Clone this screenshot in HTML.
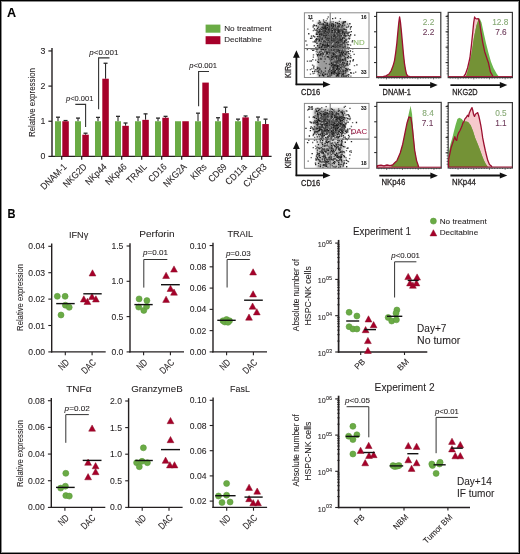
<!DOCTYPE html>
<html><head><meta charset="utf-8"><style>
html,body{margin:0;padding:0;background:#fff;}
#fig{position:relative;width:520px;height:554px;overflow:hidden;background:#fff;}
#fig svg{position:absolute;left:0;top:0;will-change:transform;}
#frame{position:absolute;left:0;top:0;width:520px;height:554px;box-sizing:border-box;border:1px solid #000;box-shadow:inset 0 0 0 1px rgba(0,0,0,0.45);}
text{font-family:"Liberation Sans", sans-serif;}
</style></head><body>
<div id="fig">
<svg width="520" height="554" viewBox="0 0 520 554" font-family='"Liberation Sans", sans-serif' fill="#231f20">
<text x="7.00" y="16.80" font-size="12.6" stroke="#000" stroke-width="0.08" font-weight="bold" fill="#000" >A</text>
<text x="7.60" y="217.90" font-size="12.6" stroke="#000" stroke-width="0.08" font-weight="bold" fill="#000" textLength="8.0" lengthAdjust="spacingAndGlyphs" >B</text>
<text x="282.80" y="217.90" font-size="12.6" stroke="#000" stroke-width="0.08" font-weight="bold" fill="#000" textLength="8.0" lengthAdjust="spacingAndGlyphs" >C</text>
<line x1="52.00" y1="48.05" x2="52.00" y2="157.10" stroke="#231f20" stroke-width="1.4" />
<line x1="51.30" y1="156.40" x2="271.60" y2="156.40" stroke="#231f20" stroke-width="1.4" />
<line x1="48.40" y1="156.40" x2="52.00" y2="156.40" stroke="#231f20" stroke-width="1.2" />
<text x="45.30" y="159.40" font-size="8.8" stroke="#231f20" stroke-width="0.08" text-anchor="end" >0</text>
<line x1="48.40" y1="121.25" x2="52.00" y2="121.25" stroke="#231f20" stroke-width="1.2" />
<text x="45.30" y="124.25" font-size="8.8" stroke="#231f20" stroke-width="0.08" text-anchor="end" >1</text>
<line x1="48.40" y1="86.10" x2="52.00" y2="86.10" stroke="#231f20" stroke-width="1.2" />
<text x="45.30" y="89.10" font-size="8.8" stroke="#231f20" stroke-width="0.08" text-anchor="end" >2</text>
<line x1="48.40" y1="50.95" x2="52.00" y2="50.95" stroke="#231f20" stroke-width="1.2" />
<text x="45.30" y="53.95" font-size="8.8" stroke="#231f20" stroke-width="0.08" text-anchor="end" >3</text>
<text x="34.90" y="102.50" font-size="8.6" stroke="#231f20" stroke-width="0.08" text-anchor="middle" transform="rotate(-90 34.90 102.50)" textLength="69.0" lengthAdjust="spacingAndGlyphs" >Relative expression</text>
<line x1="58.00" y1="121.25" x2="58.00" y2="117.21" stroke="#2a2a2a" stroke-width="1.1" />
<line x1="56.00" y1="117.21" x2="60.00" y2="117.21" stroke="#2a2a2a" stroke-width="1.3" />
<line x1="65.55" y1="121.25" x2="65.55" y2="120.55" stroke="#2a2a2a" stroke-width="1.1" />
<line x1="63.55" y1="120.55" x2="67.55" y2="120.55" stroke="#2a2a2a" stroke-width="1.3" />
<rect x="55.00" y="121.25" width="6.00" height="35.15" fill="#6aab45" />
<rect x="62.30" y="121.25" width="6.50" height="35.15" fill="#a6002a" />
<line x1="61.70" y1="156.40" x2="61.70" y2="159.80" stroke="#231f20" stroke-width="1.2" />
<text x="67.30" y="167.40" font-size="9.4" stroke="#231f20" stroke-width="0.08" text-anchor="end" transform="rotate(-45 67.30 167.40)" textLength="32.43" lengthAdjust="spacingAndGlyphs" >DNAM-1</text>
<line x1="78.00" y1="121.25" x2="78.00" y2="118.09" stroke="#2a2a2a" stroke-width="1.1" />
<line x1="76.00" y1="118.09" x2="80.00" y2="118.09" stroke="#2a2a2a" stroke-width="1.3" />
<line x1="85.55" y1="134.71" x2="85.55" y2="133.20" stroke="#2a2a2a" stroke-width="1.1" />
<line x1="83.55" y1="133.20" x2="87.55" y2="133.20" stroke="#2a2a2a" stroke-width="1.3" />
<rect x="75.00" y="121.25" width="6.00" height="35.15" fill="#6aab45" />
<rect x="82.30" y="134.71" width="6.50" height="21.69" fill="#a6002a" />
<line x1="81.70" y1="156.40" x2="81.70" y2="159.80" stroke="#231f20" stroke-width="1.2" />
<text x="87.30" y="167.40" font-size="9.4" stroke="#231f20" stroke-width="0.08" text-anchor="end" transform="rotate(-45 87.30 167.40)" textLength="29.15" lengthAdjust="spacingAndGlyphs" >NKG2D</text>
<line x1="98.00" y1="121.25" x2="98.00" y2="117.38" stroke="#2a2a2a" stroke-width="1.1" />
<line x1="96.00" y1="117.38" x2="100.00" y2="117.38" stroke="#2a2a2a" stroke-width="1.3" />
<line x1="105.55" y1="78.72" x2="105.55" y2="63.25" stroke="#2a2a2a" stroke-width="1.1" />
<line x1="103.55" y1="63.25" x2="107.55" y2="63.25" stroke="#2a2a2a" stroke-width="1.3" />
<rect x="95.00" y="121.25" width="6.00" height="35.15" fill="#6aab45" />
<rect x="102.30" y="78.72" width="6.50" height="77.68" fill="#a6002a" />
<line x1="101.70" y1="156.40" x2="101.70" y2="159.80" stroke="#231f20" stroke-width="1.2" />
<text x="107.30" y="167.40" font-size="9.4" stroke="#231f20" stroke-width="0.08" text-anchor="end" transform="rotate(-45 107.30 167.40)" textLength="25.87" lengthAdjust="spacingAndGlyphs" >NKp44</text>
<line x1="118.00" y1="121.25" x2="118.00" y2="116.33" stroke="#2a2a2a" stroke-width="1.1" />
<line x1="116.00" y1="116.33" x2="120.00" y2="116.33" stroke="#2a2a2a" stroke-width="1.3" />
<line x1="125.55" y1="125.82" x2="125.55" y2="123.01" stroke="#2a2a2a" stroke-width="1.1" />
<line x1="123.55" y1="123.01" x2="127.55" y2="123.01" stroke="#2a2a2a" stroke-width="1.3" />
<rect x="115.00" y="121.25" width="6.00" height="35.15" fill="#6aab45" />
<rect x="122.30" y="125.82" width="6.50" height="30.58" fill="#a6002a" />
<line x1="121.70" y1="156.40" x2="121.70" y2="159.80" stroke="#231f20" stroke-width="1.2" />
<text x="127.30" y="167.40" font-size="9.4" stroke="#231f20" stroke-width="0.08" text-anchor="end" transform="rotate(-45 127.30 167.40)" textLength="25.87" lengthAdjust="spacingAndGlyphs" >NKp46</text>
<line x1="138.00" y1="121.25" x2="138.00" y2="117.03" stroke="#2a2a2a" stroke-width="1.1" />
<line x1="136.00" y1="117.03" x2="140.00" y2="117.03" stroke="#2a2a2a" stroke-width="1.3" />
<line x1="145.55" y1="119.84" x2="145.55" y2="113.87" stroke="#2a2a2a" stroke-width="1.1" />
<line x1="143.55" y1="113.87" x2="147.55" y2="113.87" stroke="#2a2a2a" stroke-width="1.3" />
<rect x="135.00" y="121.25" width="6.00" height="35.15" fill="#6aab45" />
<rect x="142.30" y="119.84" width="6.50" height="36.56" fill="#a6002a" />
<line x1="141.70" y1="156.40" x2="141.70" y2="159.80" stroke="#231f20" stroke-width="1.2" />
<text x="147.30" y="167.40" font-size="9.4" stroke="#231f20" stroke-width="0.08" text-anchor="end" transform="rotate(-45 147.30 167.40)" textLength="23.97" lengthAdjust="spacingAndGlyphs" >TRAIL</text>
<line x1="158.00" y1="121.25" x2="158.00" y2="118.09" stroke="#2a2a2a" stroke-width="1.1" />
<line x1="156.00" y1="118.09" x2="160.00" y2="118.09" stroke="#2a2a2a" stroke-width="1.3" />
<line x1="165.55" y1="117.74" x2="165.55" y2="116.33" stroke="#2a2a2a" stroke-width="1.1" />
<line x1="163.55" y1="116.33" x2="167.55" y2="116.33" stroke="#2a2a2a" stroke-width="1.3" />
<rect x="155.00" y="121.25" width="6.00" height="35.15" fill="#6aab45" />
<rect x="162.30" y="117.74" width="6.50" height="38.66" fill="#a6002a" />
<line x1="161.70" y1="156.40" x2="161.70" y2="159.80" stroke="#231f20" stroke-width="1.2" />
<text x="167.30" y="167.40" font-size="9.4" stroke="#231f20" stroke-width="0.08" text-anchor="end" transform="rotate(-45 167.30 167.40)" textLength="21.63" lengthAdjust="spacingAndGlyphs" >CD16</text>
<rect x="175.00" y="121.25" width="6.00" height="35.15" fill="#6aab45" />
<rect x="182.30" y="121.25" width="6.50" height="35.15" fill="#a6002a" />
<line x1="181.70" y1="156.40" x2="181.70" y2="159.80" stroke="#231f20" stroke-width="1.2" />
<text x="187.30" y="167.40" font-size="9.4" stroke="#231f20" stroke-width="0.08" text-anchor="end" transform="rotate(-45 187.30 167.40)" textLength="28.68" lengthAdjust="spacingAndGlyphs" >NKG2A</text>
<line x1="198.00" y1="121.25" x2="198.00" y2="113.17" stroke="#2a2a2a" stroke-width="1.1" />
<line x1="196.00" y1="113.17" x2="200.00" y2="113.17" stroke="#2a2a2a" stroke-width="1.3" />
<rect x="195.00" y="121.25" width="6.00" height="35.15" fill="#6aab45" />
<rect x="202.30" y="82.59" width="6.50" height="73.81" fill="#a6002a" />
<line x1="201.70" y1="156.40" x2="201.70" y2="159.80" stroke="#231f20" stroke-width="1.2" />
<text x="207.30" y="167.40" font-size="9.4" stroke="#231f20" stroke-width="0.08" text-anchor="end" transform="rotate(-45 207.30 167.40)" textLength="18.33" lengthAdjust="spacingAndGlyphs" >KIRs</text>
<line x1="218.00" y1="121.25" x2="218.00" y2="117.74" stroke="#2a2a2a" stroke-width="1.1" />
<line x1="216.00" y1="117.74" x2="220.00" y2="117.74" stroke="#2a2a2a" stroke-width="1.3" />
<line x1="225.55" y1="113.17" x2="225.55" y2="107.19" stroke="#2a2a2a" stroke-width="1.1" />
<line x1="223.55" y1="107.19" x2="227.55" y2="107.19" stroke="#2a2a2a" stroke-width="1.3" />
<rect x="215.00" y="121.25" width="6.00" height="35.15" fill="#6aab45" />
<rect x="222.30" y="113.17" width="6.50" height="43.23" fill="#a6002a" />
<line x1="221.70" y1="156.40" x2="221.70" y2="159.80" stroke="#231f20" stroke-width="1.2" />
<text x="227.30" y="167.40" font-size="9.4" stroke="#231f20" stroke-width="0.08" text-anchor="end" transform="rotate(-45 227.30 167.40)" textLength="21.63" lengthAdjust="spacingAndGlyphs" >CD69</text>
<line x1="238.00" y1="121.25" x2="238.00" y2="119.14" stroke="#2a2a2a" stroke-width="1.1" />
<line x1="236.00" y1="119.14" x2="240.00" y2="119.14" stroke="#2a2a2a" stroke-width="1.3" />
<line x1="245.55" y1="117.38" x2="245.55" y2="115.98" stroke="#2a2a2a" stroke-width="1.1" />
<line x1="243.55" y1="115.98" x2="247.55" y2="115.98" stroke="#2a2a2a" stroke-width="1.3" />
<rect x="235.00" y="121.25" width="6.00" height="35.15" fill="#6aab45" />
<rect x="242.30" y="117.38" width="6.50" height="39.02" fill="#a6002a" />
<line x1="241.70" y1="156.40" x2="241.70" y2="159.80" stroke="#231f20" stroke-width="1.2" />
<text x="247.30" y="167.40" font-size="9.4" stroke="#231f20" stroke-width="0.08" text-anchor="end" transform="rotate(-45 247.30 167.40)" textLength="25.71" lengthAdjust="spacingAndGlyphs" >CD11a</text>
<line x1="258.00" y1="121.25" x2="258.00" y2="117.03" stroke="#2a2a2a" stroke-width="1.1" />
<line x1="256.00" y1="117.03" x2="260.00" y2="117.03" stroke="#2a2a2a" stroke-width="1.3" />
<line x1="265.55" y1="124.06" x2="265.55" y2="119.14" stroke="#2a2a2a" stroke-width="1.1" />
<line x1="263.55" y1="119.14" x2="267.55" y2="119.14" stroke="#2a2a2a" stroke-width="1.3" />
<rect x="255.00" y="121.25" width="6.00" height="35.15" fill="#6aab45" />
<rect x="262.30" y="124.06" width="6.50" height="32.34" fill="#a6002a" />
<line x1="261.70" y1="156.40" x2="261.70" y2="159.80" stroke="#231f20" stroke-width="1.2" />
<text x="267.30" y="167.40" font-size="9.4" stroke="#231f20" stroke-width="0.08" text-anchor="end" transform="rotate(-45 267.30 167.40)" textLength="28.68" lengthAdjust="spacingAndGlyphs" >CXCR3</text>
<text x="66.00" y="101.30" font-size="7.6" stroke="#231f20" stroke-width="0.08" textLength="27.4" lengthAdjust="spacingAndGlyphs"><tspan font-style="italic">p</tspan>&lt;0.001</text>
<polyline points="75.30,104.40 85.60,104.40 85.60,127.00" fill="none" stroke="#333" stroke-width="1.1" />
<text x="89.30" y="54.70" font-size="7.5" stroke="#231f20" stroke-width="0.08" textLength="29.2" lengthAdjust="spacingAndGlyphs"><tspan font-style="italic">p</tspan>&lt;0.001</text>
<polyline points="98.60,109.20 98.60,57.90 109.50,57.90" fill="none" stroke="#333" stroke-width="1.1" />
<text x="189.20" y="67.80" font-size="7.5" stroke="#231f20" stroke-width="0.08" textLength="27.9" lengthAdjust="spacingAndGlyphs"><tspan font-style="italic">p</tspan>&lt;0.001</text>
<polyline points="198.60,106.20 198.60,71.50 209.00,71.50" fill="none" stroke="#333" stroke-width="1.1" />
<rect x="205.60" y="24.60" width="14.80" height="8.10" fill="#6aab45" />
<rect x="205.60" y="36.20" width="14.80" height="8.00" fill="#a6002a" />
<text x="224.20" y="31.40" font-size="8.1" stroke="#231f20" stroke-width="0.08" textLength="47.3" lengthAdjust="spacingAndGlyphs" >No treatment</text>
<text x="224.20" y="42.40" font-size="8.1" stroke="#231f20" stroke-width="0.08" textLength="37.8" lengthAdjust="spacingAndGlyphs" >Decitabine</text>
<defs><filter id="blr" x="-50%" y="-50%" width="200%" height="200%"><feGaussianBlur stdDeviation="1.8"/></filter><filter id="blr2" x="-50%" y="-50%" width="200%" height="200%"><feGaussianBlur stdDeviation="3"/></filter><filter id="blr3" x="-5%" y="-5%" width="110%" height="110%"><feGaussianBlur stdDeviation="0.35"/></filter></defs>
<rect x="304.4" y="12.8" width="64.60000000000002" height="64.7" fill="#fff"/>
<clipPath id="cp12"><rect x="304.4" y="12.8" width="64.60000000000002" height="64.7"/></clipPath>
<g clip-path="url(#cp12)">
<g filter="url(#blr)">
<rect x="317" y="22" width="30" height="28" fill="#a4a4a4"/>
<rect x="318" y="49" width="30" height="31" fill="#acacac"/>
</g>
<ellipse cx="323.8" cy="65.3" rx="5.4" ry="11.4" fill="#9c9c9c" filter="url(#blr)"/>
<g filter="url(#blr3)">
<path d="M322.1 73.4h1.35v1.35h-1.35zM335.6 42.0h1.35v1.35h-1.35zM336.0 65.4h1.35v1.35h-1.35zM319.7 43.1h1.35v1.35h-1.35zM328.7 28.6h1.35v1.35h-1.35zM336.8 23.0h1.35v1.35h-1.35zM331.8 30.1h1.35v1.35h-1.35zM316.5 33.6h1.35v1.35h-1.35zM333.2 66.0h1.35v1.35h-1.35zM356.2 64.2h1.35v1.35h-1.35zM342.7 52.0h1.35v1.35h-1.35zM337.6 29.0h1.35v1.35h-1.35zM336.8 44.5h1.35v1.35h-1.35zM326.5 73.4h1.35v1.35h-1.35zM314.1 41.1h1.35v1.35h-1.35zM346.7 63.3h1.35v1.35h-1.35zM325.9 53.2h1.35v1.35h-1.35zM313.0 49.4h1.35v1.35h-1.35zM330.7 39.5h1.35v1.35h-1.35zM337.3 29.2h1.35v1.35h-1.35zM325.6 35.1h1.35v1.35h-1.35zM339.0 52.0h1.35v1.35h-1.35zM349.2 69.1h1.35v1.35h-1.35zM346.8 61.0h1.35v1.35h-1.35zM321.1 28.7h1.35v1.35h-1.35zM342.7 22.6h1.35v1.35h-1.35zM334.8 69.7h1.35v1.35h-1.35zM345.5 75.3h1.35v1.35h-1.35zM335.7 75.3h1.35v1.35h-1.35zM342.0 62.0h1.35v1.35h-1.35zM338.1 59.2h1.35v1.35h-1.35zM332.0 17.9h1.35v1.35h-1.35zM328.8 63.7h1.35v1.35h-1.35zM336.9 66.3h1.35v1.35h-1.35zM329.2 42.0h1.35v1.35h-1.35zM350.6 25.9h1.35v1.35h-1.35zM347.7 55.6h1.35v1.35h-1.35zM311.2 37.4h1.35v1.35h-1.35zM323.0 75.1h1.35v1.35h-1.35zM334.0 29.5h1.35v1.35h-1.35zM341.9 30.6h1.35v1.35h-1.35zM328.8 26.7h1.35v1.35h-1.35zM332.2 66.7h1.35v1.35h-1.35zM333.9 72.1h1.35v1.35h-1.35zM323.6 29.4h1.35v1.35h-1.35zM349.7 50.3h1.35v1.35h-1.35zM335.0 56.1h1.35v1.35h-1.35zM338.7 68.6h1.35v1.35h-1.35zM322.6 24.1h1.35v1.35h-1.35zM321.7 74.5h1.35v1.35h-1.35zM342.8 47.0h1.35v1.35h-1.35zM338.6 23.0h1.35v1.35h-1.35zM344.0 37.5h1.35v1.35h-1.35zM333.1 44.4h1.35v1.35h-1.35zM336.7 50.4h1.35v1.35h-1.35zM331.2 30.3h1.35v1.35h-1.35zM335.1 64.7h1.35v1.35h-1.35zM344.0 62.4h1.35v1.35h-1.35zM343.0 64.5h1.35v1.35h-1.35zM343.1 21.3h1.35v1.35h-1.35zM326.5 44.5h1.35v1.35h-1.35zM328.1 28.4h1.35v1.35h-1.35zM313.7 28.2h1.35v1.35h-1.35zM326.9 43.6h1.35v1.35h-1.35zM324.5 30.1h1.35v1.35h-1.35zM324.9 44.5h1.35v1.35h-1.35zM335.2 36.6h1.35v1.35h-1.35zM315.7 25.1h1.35v1.35h-1.35zM343.6 33.1h1.35v1.35h-1.35zM327.2 45.5h1.35v1.35h-1.35zM337.9 31.9h1.35v1.35h-1.35zM330.9 36.2h1.35v1.35h-1.35zM334.8 25.3h1.35v1.35h-1.35zM341.2 39.1h1.35v1.35h-1.35zM338.0 29.9h1.35v1.35h-1.35zM329.2 40.5h1.35v1.35h-1.35zM337.1 36.2h1.35v1.35h-1.35zM330.7 37.1h1.35v1.35h-1.35zM343.3 42.2h1.35v1.35h-1.35zM337.8 48.5h1.35v1.35h-1.35zM312.1 49.6h1.35v1.35h-1.35zM346.5 69.2h1.35v1.35h-1.35zM319.2 68.5h1.35v1.35h-1.35zM332.7 23.4h1.35v1.35h-1.35zM333.1 68.3h1.35v1.35h-1.35zM321.2 34.0h1.35v1.35h-1.35zM326.5 22.6h1.35v1.35h-1.35zM323.6 31.5h1.35v1.35h-1.35zM316.5 71.0h1.35v1.35h-1.35zM331.0 73.2h1.35v1.35h-1.35zM323.1 35.0h1.35v1.35h-1.35zM327.0 25.0h1.35v1.35h-1.35zM329.6 42.0h1.35v1.35h-1.35zM335.8 57.5h1.35v1.35h-1.35zM323.2 32.5h1.35v1.35h-1.35zM342.8 73.0h1.35v1.35h-1.35zM337.9 41.6h1.35v1.35h-1.35zM344.0 41.1h1.35v1.35h-1.35zM327.7 29.0h1.35v1.35h-1.35zM326.9 23.5h1.35v1.35h-1.35zM344.8 70.1h1.35v1.35h-1.35zM326.5 53.1h1.35v1.35h-1.35zM330.7 72.1h1.35v1.35h-1.35zM344.2 31.5h1.35v1.35h-1.35zM310.8 35.5h1.35v1.35h-1.35zM334.3 53.4h1.35v1.35h-1.35zM317.5 26.4h1.35v1.35h-1.35zM318.5 36.1h1.35v1.35h-1.35zM331.2 32.0h1.35v1.35h-1.35zM344.9 54.0h1.35v1.35h-1.35zM342.0 52.4h1.35v1.35h-1.35zM330.0 60.1h1.35v1.35h-1.35zM344.9 35.5h1.35v1.35h-1.35zM322.2 45.1h1.35v1.35h-1.35zM332.9 24.3h1.35v1.35h-1.35zM338.0 73.0h1.35v1.35h-1.35zM332.9 54.0h1.35v1.35h-1.35zM333.5 34.1h1.35v1.35h-1.35zM332.6 26.1h1.35v1.35h-1.35zM333.2 53.5h1.35v1.35h-1.35zM348.1 74.1h1.35v1.35h-1.35zM352.3 60.2h1.35v1.35h-1.35zM340.1 60.5h1.35v1.35h-1.35zM336.2 61.1h1.35v1.35h-1.35zM349.2 23.1h1.35v1.35h-1.35zM339.8 45.5h1.35v1.35h-1.35zM336.2 41.3h1.35v1.35h-1.35zM325.1 27.7h1.35v1.35h-1.35zM312.8 35.3h1.35v1.35h-1.35zM320.0 54.1h1.35v1.35h-1.35zM348.0 25.4h1.35v1.35h-1.35zM346.8 57.0h1.35v1.35h-1.35zM315.7 33.6h1.35v1.35h-1.35zM320.5 40.5h1.35v1.35h-1.35zM322.2 30.4h1.35v1.35h-1.35zM316.9 55.1h1.35v1.35h-1.35zM341.7 54.1h1.35v1.35h-1.35zM321.7 44.0h1.35v1.35h-1.35zM321.1 38.5h1.35v1.35h-1.35zM317.0 45.1h1.35v1.35h-1.35zM339.9 58.5h1.35v1.35h-1.35zM342.3 37.1h1.35v1.35h-1.35zM350.0 34.1h1.35v1.35h-1.35zM327.7 40.0h1.35v1.35h-1.35zM330.2 38.3h1.35v1.35h-1.35zM317.9 53.5h1.35v1.35h-1.35zM335.8 73.2h1.35v1.35h-1.35zM347.6 51.0h1.35v1.35h-1.35zM324.7 26.3h1.35v1.35h-1.35zM330.6 47.0h1.35v1.35h-1.35zM323.1 40.4h1.35v1.35h-1.35zM312.0 71.0h1.35v1.35h-1.35zM329.8 75.0h1.35v1.35h-1.35zM326.6 38.0h1.35v1.35h-1.35zM341.7 31.6h1.35v1.35h-1.35zM338.3 67.7h1.35v1.35h-1.35zM326.7 31.4h1.35v1.35h-1.35zM331.0 63.0h1.35v1.35h-1.35zM338.2 39.3h1.35v1.35h-1.35zM329.2 49.5h1.35v1.35h-1.35zM339.0 55.3h1.35v1.35h-1.35zM329.0 68.7h1.35v1.35h-1.35zM323.5 47.2h1.35v1.35h-1.35zM331.0 58.7h1.35v1.35h-1.35zM339.0 30.5h1.35v1.35h-1.35zM334.6 31.2h1.35v1.35h-1.35zM350.6 31.0h1.35v1.35h-1.35zM338.7 25.6h1.35v1.35h-1.35zM334.5 46.5h1.35v1.35h-1.35zM337.0 65.1h1.35v1.35h-1.35zM341.8 59.4h1.35v1.35h-1.35zM326.6 27.1h1.35v1.35h-1.35zM316.2 49.1h1.35v1.35h-1.35zM337.0 73.9h1.35v1.35h-1.35zM322.0 37.5h1.35v1.35h-1.35zM324.2 27.4h1.35v1.35h-1.35zM309.8 18.2h1.35v1.35h-1.35zM323.0 43.4h1.35v1.35h-1.35zM322.1 26.9h1.35v1.35h-1.35zM337.8 57.4h1.35v1.35h-1.35zM345.3 28.9h1.35v1.35h-1.35zM316.1 37.9h1.35v1.35h-1.35zM344.2 35.1h1.35v1.35h-1.35zM333.8 32.2h1.35v1.35h-1.35zM350.2 57.1h1.35v1.35h-1.35zM316.3 42.6h1.35v1.35h-1.35zM324.1 21.7h1.35v1.35h-1.35zM322.2 48.5h1.35v1.35h-1.35zM324.5 73.6h1.35v1.35h-1.35zM325.5 29.0h1.35v1.35h-1.35zM334.8 17.4h1.35v1.35h-1.35zM318.0 31.6h1.35v1.35h-1.35zM322.9 49.0h1.35v1.35h-1.35zM349.1 35.3h1.35v1.35h-1.35zM316.8 28.0h1.35v1.35h-1.35zM339.1 73.0h1.35v1.35h-1.35zM328.0 56.3h1.35v1.35h-1.35zM333.6 71.5h1.35v1.35h-1.35zM325.0 48.1h1.35v1.35h-1.35zM352.7 59.1h1.35v1.35h-1.35zM341.8 24.7h1.35v1.35h-1.35zM319.2 23.5h1.35v1.35h-1.35zM343.2 59.4h1.35v1.35h-1.35zM340.7 51.9h1.35v1.35h-1.35zM333.6 48.3h1.35v1.35h-1.35zM329.3 44.5h1.35v1.35h-1.35zM333.0 67.0h1.35v1.35h-1.35zM323.0 28.0h1.35v1.35h-1.35zM323.8 45.0h1.35v1.35h-1.35zM336.9 60.3h1.35v1.35h-1.35zM326.2 46.5h1.35v1.35h-1.35zM318.7 34.1h1.35v1.35h-1.35zM314.0 36.2h1.35v1.35h-1.35zM333.9 65.0h1.35v1.35h-1.35zM318.9 38.9h1.35v1.35h-1.35zM313.9 25.0h1.35v1.35h-1.35zM330.0 51.5h1.35v1.35h-1.35zM333.8 70.5h1.35v1.35h-1.35zM338.5 50.0h1.35v1.35h-1.35zM332.8 49.5h1.35v1.35h-1.35zM309.9 37.7h1.35v1.35h-1.35zM340.2 29.2h1.35v1.35h-1.35zM345.2 68.1h1.35v1.35h-1.35zM316.8 36.0h1.35v1.35h-1.35zM318.7 46.6h1.35v1.35h-1.35zM331.7 46.0h1.35v1.35h-1.35zM334.2 39.3h1.35v1.35h-1.35zM318.7 40.2h1.35v1.35h-1.35zM341.7 38.0h1.35v1.35h-1.35zM334.2 30.3h1.35v1.35h-1.35zM339.8 53.9h1.35v1.35h-1.35zM341.9 47.7h1.35v1.35h-1.35zM342.0 58.7h1.35v1.35h-1.35zM328.9 30.9h1.35v1.35h-1.35zM327.9 32.5h1.35v1.35h-1.35zM333.0 46.1h1.35v1.35h-1.35zM345.5 39.4h1.35v1.35h-1.35zM327.3 75.6h1.35v1.35h-1.35zM331.2 40.1h1.35v1.35h-1.35zM338.0 31.3h1.35v1.35h-1.35zM320.9 49.0h1.35v1.35h-1.35zM324.9 30.9h1.35v1.35h-1.35zM328.7 37.6h1.35v1.35h-1.35zM347.2 32.6h1.35v1.35h-1.35zM347.6 34.9h1.35v1.35h-1.35zM348.6 38.1h1.35v1.35h-1.35zM337.2 26.1h1.35v1.35h-1.35zM326.7 56.1h1.35v1.35h-1.35zM344.7 58.3h1.35v1.35h-1.35zM316.7 67.6h1.35v1.35h-1.35zM324.8 67.5h1.35v1.35h-1.35zM327.8 45.1h1.35v1.35h-1.35zM331.1 28.2h1.35v1.35h-1.35zM337.6 50.2h1.35v1.35h-1.35zM345.6 52.2h1.35v1.35h-1.35zM317.9 61.7h1.35v1.35h-1.35zM347.5 41.2h1.35v1.35h-1.35zM329.2 23.5h1.35v1.35h-1.35zM331.0 56.6h1.35v1.35h-1.35zM333.7 35.5h1.35v1.35h-1.35zM339.2 60.3h1.35v1.35h-1.35zM324.6 35.3h1.35v1.35h-1.35zM330.7 62.3h1.35v1.35h-1.35zM324.8 41.2h1.35v1.35h-1.35zM328.6 27.2h1.35v1.35h-1.35zM343.5 28.6h1.35v1.35h-1.35zM344.3 34.4h1.35v1.35h-1.35zM336.8 67.7h1.35v1.35h-1.35zM325.9 24.5h1.35v1.35h-1.35zM335.2 51.4h1.35v1.35h-1.35zM344.7 21.1h1.35v1.35h-1.35zM332.9 36.0h1.35v1.35h-1.35zM333.1 28.5h1.35v1.35h-1.35zM332.1 64.0h1.35v1.35h-1.35zM337.7 69.4h1.35v1.35h-1.35zM314.1 70.6h1.35v1.35h-1.35zM324.8 29.6h1.35v1.35h-1.35zM320.8 33.3h1.35v1.35h-1.35zM329.8 35.4h1.35v1.35h-1.35zM317.7 22.4h1.35v1.35h-1.35zM332.2 55.6h1.35v1.35h-1.35zM326.6 51.6h1.35v1.35h-1.35zM320.9 47.6h1.35v1.35h-1.35zM318.9 51.4h1.35v1.35h-1.35zM340.5 34.9h1.35v1.35h-1.35zM339.8 55.3h1.35v1.35h-1.35zM334.8 28.7h1.35v1.35h-1.35zM329.1 25.6h1.35v1.35h-1.35zM330.6 24.3h1.35v1.35h-1.35zM324.6 25.2h1.35v1.35h-1.35zM315.8 39.3h1.35v1.35h-1.35zM328.7 29.6h1.35v1.35h-1.35zM336.9 75.1h1.35v1.35h-1.35zM342.3 50.6h1.35v1.35h-1.35zM332.5 71.3h1.35v1.35h-1.35zM325.1 36.9h1.35v1.35h-1.35zM342.8 70.4h1.35v1.35h-1.35zM338.2 71.2h1.35v1.35h-1.35zM330.9 25.2h1.35v1.35h-1.35zM310.6 48.1h1.35v1.35h-1.35zM321.1 46.1h1.35v1.35h-1.35zM335.9 55.3h1.35v1.35h-1.35zM333.1 52.2h1.35v1.35h-1.35zM349.6 60.3h1.35v1.35h-1.35zM339.6 39.5h1.35v1.35h-1.35zM338.0 74.4h1.35v1.35h-1.35zM318.2 72.0h1.35v1.35h-1.35zM324.1 26.2h1.35v1.35h-1.35zM332.6 64.3h1.35v1.35h-1.35zM317.0 54.1h1.35v1.35h-1.35zM354.1 34.4h1.35v1.35h-1.35zM318.8 75.1h1.35v1.35h-1.35zM339.7 38.3h1.35v1.35h-1.35zM336.8 48.1h1.35v1.35h-1.35zM322.6 53.3h1.35v1.35h-1.35zM329.2 70.5h1.35v1.35h-1.35zM342.2 73.9h1.35v1.35h-1.35zM329.1 52.4h1.35v1.35h-1.35zM336.0 68.6h1.35v1.35h-1.35zM308.1 33.1h1.35v1.35h-1.35zM335.1 22.0h1.35v1.35h-1.35zM331.1 70.0h1.35v1.35h-1.35zM350.1 72.1h1.35v1.35h-1.35zM319.0 30.6h1.35v1.35h-1.35zM333.1 40.4h1.35v1.35h-1.35zM328.8 51.5h1.35v1.35h-1.35zM340.0 66.9h1.35v1.35h-1.35zM332.7 73.0h1.35v1.35h-1.35zM330.8 65.0h1.35v1.35h-1.35zM325.8 51.3h1.35v1.35h-1.35z" fill="#000" fill-opacity="0.85"/>
<path d="M338.6 31.3h1.35v1.35h-1.35zM331.7 57.1h1.35v1.35h-1.35zM326.6 40.2h1.35v1.35h-1.35zM344.0 48.2h1.35v1.35h-1.35zM336.9 22.3h1.35v1.35h-1.35zM315.2 46.9h1.35v1.35h-1.35zM338.0 26.1h1.35v1.35h-1.35zM337.1 68.9h1.35v1.35h-1.35zM312.5 41.2h1.35v1.35h-1.35zM337.2 40.3h1.35v1.35h-1.35zM315.0 59.5h1.35v1.35h-1.35zM348.9 63.3h1.35v1.35h-1.35zM337.1 30.1h1.35v1.35h-1.35zM317.8 67.3h1.35v1.35h-1.35zM320.8 52.9h1.35v1.35h-1.35zM343.1 61.5h1.35v1.35h-1.35zM323.0 72.0h1.35v1.35h-1.35zM341.2 29.5h1.35v1.35h-1.35zM323.0 34.2h1.35v1.35h-1.35zM335.3 45.4h1.35v1.35h-1.35zM324.8 33.1h1.35v1.35h-1.35zM329.0 46.4h1.35v1.35h-1.35zM344.9 72.2h1.35v1.35h-1.35zM342.1 41.5h1.35v1.35h-1.35zM336.6 62.1h1.35v1.35h-1.35zM319.2 74.4h1.35v1.35h-1.35zM317.8 58.6h1.35v1.35h-1.35zM323.3 27.1h1.35v1.35h-1.35zM332.2 24.5h1.35v1.35h-1.35zM335.7 62.3h1.35v1.35h-1.35zM341.6 73.2h1.35v1.35h-1.35zM343.2 75.1h1.35v1.35h-1.35zM344.1 43.3h1.35v1.35h-1.35zM331.8 26.6h1.35v1.35h-1.35zM340.5 27.2h1.35v1.35h-1.35zM333.8 73.4h1.35v1.35h-1.35zM344.8 46.3h1.35v1.35h-1.35zM337.5 24.4h1.35v1.35h-1.35zM332.6 69.0h1.35v1.35h-1.35zM330.0 70.6h1.35v1.35h-1.35zM333.9 64.1h1.35v1.35h-1.35zM325.3 46.1h1.35v1.35h-1.35zM337.8 60.2h1.35v1.35h-1.35zM346.0 41.9h1.35v1.35h-1.35zM343.1 71.1h1.35v1.35h-1.35zM336.9 31.3h1.35v1.35h-1.35zM342.7 31.6h1.35v1.35h-1.35zM334.8 37.5h1.35v1.35h-1.35zM335.6 72.6h1.35v1.35h-1.35zM329.2 72.7h1.35v1.35h-1.35zM335.7 56.5h1.35v1.35h-1.35zM328.6 31.9h1.35v1.35h-1.35zM333.7 50.3h1.35v1.35h-1.35zM347.8 76.1h1.35v1.35h-1.35zM337.7 34.2h1.35v1.35h-1.35zM306.2 44.3h1.35v1.35h-1.35zM343.2 55.0h1.35v1.35h-1.35zM345.0 56.9h1.35v1.35h-1.35zM326.0 28.1h1.35v1.35h-1.35zM318.7 44.4h1.35v1.35h-1.35zM330.7 50.0h1.35v1.35h-1.35zM325.0 49.0h1.35v1.35h-1.35zM341.6 53.1h1.35v1.35h-1.35zM331.7 31.9h1.35v1.35h-1.35zM337.0 34.3h1.35v1.35h-1.35zM315.9 32.3h1.35v1.35h-1.35zM330.2 32.1h1.35v1.35h-1.35zM334.7 71.3h1.35v1.35h-1.35zM316.9 30.2h1.35v1.35h-1.35zM333.0 56.2h1.35v1.35h-1.35zM322.7 44.2h1.35v1.35h-1.35zM333.2 70.0h1.35v1.35h-1.35zM318.2 69.4h1.35v1.35h-1.35zM338.7 54.7h1.35v1.35h-1.35zM337.7 56.4h1.35v1.35h-1.35zM321.6 47.7h1.35v1.35h-1.35zM355.0 71.5h1.35v1.35h-1.35zM328.8 74.2h1.35v1.35h-1.35zM327.9 51.4h1.35v1.35h-1.35zM335.8 33.2h1.35v1.35h-1.35zM322.0 39.0h1.35v1.35h-1.35zM329.0 24.2h1.35v1.35h-1.35zM334.7 55.3h1.35v1.35h-1.35zM337.0 73.2h1.35v1.35h-1.35zM333.2 55.6h1.35v1.35h-1.35zM336.1 63.3h1.35v1.35h-1.35zM333.0 58.0h1.35v1.35h-1.35zM319.0 32.3h1.35v1.35h-1.35zM335.1 66.3h1.35v1.35h-1.35zM332.6 38.5h1.35v1.35h-1.35zM330.1 28.3h1.35v1.35h-1.35zM337.2 68.5h1.35v1.35h-1.35zM332.2 72.3h1.35v1.35h-1.35zM337.2 71.5h1.35v1.35h-1.35zM338.8 36.4h1.35v1.35h-1.35zM305.2 40.3h1.35v1.35h-1.35zM312.5 73.0h1.35v1.35h-1.35zM329.0 30.1h1.35v1.35h-1.35zM314.5 48.4h1.35v1.35h-1.35zM341.2 53.3h1.35v1.35h-1.35zM333.3 34.3h1.35v1.35h-1.35zM336.1 32.2h1.35v1.35h-1.35zM329.7 41.2h1.35v1.35h-1.35zM319.8 58.3h1.35v1.35h-1.35zM318.2 54.2h1.35v1.35h-1.35zM319.8 37.2h1.35v1.35h-1.35zM327.0 45.9h1.35v1.35h-1.35zM344.2 46.0h1.35v1.35h-1.35zM336.6 38.1h1.35v1.35h-1.35zM343.1 35.1h1.35v1.35h-1.35zM312.1 59.0h1.35v1.35h-1.35zM339.5 33.1h1.35v1.35h-1.35zM319.6 30.4h1.35v1.35h-1.35zM327.1 52.1h1.35v1.35h-1.35zM349.9 44.4h1.35v1.35h-1.35zM336.2 52.5h1.35v1.35h-1.35zM344.0 50.5h1.35v1.35h-1.35zM330.6 42.4h1.35v1.35h-1.35zM330.2 74.3h1.35v1.35h-1.35zM345.9 68.2h1.35v1.35h-1.35zM329.6 67.3h1.35v1.35h-1.35zM335.0 63.7h1.35v1.35h-1.35zM343.9 56.0h1.35v1.35h-1.35zM337.8 42.6h1.35v1.35h-1.35zM335.0 34.4h1.35v1.35h-1.35zM343.9 21.3h1.35v1.35h-1.35zM339.2 45.2h1.35v1.35h-1.35zM328.8 45.4h1.35v1.35h-1.35zM340.7 51.1h1.35v1.35h-1.35zM327.6 34.4h1.35v1.35h-1.35zM342.2 42.7h1.35v1.35h-1.35zM326.0 31.4h1.35v1.35h-1.35zM319.7 21.6h1.35v1.35h-1.35zM332.2 68.5h1.35v1.35h-1.35zM342.7 76.0h1.35v1.35h-1.35zM335.1 65.0h1.35v1.35h-1.35zM334.8 38.0h1.35v1.35h-1.35zM314.5 29.6h1.35v1.35h-1.35zM338.2 49.6h1.35v1.35h-1.35zM342.0 32.4h1.35v1.35h-1.35zM337.5 72.0h1.35v1.35h-1.35zM345.1 60.1h1.35v1.35h-1.35zM324.8 47.1h1.35v1.35h-1.35zM327.8 25.3h1.35v1.35h-1.35zM346.1 26.6h1.35v1.35h-1.35zM320.0 53.0h1.35v1.35h-1.35zM326.2 34.4h1.35v1.35h-1.35zM324.1 44.6h1.35v1.35h-1.35zM340.2 52.9h1.35v1.35h-1.35zM346.5 62.2h1.35v1.35h-1.35zM313.6 45.1h1.35v1.35h-1.35zM317.0 61.1h1.35v1.35h-1.35zM332.2 31.7h1.35v1.35h-1.35zM350.8 72.4h1.35v1.35h-1.35zM312.6 25.3h1.35v1.35h-1.35zM322.8 23.0h1.35v1.35h-1.35zM342.3 55.1h1.35v1.35h-1.35zM334.6 35.4h1.35v1.35h-1.35zM336.8 32.3h1.35v1.35h-1.35zM326.0 38.7h1.35v1.35h-1.35zM320.8 58.3h1.35v1.35h-1.35zM338.7 29.3h1.35v1.35h-1.35zM306.7 49.0h1.35v1.35h-1.35zM338.6 34.4h1.35v1.35h-1.35zM330.7 49.0h1.35v1.35h-1.35zM347.2 64.6h1.35v1.35h-1.35zM330.0 33.3h1.35v1.35h-1.35zM346.7 43.7h1.35v1.35h-1.35zM316.9 51.4h1.35v1.35h-1.35zM328.2 54.2h1.35v1.35h-1.35zM331.2 45.4h1.35v1.35h-1.35zM316.0 30.1h1.35v1.35h-1.35zM342.1 61.6h1.35v1.35h-1.35zM338.0 66.0h1.35v1.35h-1.35zM338.3 37.7h1.35v1.35h-1.35zM338.1 64.7h1.35v1.35h-1.35zM318.8 21.6h1.35v1.35h-1.35zM330.9 54.6h1.35v1.35h-1.35zM339.2 64.1h1.35v1.35h-1.35zM337.1 42.9h1.35v1.35h-1.35zM324.2 49.4h1.35v1.35h-1.35zM342.8 63.3h1.35v1.35h-1.35zM335.5 46.1h1.35v1.35h-1.35zM332.8 39.5h1.35v1.35h-1.35zM328.2 30.5h1.35v1.35h-1.35zM341.2 40.3h1.35v1.35h-1.35zM321.0 71.2h1.35v1.35h-1.35zM346.7 51.2h1.35v1.35h-1.35zM332.0 63.5h1.35v1.35h-1.35zM329.2 41.0h1.35v1.35h-1.35zM310.7 60.3h1.35v1.35h-1.35zM333.9 37.4h1.35v1.35h-1.35zM337.7 25.5h1.35v1.35h-1.35zM333.9 55.3h1.35v1.35h-1.35zM340.2 59.6h1.35v1.35h-1.35zM335.9 29.5h1.35v1.35h-1.35zM330.6 56.9h1.35v1.35h-1.35zM329.9 58.5h1.35v1.35h-1.35zM336.7 46.2h1.35v1.35h-1.35zM319.0 29.0h1.35v1.35h-1.35zM339.2 43.6h1.35v1.35h-1.35zM337.7 28.5h1.35v1.35h-1.35zM340.5 43.6h1.35v1.35h-1.35zM326.9 42.3h1.35v1.35h-1.35zM330.5 29.7h1.35v1.35h-1.35zM342.3 70.1h1.35v1.35h-1.35zM317.8 70.6h1.35v1.35h-1.35zM344.2 53.4h1.35v1.35h-1.35zM344.9 59.6h1.35v1.35h-1.35zM336.8 27.5h1.35v1.35h-1.35zM331.8 71.3h1.35v1.35h-1.35zM313.2 65.6h1.35v1.35h-1.35zM338.1 75.7h1.35v1.35h-1.35zM324.1 32.5h1.35v1.35h-1.35zM319.5 32.7h1.35v1.35h-1.35zM330.6 55.2h1.35v1.35h-1.35zM333.1 25.2h1.35v1.35h-1.35zM322.9 19.3h1.35v1.35h-1.35zM312.7 56.4h1.35v1.35h-1.35zM349.7 28.3h1.35v1.35h-1.35zM334.8 44.4h1.35v1.35h-1.35zM345.7 51.2h1.35v1.35h-1.35zM321.3 42.4h1.35v1.35h-1.35zM342.5 74.1h1.35v1.35h-1.35zM342.1 23.1h1.35v1.35h-1.35zM315.5 40.4h1.35v1.35h-1.35zM332.8 37.4h1.35v1.35h-1.35zM339.5 61.9h1.35v1.35h-1.35zM332.0 27.6h1.35v1.35h-1.35zM349.2 56.4h1.35v1.35h-1.35zM336.9 41.2h1.35v1.35h-1.35zM339.0 35.3h1.35v1.35h-1.35zM345.7 64.4h1.35v1.35h-1.35zM339.7 24.1h1.35v1.35h-1.35zM320.6 70.3h1.35v1.35h-1.35zM353.0 72.5h1.35v1.35h-1.35zM316.6 69.2h1.35v1.35h-1.35zM338.1 58.6h1.35v1.35h-1.35zM338.6 72.2h1.35v1.35h-1.35zM348.0 52.9h1.35v1.35h-1.35zM337.0 33.2h1.35v1.35h-1.35zM312.5 26.5h1.35v1.35h-1.35zM327.6 37.5h1.35v1.35h-1.35zM334.7 24.2h1.35v1.35h-1.35zM322.8 41.4h1.35v1.35h-1.35zM337.3 56.0h1.35v1.35h-1.35zM335.8 58.4h1.35v1.35h-1.35zM330.2 21.2h1.35v1.35h-1.35zM324.5 58.3h1.35v1.35h-1.35zM316.7 38.7h1.35v1.35h-1.35zM331.6 22.9h1.35v1.35h-1.35zM331.1 64.6h1.35v1.35h-1.35zM325.7 45.2h1.35v1.35h-1.35zM334.5 47.7h1.35v1.35h-1.35zM340.9 74.5h1.35v1.35h-1.35zM338.8 57.2h1.35v1.35h-1.35zM330.6 26.2h1.35v1.35h-1.35zM335.8 49.5h1.35v1.35h-1.35zM349.6 61.2h1.35v1.35h-1.35zM322.2 23.3h1.35v1.35h-1.35zM344.7 64.9h1.35v1.35h-1.35zM336.2 67.7h1.35v1.35h-1.35zM348.1 32.1h1.35v1.35h-1.35zM343.8 40.1h1.35v1.35h-1.35zM319.8 57.7h1.35v1.35h-1.35zM326.7 18.2h1.35v1.35h-1.35zM315.7 69.2h1.35v1.35h-1.35zM342.5 30.6h1.35v1.35h-1.35zM341.3 63.3h1.35v1.35h-1.35zM324.6 24.4h1.35v1.35h-1.35zM318.6 54.3h1.35v1.35h-1.35zM349.9 26.7h1.35v1.35h-1.35zM347.6 68.3h1.35v1.35h-1.35zM331.8 40.0h1.35v1.35h-1.35zM331.0 23.2h1.35v1.35h-1.35zM340.7 64.2h1.35v1.35h-1.35zM338.9 32.6h1.35v1.35h-1.35zM345.1 40.0h1.35v1.35h-1.35zM339.0 46.1h1.35v1.35h-1.35zM330.0 48.5h1.35v1.35h-1.35zM312.8 54.2h1.35v1.35h-1.35zM317.5 47.4h1.35v1.35h-1.35zM331.6 34.4h1.35v1.35h-1.35zM332.0 69.0h1.35v1.35h-1.35zM324.0 46.3h1.35v1.35h-1.35zM340.6 72.5h1.35v1.35h-1.35zM317.9 38.3h1.35v1.35h-1.35zM340.0 40.1h1.35v1.35h-1.35zM329.8 34.5h1.35v1.35h-1.35zM347.9 44.0h1.35v1.35h-1.35zM319.9 34.1h1.35v1.35h-1.35zM315.1 38.7h1.35v1.35h-1.35zM317.1 31.3h1.35v1.35h-1.35zM324.7 70.4h1.35v1.35h-1.35zM321.8 26.4h1.35v1.35h-1.35zM340.9 75.7h1.35v1.35h-1.35zM339.8 70.0h1.35v1.35h-1.35zM341.5 44.0h1.35v1.35h-1.35zM324.0 51.3h1.35v1.35h-1.35zM327.1 29.5h1.35v1.35h-1.35zM340.6 41.1h1.35v1.35h-1.35zM339.8 49.4h1.35v1.35h-1.35zM334.6 61.6h1.35v1.35h-1.35zM311.9 64.4h1.35v1.35h-1.35zM328.1 38.5h1.35v1.35h-1.35zM316.0 29.3h1.35v1.35h-1.35zM321.2 32.2h1.35v1.35h-1.35zM341.8 33.3h1.35v1.35h-1.35zM351.6 41.2h1.35v1.35h-1.35zM317.8 59.2h1.35v1.35h-1.35zM338.8 51.1h1.35v1.35h-1.35zM338.1 45.0h1.35v1.35h-1.35zM353.5 53.7h1.35v1.35h-1.35zM346.3 69.3h1.35v1.35h-1.35zM330.0 49.4h1.35v1.35h-1.35zM334.1 27.5h1.35v1.35h-1.35zM348.0 37.5h1.35v1.35h-1.35zM351.9 40.0h1.35v1.35h-1.35zM345.7 30.4h1.35v1.35h-1.35zM335.0 42.3h1.35v1.35h-1.35zM335.0 49.2h1.35v1.35h-1.35zM321.2 35.0h1.35v1.35h-1.35zM331.8 53.1h1.35v1.35h-1.35zM309.2 60.5h1.35v1.35h-1.35zM332.8 61.4h1.35v1.35h-1.35zM341.7 49.3h1.35v1.35h-1.35zM327.9 70.3h1.35v1.35h-1.35zM324.0 40.3h1.35v1.35h-1.35zM322.1 52.1h1.35v1.35h-1.35zM345.7 63.2h1.35v1.35h-1.35z" fill="#2a2a2a" fill-opacity="0.8"/>
<path d="M333.9 56.3h1.35v1.35h-1.35zM325.6 62.9h1.35v1.35h-1.35zM318.7 20.1h1.35v1.35h-1.35zM335.6 51.0h1.35v1.35h-1.35zM312.2 20.2h1.35v1.35h-1.35zM322.6 25.6h1.35v1.35h-1.35zM334.9 43.2h1.35v1.35h-1.35zM335.8 28.5h1.35v1.35h-1.35zM331.9 41.6h1.35v1.35h-1.35zM325.8 26.3h1.35v1.35h-1.35zM322.6 36.0h1.35v1.35h-1.35zM320.2 45.3h1.35v1.35h-1.35zM340.7 59.6h1.35v1.35h-1.35zM338.0 34.9h1.35v1.35h-1.35zM347.0 44.1h1.35v1.35h-1.35zM319.6 51.0h1.35v1.35h-1.35zM313.1 68.0h1.35v1.35h-1.35zM332.1 67.4h1.35v1.35h-1.35zM326.0 33.6h1.35v1.35h-1.35zM335.6 36.1h1.35v1.35h-1.35zM315.1 41.6h1.35v1.35h-1.35zM318.1 32.4h1.35v1.35h-1.35zM326.3 30.5h1.35v1.35h-1.35zM328.0 31.2h1.35v1.35h-1.35zM337.9 62.7h1.35v1.35h-1.35zM339.9 41.6h1.35v1.35h-1.35zM333.9 69.0h1.35v1.35h-1.35zM319.1 35.5h1.35v1.35h-1.35zM352.1 48.2h1.35v1.35h-1.35zM334.9 39.6h1.35v1.35h-1.35zM328.6 34.2h1.35v1.35h-1.35zM336.1 38.3h1.35v1.35h-1.35zM347.5 26.4h1.35v1.35h-1.35zM344.1 52.6h1.35v1.35h-1.35zM321.5 54.6h1.35v1.35h-1.35zM328.7 58.3h1.35v1.35h-1.35zM343.1 69.3h1.35v1.35h-1.35zM321.9 33.9h1.35v1.35h-1.35zM330.0 68.4h1.35v1.35h-1.35zM340.1 37.1h1.35v1.35h-1.35zM341.8 26.5h1.35v1.35h-1.35zM334.6 29.5h1.35v1.35h-1.35zM341.5 69.0h1.35v1.35h-1.35zM317.7 40.5h1.35v1.35h-1.35zM334.1 41.5h1.35v1.35h-1.35zM327.1 36.0h1.35v1.35h-1.35zM333.7 38.7h1.35v1.35h-1.35zM336.0 48.6h1.35v1.35h-1.35zM339.6 34.4h1.35v1.35h-1.35zM325.1 32.6h1.35v1.35h-1.35zM342.1 45.2h1.35v1.35h-1.35zM333.2 29.3h1.35v1.35h-1.35zM336.9 54.6h1.35v1.35h-1.35zM343.0 37.1h1.35v1.35h-1.35zM325.0 22.1h1.35v1.35h-1.35zM328.2 71.6h1.35v1.35h-1.35zM330.0 46.3h1.35v1.35h-1.35zM342.8 46.4h1.35v1.35h-1.35zM322.2 33.0h1.35v1.35h-1.35zM320.8 23.6h1.35v1.35h-1.35zM333.7 33.1h1.35v1.35h-1.35zM344.6 50.5h1.35v1.35h-1.35zM341.8 63.2h1.35v1.35h-1.35zM336.3 60.6h1.35v1.35h-1.35zM321.8 56.0h1.35v1.35h-1.35zM349.1 37.6h1.35v1.35h-1.35zM319.9 28.1h1.35v1.35h-1.35zM339.8 45.9h1.35v1.35h-1.35zM339.7 31.1h1.35v1.35h-1.35zM338.6 37.4h1.35v1.35h-1.35zM334.8 54.2h1.35v1.35h-1.35zM317.7 56.5h1.35v1.35h-1.35zM343.9 66.0h1.35v1.35h-1.35zM330.7 43.1h1.35v1.35h-1.35zM330.1 37.1h1.35v1.35h-1.35zM333.6 40.2h1.35v1.35h-1.35zM328.3 41.4h1.35v1.35h-1.35zM347.1 46.6h1.35v1.35h-1.35zM327.7 49.1h1.35v1.35h-1.35zM331.5 61.4h1.35v1.35h-1.35zM333.6 45.4h1.35v1.35h-1.35zM328.7 75.4h1.35v1.35h-1.35zM342.7 65.1h1.35v1.35h-1.35zM330.9 52.3h1.35v1.35h-1.35zM314.7 68.9h1.35v1.35h-1.35zM332.6 33.2h1.35v1.35h-1.35zM344.2 72.9h1.35v1.35h-1.35zM317.1 48.7h1.35v1.35h-1.35zM329.1 52.9h1.35v1.35h-1.35zM343.2 67.0h1.35v1.35h-1.35zM340.9 25.6h1.35v1.35h-1.35zM335.6 27.3h1.35v1.35h-1.35zM342.2 25.6h1.35v1.35h-1.35zM333.0 72.4h1.35v1.35h-1.35zM331.7 70.5h1.35v1.35h-1.35zM347.3 31.4h1.35v1.35h-1.35zM331.6 37.5h1.35v1.35h-1.35zM325.6 39.4h1.35v1.35h-1.35zM331.7 49.5h1.35v1.35h-1.35zM353.8 64.9h1.35v1.35h-1.35zM339.1 39.3h1.35v1.35h-1.35zM339.3 33.6h1.35v1.35h-1.35zM329.2 43.0h1.35v1.35h-1.35zM340.8 68.1h1.35v1.35h-1.35zM330.1 57.7h1.35v1.35h-1.35zM337.3 28.5h1.35v1.35h-1.35zM347.6 52.6h1.35v1.35h-1.35zM321.9 28.1h1.35v1.35h-1.35zM326.1 50.5h1.35v1.35h-1.35zM324.2 29.9h1.35v1.35h-1.35zM329.1 35.5h1.35v1.35h-1.35zM347.1 23.4h1.35v1.35h-1.35zM339.9 61.1h1.35v1.35h-1.35zM337.2 72.4h1.35v1.35h-1.35zM311.1 68.2h1.35v1.35h-1.35zM320.1 72.6h1.35v1.35h-1.35zM334.8 26.5h1.35v1.35h-1.35zM320.8 51.0h1.35v1.35h-1.35zM331.7 38.1h1.35v1.35h-1.35zM323.6 61.0h1.35v1.35h-1.35zM325.0 43.6h1.35v1.35h-1.35zM318.7 67.4h1.35v1.35h-1.35zM333.7 68.2h1.35v1.35h-1.35zM341.2 30.3h1.35v1.35h-1.35zM352.0 50.9h1.35v1.35h-1.35zM345.0 48.0h1.35v1.35h-1.35zM313.8 72.4h1.35v1.35h-1.35zM345.6 32.6h1.35v1.35h-1.35zM337.8 46.5h1.35v1.35h-1.35zM329.1 47.2h1.35v1.35h-1.35zM326.1 32.7h1.35v1.35h-1.35zM330.5 38.3h1.35v1.35h-1.35zM342.9 23.0h1.35v1.35h-1.35zM341.8 46.6h1.35v1.35h-1.35zM342.1 28.6h1.35v1.35h-1.35zM338.2 52.4h1.35v1.35h-1.35zM324.6 38.3h1.35v1.35h-1.35zM318.7 52.0h1.35v1.35h-1.35zM338.9 63.5h1.35v1.35h-1.35zM338.6 24.4h1.35v1.35h-1.35zM342.1 63.9h1.35v1.35h-1.35zM350.2 75.4h1.35v1.35h-1.35zM326.1 42.1h1.35v1.35h-1.35zM327.6 16.3h1.35v1.35h-1.35zM342.6 28.3h1.35v1.35h-1.35zM339.7 17.9h1.35v1.35h-1.35zM347.8 48.3h1.35v1.35h-1.35zM329.6 29.4h1.35v1.35h-1.35zM328.3 50.5h1.35v1.35h-1.35zM331.5 44.9h1.35v1.35h-1.35zM320.9 26.7h1.35v1.35h-1.35zM329.5 76.0h1.35v1.35h-1.35zM327.2 39.1h1.35v1.35h-1.35zM346.6 33.0h1.35v1.35h-1.35zM322.2 53.1h1.35v1.35h-1.35zM327.7 72.1h1.35v1.35h-1.35zM329.5 26.6h1.35v1.35h-1.35zM319.3 38.1h1.35v1.35h-1.35zM327.2 41.7h1.35v1.35h-1.35zM326.2 37.3h1.35v1.35h-1.35zM344.2 45.2h1.35v1.35h-1.35zM324.6 36.0h1.35v1.35h-1.35zM337.2 61.4h1.35v1.35h-1.35zM336.1 64.2h1.35v1.35h-1.35zM309.8 73.4h1.35v1.35h-1.35zM320.3 49.1h1.35v1.35h-1.35zM347.9 57.3h1.35v1.35h-1.35zM330.0 44.0h1.35v1.35h-1.35zM323.2 21.1h1.35v1.35h-1.35zM329.6 63.6h1.35v1.35h-1.35zM343.5 47.5h1.35v1.35h-1.35zM348.6 47.0h1.35v1.35h-1.35zM336.8 47.0h1.35v1.35h-1.35zM342.5 43.0h1.35v1.35h-1.35zM328.8 57.0h1.35v1.35h-1.35zM332.6 35.2h1.35v1.35h-1.35zM340.8 56.1h1.35v1.35h-1.35zM341.1 33.0h1.35v1.35h-1.35zM345.1 75.7h1.35v1.35h-1.35zM330.7 34.3h1.35v1.35h-1.35zM344.9 32.5h1.35v1.35h-1.35zM338.1 65.0h1.35v1.35h-1.35zM335.0 72.2h1.35v1.35h-1.35zM317.5 73.4h1.35v1.35h-1.35zM343.3 53.3h1.35v1.35h-1.35zM329.9 52.3h1.35v1.35h-1.35zM336.9 57.4h1.35v1.35h-1.35zM328.2 48.1h1.35v1.35h-1.35zM324.2 42.2h1.35v1.35h-1.35zM339.3 61.2h1.35v1.35h-1.35zM333.7 66.7h1.35v1.35h-1.35zM346.8 47.3h1.35v1.35h-1.35zM338.2 54.6h1.35v1.35h-1.35zM347.3 34.0h1.35v1.35h-1.35zM337.6 43.4h1.35v1.35h-1.35zM340.6 36.0h1.35v1.35h-1.35zM331.9 59.1h1.35v1.35h-1.35zM316.8 66.4h1.35v1.35h-1.35zM339.0 66.1h1.35v1.35h-1.35zM337.6 55.6h1.35v1.35h-1.35zM331.8 51.6h1.35v1.35h-1.35zM328.8 36.1h1.35v1.35h-1.35zM330.8 41.4h1.35v1.35h-1.35zM344.7 31.6h1.35v1.35h-1.35zM333.6 61.1h1.35v1.35h-1.35zM338.8 42.0h1.35v1.35h-1.35zM333.7 42.3h1.35v1.35h-1.35zM338.2 47.3h1.35v1.35h-1.35zM329.5 43.0h1.35v1.35h-1.35zM312.7 29.9h1.35v1.35h-1.35zM339.3 69.2h1.35v1.35h-1.35zM324.0 25.0h1.35v1.35h-1.35zM328.8 39.0h1.35v1.35h-1.35zM323.2 31.3h1.35v1.35h-1.35zM334.0 44.0h1.35v1.35h-1.35zM326.9 37.3h1.35v1.35h-1.35zM338.7 20.7h1.35v1.35h-1.35zM325.5 19.9h1.35v1.35h-1.35zM336.7 59.4h1.35v1.35h-1.35zM334.7 40.4h1.35v1.35h-1.35zM323.7 37.2h1.35v1.35h-1.35zM345.0 52.9h1.35v1.35h-1.35zM338.3 68.3h1.35v1.35h-1.35zM333.6 57.0h1.35v1.35h-1.35zM340.3 71.1h1.35v1.35h-1.35zM336.8 39.1h1.35v1.35h-1.35zM350.0 55.0h1.35v1.35h-1.35zM318.2 29.0h1.35v1.35h-1.35zM332.5 21.1h1.35v1.35h-1.35zM331.6 39.7h1.35v1.35h-1.35zM331.1 66.1h1.35v1.35h-1.35zM335.2 32.0h1.35v1.35h-1.35zM333.6 59.3h1.35v1.35h-1.35zM332.9 63.0h1.35v1.35h-1.35zM339.3 38.5h1.35v1.35h-1.35zM337.9 51.2h1.35v1.35h-1.35zM341.7 71.1h1.35v1.35h-1.35zM336.6 70.5h1.35v1.35h-1.35zM325.1 34.2h1.35v1.35h-1.35zM325.6 48.2h1.35v1.35h-1.35zM334.9 60.6h1.35v1.35h-1.35zM320.0 31.2h1.35v1.35h-1.35zM332.5 62.4h1.35v1.35h-1.35zM336.1 47.3h1.35v1.35h-1.35zM341.5 21.5h1.35v1.35h-1.35zM333.7 43.5h1.35v1.35h-1.35zM321.2 37.3h1.35v1.35h-1.35zM314.3 40.1h1.35v1.35h-1.35zM343.6 76.0h1.35v1.35h-1.35zM330.3 59.1h1.35v1.35h-1.35zM313.3 24.1h1.35v1.35h-1.35zM328.1 27.6h1.35v1.35h-1.35zM345.0 39.0h1.35v1.35h-1.35zM335.5 44.1h1.35v1.35h-1.35zM319.8 47.0h1.35v1.35h-1.35zM324.2 40.9h1.35v1.35h-1.35zM349.0 31.6h1.35v1.35h-1.35zM338.5 41.0h1.35v1.35h-1.35zM347.1 70.5h1.35v1.35h-1.35zM339.9 56.7h1.35v1.35h-1.35zM309.7 68.9h1.35v1.35h-1.35zM325.7 23.5h1.35v1.35h-1.35zM345.5 70.7h1.35v1.35h-1.35zM315.0 40.6h1.35v1.35h-1.35zM334.5 67.6h1.35v1.35h-1.35zM339.1 53.4h1.35v1.35h-1.35zM346.8 74.6h1.35v1.35h-1.35zM330.7 31.3h1.35v1.35h-1.35zM343.7 57.4h1.35v1.35h-1.35zM333.8 67.4h1.35v1.35h-1.35zM319.9 36.0h1.35v1.35h-1.35zM322.1 29.2h1.35v1.35h-1.35zM320.3 33.2h1.35v1.35h-1.35zM306.7 69.2h1.35v1.35h-1.35zM336.9 49.3h1.35v1.35h-1.35zM324.0 24.2h1.35v1.35h-1.35zM319.9 42.4h1.35v1.35h-1.35zM327.6 39.5h1.35v1.35h-1.35zM324.8 50.4h1.35v1.35h-1.35zM315.5 51.0h1.35v1.35h-1.35zM346.3 38.4h1.35v1.35h-1.35zM345.1 41.4h1.35v1.35h-1.35zM339.0 71.0h1.35v1.35h-1.35zM340.9 50.3h1.35v1.35h-1.35zM329.8 22.0h1.35v1.35h-1.35zM324.1 33.2h1.35v1.35h-1.35zM340.9 44.4h1.35v1.35h-1.35zM313.0 66.9h1.35v1.35h-1.35zM333.0 48.1h1.35v1.35h-1.35zM341.2 66.6h1.35v1.35h-1.35zM346.0 35.1h1.35v1.35h-1.35zM342.1 65.7h1.35v1.35h-1.35zM340.5 54.4h1.35v1.35h-1.35zM340.7 65.2h1.35v1.35h-1.35zM327.9 35.0h1.35v1.35h-1.35zM320.7 30.7h1.35v1.35h-1.35zM315.9 53.5h1.35v1.35h-1.35zM325.0 54.4h1.35v1.35h-1.35zM330.2 30.1h1.35v1.35h-1.35zM331.9 65.1h1.35v1.35h-1.35zM306.8 60.6h1.35v1.35h-1.35zM343.8 67.0h1.35v1.35h-1.35zM322.3 32.4h1.35v1.35h-1.35zM322.7 30.0h1.35v1.35h-1.35zM346.3 54.2h1.35v1.35h-1.35zM339.5 35.3h1.35v1.35h-1.35zM341.1 46.2h1.35v1.35h-1.35zM345.8 31.6h1.35v1.35h-1.35zM339.9 57.5h1.35v1.35h-1.35zM336.0 39.4h1.35v1.35h-1.35zM339.9 47.5h1.35v1.35h-1.35zM335.6 59.7h1.35v1.35h-1.35zM338.5 58.5h1.35v1.35h-1.35zM334.3 31.2h1.35v1.35h-1.35zM344.7 44.4h1.35v1.35h-1.35zM336.8 35.1h1.35v1.35h-1.35zM331.0 74.5h1.35v1.35h-1.35zM324.1 56.1h1.35v1.35h-1.35zM342.6 72.2h1.35v1.35h-1.35zM349.1 53.2h1.35v1.35h-1.35zM338.7 26.1h1.35v1.35h-1.35zM341.8 39.5h1.35v1.35h-1.35zM340.5 67.2h1.35v1.35h-1.35zM327.8 24.7h1.35v1.35h-1.35zM337.1 45.3h1.35v1.35h-1.35zM345.0 71.3h1.35v1.35h-1.35zM343.9 24.6h1.35v1.35h-1.35zM307.2 28.4h1.35v1.35h-1.35zM319.2 55.1h1.35v1.35h-1.35zM337.7 61.2h1.35v1.35h-1.35zM326.9 33.3h1.35v1.35h-1.35zM344.2 58.4h1.35v1.35h-1.35zM329.7 40.1h1.35v1.35h-1.35z" fill="#454545" fill-opacity="0.8"/>
</g>
</g>
<rect x="304.4" y="12.8" width="64.60000000000002" height="64.7" fill="none" stroke="#8a8a8a" stroke-width="1"/>
<line x1="330.20" y1="12.80" x2="330.20" y2="77.50" stroke="#707070" stroke-width="1.0" />
<line x1="304.40" y1="48.50" x2="369.00" y2="48.50" stroke="#707070" stroke-width="1.0" />
<text x="307.80" y="19.20" font-size="5.0" stroke="#222" stroke-width="0.08" font-weight="bold" fill="#222" >11</text>
<text x="366.60" y="19.20" font-size="5.0" stroke="#222" stroke-width="0.08" text-anchor="end" font-weight="bold" fill="#222" >16</text>
<text x="366.60" y="74.20" font-size="5.0" stroke="#222" stroke-width="0.08" text-anchor="end" font-weight="bold" fill="#222" >33</text>
<text x="353.30" y="44.50" font-size="7.8" stroke="#8ab868" stroke-width="0.08" fill="#8ab868" textLength="11.4" lengthAdjust="spacingAndGlyphs" >ND</text>
<rect x="304.4" y="103.4" width="64.60000000000002" height="64.9" fill="#fff"/>
<clipPath id="cp103"><rect x="304.4" y="103.4" width="64.60000000000002" height="64.9"/></clipPath>
<g clip-path="url(#cp103)">
<g filter="url(#blr)">
<rect x="314" y="109" width="31" height="25" fill="#a4a4a4"/>
<rect x="317" y="133" width="26" height="8" fill="#d4d4d4"/>
<rect x="317" y="142" width="27" height="29" fill="#c0c0c0"/>
</g>
<g filter="url(#blr3)">
<path d="M333.6 123.2h1.35v1.35h-1.35zM320.2 137.8h1.35v1.35h-1.35zM310.3 121.9h1.35v1.35h-1.35zM318.7 147.8h1.35v1.35h-1.35zM321.9 134.2h1.35v1.35h-1.35zM341.2 123.2h1.35v1.35h-1.35zM316.0 110.7h1.35v1.35h-1.35zM331.0 158.8h1.35v1.35h-1.35zM308.7 135.3h1.35v1.35h-1.35zM322.6 151.7h1.35v1.35h-1.35zM337.9 133.2h1.35v1.35h-1.35zM306.9 142.0h1.35v1.35h-1.35zM322.2 135.3h1.35v1.35h-1.35zM320.0 161.0h1.35v1.35h-1.35zM335.9 124.3h1.35v1.35h-1.35zM317.0 112.6h1.35v1.35h-1.35zM328.8 124.7h1.35v1.35h-1.35zM346.0 131.8h1.35v1.35h-1.35zM329.1 121.7h1.35v1.35h-1.35zM343.8 156.1h1.35v1.35h-1.35zM341.2 161.2h1.35v1.35h-1.35zM332.8 131.8h1.35v1.35h-1.35zM305.3 127.7h1.35v1.35h-1.35zM338.9 135.6h1.35v1.35h-1.35zM313.0 116.2h1.35v1.35h-1.35zM326.2 122.6h1.35v1.35h-1.35zM316.9 130.8h1.35v1.35h-1.35zM335.6 116.9h1.35v1.35h-1.35zM315.9 121.6h1.35v1.35h-1.35zM340.9 159.6h1.35v1.35h-1.35zM315.5 131.0h1.35v1.35h-1.35zM332.6 129.8h1.35v1.35h-1.35zM321.9 132.7h1.35v1.35h-1.35zM338.9 119.2h1.35v1.35h-1.35zM330.9 127.3h1.35v1.35h-1.35zM322.0 139.9h1.35v1.35h-1.35zM340.2 116.7h1.35v1.35h-1.35zM321.5 125.6h1.35v1.35h-1.35zM343.0 145.9h1.35v1.35h-1.35zM325.1 123.1h1.35v1.35h-1.35zM331.3 146.2h1.35v1.35h-1.35zM340.8 155.9h1.35v1.35h-1.35zM316.7 156.8h1.35v1.35h-1.35zM319.7 133.8h1.35v1.35h-1.35zM317.9 162.7h1.35v1.35h-1.35zM315.3 159.2h1.35v1.35h-1.35zM330.5 138.1h1.35v1.35h-1.35zM335.9 152.6h1.35v1.35h-1.35zM339.2 118.1h1.35v1.35h-1.35zM341.1 117.9h1.35v1.35h-1.35zM338.3 156.0h1.35v1.35h-1.35zM336.0 143.7h1.35v1.35h-1.35zM311.5 153.0h1.35v1.35h-1.35zM340.6 143.2h1.35v1.35h-1.35zM316.7 149.5h1.35v1.35h-1.35zM336.9 154.8h1.35v1.35h-1.35zM345.6 159.6h1.35v1.35h-1.35zM331.0 144.7h1.35v1.35h-1.35zM335.1 125.1h1.35v1.35h-1.35zM344.6 141.6h1.35v1.35h-1.35zM338.0 136.7h1.35v1.35h-1.35zM332.6 124.1h1.35v1.35h-1.35zM324.9 150.9h1.35v1.35h-1.35zM324.9 130.0h1.35v1.35h-1.35zM339.9 129.2h1.35v1.35h-1.35zM341.6 111.7h1.35v1.35h-1.35zM338.9 116.6h1.35v1.35h-1.35zM342.9 118.7h1.35v1.35h-1.35zM332.7 126.9h1.35v1.35h-1.35zM345.1 123.1h1.35v1.35h-1.35zM343.7 124.9h1.35v1.35h-1.35zM337.6 117.3h1.35v1.35h-1.35zM338.2 148.3h1.35v1.35h-1.35zM328.7 156.6h1.35v1.35h-1.35zM336.3 115.9h1.35v1.35h-1.35zM337.6 160.2h1.35v1.35h-1.35zM324.9 111.8h1.35v1.35h-1.35zM338.7 148.8h1.35v1.35h-1.35zM335.5 129.2h1.35v1.35h-1.35zM323.5 123.8h1.35v1.35h-1.35zM323.9 114.1h1.35v1.35h-1.35zM331.1 110.9h1.35v1.35h-1.35zM343.2 151.0h1.35v1.35h-1.35zM333.0 161.9h1.35v1.35h-1.35zM317.1 124.0h1.35v1.35h-1.35zM335.1 154.1h1.35v1.35h-1.35zM320.7 114.8h1.35v1.35h-1.35zM337.0 142.0h1.35v1.35h-1.35zM317.5 116.3h1.35v1.35h-1.35zM337.5 136.2h1.35v1.35h-1.35zM342.9 124.0h1.35v1.35h-1.35zM340.8 144.6h1.35v1.35h-1.35zM319.7 112.7h1.35v1.35h-1.35zM330.6 123.6h1.35v1.35h-1.35zM317.6 119.6h1.35v1.35h-1.35zM336.0 159.5h1.35v1.35h-1.35zM323.8 158.3h1.35v1.35h-1.35zM321.9 143.8h1.35v1.35h-1.35zM310.5 126.2h1.35v1.35h-1.35zM330.2 113.3h1.35v1.35h-1.35zM355.8 121.8h1.35v1.35h-1.35zM309.7 129.9h1.35v1.35h-1.35zM342.2 125.3h1.35v1.35h-1.35zM322.8 113.3h1.35v1.35h-1.35zM316.8 127.8h1.35v1.35h-1.35zM337.1 117.9h1.35v1.35h-1.35zM326.0 141.6h1.35v1.35h-1.35zM335.6 121.2h1.35v1.35h-1.35zM325.7 160.8h1.35v1.35h-1.35zM340.9 111.5h1.35v1.35h-1.35zM330.7 116.1h1.35v1.35h-1.35zM338.1 147.2h1.35v1.35h-1.35zM339.9 132.0h1.35v1.35h-1.35zM314.8 162.5h1.35v1.35h-1.35zM330.1 150.9h1.35v1.35h-1.35zM341.8 119.8h1.35v1.35h-1.35zM335.2 123.2h1.35v1.35h-1.35zM329.9 131.7h1.35v1.35h-1.35zM331.2 130.7h1.35v1.35h-1.35zM334.0 114.9h1.35v1.35h-1.35zM334.9 129.6h1.35v1.35h-1.35zM326.6 112.7h1.35v1.35h-1.35zM319.2 128.1h1.35v1.35h-1.35zM327.2 115.6h1.35v1.35h-1.35zM317.7 114.2h1.35v1.35h-1.35zM335.7 124.9h1.35v1.35h-1.35zM346.7 139.0h1.35v1.35h-1.35zM332.5 133.1h1.35v1.35h-1.35zM324.7 156.6h1.35v1.35h-1.35zM317.1 121.8h1.35v1.35h-1.35zM328.6 119.9h1.35v1.35h-1.35zM322.6 164.6h1.35v1.35h-1.35zM338.1 162.1h1.35v1.35h-1.35zM339.7 166.2h1.35v1.35h-1.35zM333.6 163.0h1.35v1.35h-1.35zM315.7 117.7h1.35v1.35h-1.35zM322.8 153.0h1.35v1.35h-1.35zM341.2 132.8h1.35v1.35h-1.35zM337.8 124.1h1.35v1.35h-1.35zM323.2 116.5h1.35v1.35h-1.35zM340.7 156.8h1.35v1.35h-1.35zM331.8 112.2h1.35v1.35h-1.35zM337.8 130.9h1.35v1.35h-1.35zM325.1 137.0h1.35v1.35h-1.35zM319.1 126.3h1.35v1.35h-1.35zM343.1 154.9h1.35v1.35h-1.35zM333.0 135.6h1.35v1.35h-1.35zM329.8 151.5h1.35v1.35h-1.35zM343.7 126.1h1.35v1.35h-1.35zM323.3 119.8h1.35v1.35h-1.35zM312.6 129.0h1.35v1.35h-1.35zM345.7 138.2h1.35v1.35h-1.35zM336.1 146.8h1.35v1.35h-1.35zM325.9 129.5h1.35v1.35h-1.35zM330.9 149.9h1.35v1.35h-1.35zM318.0 133.8h1.35v1.35h-1.35zM327.6 161.0h1.35v1.35h-1.35zM319.3 108.2h1.35v1.35h-1.35zM348.3 115.1h1.35v1.35h-1.35zM336.1 119.1h1.35v1.35h-1.35zM327.9 149.8h1.35v1.35h-1.35zM315.2 108.5h1.35v1.35h-1.35zM312.9 133.6h1.35v1.35h-1.35zM335.7 113.5h1.35v1.35h-1.35zM342.6 164.3h1.35v1.35h-1.35zM318.6 153.0h1.35v1.35h-1.35zM315.0 164.0h1.35v1.35h-1.35zM329.7 158.7h1.35v1.35h-1.35zM317.7 118.2h1.35v1.35h-1.35zM324.8 114.0h1.35v1.35h-1.35zM327.2 150.0h1.35v1.35h-1.35zM318.7 119.7h1.35v1.35h-1.35zM319.0 129.2h1.35v1.35h-1.35zM331.7 116.5h1.35v1.35h-1.35zM337.3 139.9h1.35v1.35h-1.35zM344.8 130.8h1.35v1.35h-1.35zM314.2 120.2h1.35v1.35h-1.35zM336.9 156.6h1.35v1.35h-1.35zM316.8 153.7h1.35v1.35h-1.35zM325.8 165.6h1.35v1.35h-1.35zM332.7 150.1h1.35v1.35h-1.35zM314.1 131.6h1.35v1.35h-1.35zM334.6 127.8h1.35v1.35h-1.35zM338.7 130.9h1.35v1.35h-1.35zM333.8 161.1h1.35v1.35h-1.35zM321.6 123.9h1.35v1.35h-1.35zM337.5 156.7h1.35v1.35h-1.35zM328.3 134.9h1.35v1.35h-1.35zM328.0 130.1h1.35v1.35h-1.35zM319.3 120.6h1.35v1.35h-1.35zM350.8 140.9h1.35v1.35h-1.35zM323.8 119.1h1.35v1.35h-1.35zM331.7 108.7h1.35v1.35h-1.35zM323.7 134.8h1.35v1.35h-1.35zM329.0 135.5h1.35v1.35h-1.35zM334.5 146.1h1.35v1.35h-1.35zM316.8 114.1h1.35v1.35h-1.35zM347.0 117.8h1.35v1.35h-1.35zM342.3 132.1h1.35v1.35h-1.35zM321.1 124.2h1.35v1.35h-1.35zM339.8 156.7h1.35v1.35h-1.35zM326.8 142.1h1.35v1.35h-1.35zM321.2 133.2h1.35v1.35h-1.35zM319.6 157.0h1.35v1.35h-1.35zM315.7 127.5h1.35v1.35h-1.35zM327.1 122.0h1.35v1.35h-1.35zM337.9 113.3h1.35v1.35h-1.35zM336.8 125.1h1.35v1.35h-1.35zM327.8 141.1h1.35v1.35h-1.35zM328.7 158.5h1.35v1.35h-1.35zM317.0 120.7h1.35v1.35h-1.35zM346.0 166.1h1.35v1.35h-1.35zM329.2 123.5h1.35v1.35h-1.35zM332.8 139.1h1.35v1.35h-1.35zM316.6 136.2h1.35v1.35h-1.35zM317.6 158.9h1.35v1.35h-1.35zM320.9 138.6h1.35v1.35h-1.35zM340.0 120.1h1.35v1.35h-1.35zM336.6 133.9h1.35v1.35h-1.35zM326.6 123.1h1.35v1.35h-1.35zM333.5 122.2h1.35v1.35h-1.35zM328.2 113.3h1.35v1.35h-1.35zM330.7 147.9h1.35v1.35h-1.35zM339.3 157.1h1.35v1.35h-1.35zM324.6 119.1h1.35v1.35h-1.35zM338.0 164.0h1.35v1.35h-1.35zM336.2 136.6h1.35v1.35h-1.35zM330.9 130.3h1.35v1.35h-1.35zM318.1 129.9h1.35v1.35h-1.35zM324.2 160.1h1.35v1.35h-1.35zM333.5 125.1h1.35v1.35h-1.35zM335.2 119.2h1.35v1.35h-1.35zM326.6 129.0h1.35v1.35h-1.35zM323.1 155.6h1.35v1.35h-1.35zM332.0 148.2h1.35v1.35h-1.35zM340.8 143.8h1.35v1.35h-1.35zM329.7 157.6h1.35v1.35h-1.35zM331.9 151.1h1.35v1.35h-1.35zM320.6 128.8h1.35v1.35h-1.35zM334.8 154.6h1.35v1.35h-1.35zM325.1 126.2h1.35v1.35h-1.35zM341.0 140.1h1.35v1.35h-1.35zM342.2 138.6h1.35v1.35h-1.35zM342.7 134.9h1.35v1.35h-1.35zM340.8 116.2h1.35v1.35h-1.35zM343.8 117.1h1.35v1.35h-1.35zM317.9 109.7h1.35v1.35h-1.35zM332.2 132.1h1.35v1.35h-1.35zM309.9 127.7h1.35v1.35h-1.35zM334.5 158.2h1.35v1.35h-1.35zM327.3 136.9h1.35v1.35h-1.35zM340.2 124.2h1.35v1.35h-1.35zM332.5 159.3h1.35v1.35h-1.35zM335.8 156.2h1.35v1.35h-1.35zM337.8 110.5h1.35v1.35h-1.35zM319.7 166.0h1.35v1.35h-1.35zM341.7 113.0h1.35v1.35h-1.35zM329.2 110.9h1.35v1.35h-1.35zM342.0 130.8h1.35v1.35h-1.35zM334.1 116.6h1.35v1.35h-1.35zM326.1 124.7h1.35v1.35h-1.35zM321.3 130.5h1.35v1.35h-1.35zM323.8 130.1h1.35v1.35h-1.35zM323.2 121.0h1.35v1.35h-1.35zM329.6 128.1h1.35v1.35h-1.35zM326.6 118.8h1.35v1.35h-1.35zM330.8 132.5h1.35v1.35h-1.35zM317.7 143.9h1.35v1.35h-1.35zM334.0 145.1h1.35v1.35h-1.35zM331.6 133.7h1.35v1.35h-1.35zM347.1 128.6h1.35v1.35h-1.35zM329.9 123.7h1.35v1.35h-1.35zM332.0 113.7h1.35v1.35h-1.35zM341.3 126.7h1.35v1.35h-1.35zM339.8 122.8h1.35v1.35h-1.35zM342.7 114.5h1.35v1.35h-1.35zM340.9 129.7h1.35v1.35h-1.35zM339.8 120.7h1.35v1.35h-1.35zM338.2 121.8h1.35v1.35h-1.35zM347.9 134.7h1.35v1.35h-1.35zM345.8 162.7h1.35v1.35h-1.35zM340.0 151.6h1.35v1.35h-1.35zM321.5 151.3h1.35v1.35h-1.35zM314.2 129.2h1.35v1.35h-1.35zM318.8 154.8h1.35v1.35h-1.35zM336.9 128.1h1.35v1.35h-1.35zM323.2 164.0h1.35v1.35h-1.35zM337.6 126.9h1.35v1.35h-1.35zM318.6 129.8h1.35v1.35h-1.35zM326.9 139.0h1.35v1.35h-1.35zM313.9 116.8h1.35v1.35h-1.35zM341.2 130.9h1.35v1.35h-1.35zM342.3 116.8h1.35v1.35h-1.35zM328.6 120.6h1.35v1.35h-1.35z" fill="#000" fill-opacity="0.85"/>
<path d="M308.1 139.7h1.35v1.35h-1.35zM339.1 115.5h1.35v1.35h-1.35zM327.3 148.8h1.35v1.35h-1.35zM338.6 110.0h1.35v1.35h-1.35zM333.1 128.2h1.35v1.35h-1.35zM324.2 164.1h1.35v1.35h-1.35zM325.3 144.8h1.35v1.35h-1.35zM326.8 129.7h1.35v1.35h-1.35zM333.2 122.0h1.35v1.35h-1.35zM324.9 123.6h1.35v1.35h-1.35zM320.5 110.8h1.35v1.35h-1.35zM333.7 150.9h1.35v1.35h-1.35zM323.3 130.7h1.35v1.35h-1.35zM338.0 166.8h1.35v1.35h-1.35zM326.1 139.8h1.35v1.35h-1.35zM333.7 126.1h1.35v1.35h-1.35zM331.6 139.6h1.35v1.35h-1.35zM344.3 132.9h1.35v1.35h-1.35zM323.7 128.6h1.35v1.35h-1.35zM341.7 145.2h1.35v1.35h-1.35zM310.0 121.2h1.35v1.35h-1.35zM318.9 138.6h1.35v1.35h-1.35zM340.7 134.6h1.35v1.35h-1.35zM323.7 144.7h1.35v1.35h-1.35zM326.7 114.8h1.35v1.35h-1.35zM327.1 131.1h1.35v1.35h-1.35zM344.7 105.7h1.35v1.35h-1.35zM334.7 127.0h1.35v1.35h-1.35zM328.7 112.9h1.35v1.35h-1.35zM349.3 107.7h1.35v1.35h-1.35zM322.6 148.8h1.35v1.35h-1.35zM329.0 123.2h1.35v1.35h-1.35zM325.9 140.9h1.35v1.35h-1.35zM315.8 155.6h1.35v1.35h-1.35zM321.7 141.9h1.35v1.35h-1.35zM325.5 106.0h1.35v1.35h-1.35zM332.7 134.1h1.35v1.35h-1.35zM325.0 116.3h1.35v1.35h-1.35zM332.7 144.3h1.35v1.35h-1.35zM322.1 130.0h1.35v1.35h-1.35zM326.7 133.5h1.35v1.35h-1.35zM325.2 128.1h1.35v1.35h-1.35zM326.6 132.7h1.35v1.35h-1.35zM336.6 116.7h1.35v1.35h-1.35zM315.8 159.1h1.35v1.35h-1.35zM338.6 149.8h1.35v1.35h-1.35zM324.8 164.0h1.35v1.35h-1.35zM319.5 129.0h1.35v1.35h-1.35zM329.7 128.6h1.35v1.35h-1.35zM329.5 115.6h1.35v1.35h-1.35zM332.2 132.7h1.35v1.35h-1.35zM322.7 131.5h1.35v1.35h-1.35zM319.3 151.1h1.35v1.35h-1.35zM341.1 128.9h1.35v1.35h-1.35zM308.6 116.5h1.35v1.35h-1.35zM322.6 126.7h1.35v1.35h-1.35zM337.6 145.7h1.35v1.35h-1.35zM337.7 143.8h1.35v1.35h-1.35zM342.7 125.2h1.35v1.35h-1.35zM318.1 153.2h1.35v1.35h-1.35zM327.0 161.1h1.35v1.35h-1.35zM347.8 114.0h1.35v1.35h-1.35zM332.7 125.9h1.35v1.35h-1.35zM334.1 111.2h1.35v1.35h-1.35zM331.9 123.6h1.35v1.35h-1.35zM336.6 146.1h1.35v1.35h-1.35zM321.1 114.0h1.35v1.35h-1.35zM335.9 126.8h1.35v1.35h-1.35zM314.1 122.1h1.35v1.35h-1.35zM344.0 124.2h1.35v1.35h-1.35zM334.9 132.0h1.35v1.35h-1.35zM322.7 114.5h1.35v1.35h-1.35zM315.9 110.1h1.35v1.35h-1.35zM325.8 164.5h1.35v1.35h-1.35zM323.6 132.6h1.35v1.35h-1.35zM335.9 111.7h1.35v1.35h-1.35zM316.3 147.2h1.35v1.35h-1.35zM321.6 158.3h1.35v1.35h-1.35zM320.6 135.1h1.35v1.35h-1.35zM318.9 160.8h1.35v1.35h-1.35zM341.0 120.0h1.35v1.35h-1.35zM326.6 148.2h1.35v1.35h-1.35zM340.7 163.7h1.35v1.35h-1.35zM331.1 136.0h1.35v1.35h-1.35zM340.9 134.1h1.35v1.35h-1.35zM330.6 108.1h1.35v1.35h-1.35zM329.2 160.2h1.35v1.35h-1.35zM323.0 127.5h1.35v1.35h-1.35zM316.9 152.7h1.35v1.35h-1.35zM328.9 133.8h1.35v1.35h-1.35zM324.8 124.9h1.35v1.35h-1.35zM314.5 115.2h1.35v1.35h-1.35zM311.8 127.3h1.35v1.35h-1.35zM330.6 117.6h1.35v1.35h-1.35zM333.0 124.6h1.35v1.35h-1.35zM322.2 150.2h1.35v1.35h-1.35zM340.2 111.3h1.35v1.35h-1.35zM326.8 109.7h1.35v1.35h-1.35zM343.7 162.9h1.35v1.35h-1.35zM324.0 148.9h1.35v1.35h-1.35zM337.3 138.0h1.35v1.35h-1.35zM334.0 133.5h1.35v1.35h-1.35zM336.7 119.7h1.35v1.35h-1.35zM320.7 151.6h1.35v1.35h-1.35zM342.3 116.1h1.35v1.35h-1.35zM324.8 161.1h1.35v1.35h-1.35zM339.6 149.0h1.35v1.35h-1.35zM335.5 130.5h1.35v1.35h-1.35zM344.2 146.2h1.35v1.35h-1.35zM349.2 128.1h1.35v1.35h-1.35zM320.9 126.9h1.35v1.35h-1.35zM337.0 113.1h1.35v1.35h-1.35zM324.6 118.1h1.35v1.35h-1.35zM325.9 132.6h1.35v1.35h-1.35zM325.5 130.7h1.35v1.35h-1.35zM327.8 157.2h1.35v1.35h-1.35zM325.6 151.2h1.35v1.35h-1.35zM320.6 138.2h1.35v1.35h-1.35zM313.8 126.1h1.35v1.35h-1.35zM347.0 147.6h1.35v1.35h-1.35zM318.7 159.7h1.35v1.35h-1.35zM331.0 114.7h1.35v1.35h-1.35zM327.0 135.9h1.35v1.35h-1.35zM341.5 124.1h1.35v1.35h-1.35zM321.6 132.1h1.35v1.35h-1.35zM312.8 121.6h1.35v1.35h-1.35zM336.9 126.5h1.35v1.35h-1.35zM343.3 111.2h1.35v1.35h-1.35zM347.1 130.1h1.35v1.35h-1.35zM323.2 156.8h1.35v1.35h-1.35zM326.1 161.9h1.35v1.35h-1.35zM336.3 135.6h1.35v1.35h-1.35zM318.6 111.8h1.35v1.35h-1.35zM329.1 132.1h1.35v1.35h-1.35zM331.6 124.6h1.35v1.35h-1.35zM319.0 159.2h1.35v1.35h-1.35zM324.2 120.2h1.35v1.35h-1.35zM341.2 151.2h1.35v1.35h-1.35zM326.6 112.0h1.35v1.35h-1.35zM349.0 150.8h1.35v1.35h-1.35zM331.9 142.3h1.35v1.35h-1.35zM333.6 132.6h1.35v1.35h-1.35zM325.9 133.6h1.35v1.35h-1.35zM321.7 158.8h1.35v1.35h-1.35zM330.3 120.7h1.35v1.35h-1.35zM344.6 125.9h1.35v1.35h-1.35zM339.7 128.2h1.35v1.35h-1.35zM340.0 145.2h1.35v1.35h-1.35zM347.8 160.9h1.35v1.35h-1.35zM326.0 158.8h1.35v1.35h-1.35zM312.6 147.0h1.35v1.35h-1.35zM327.3 158.8h1.35v1.35h-1.35zM320.9 121.5h1.35v1.35h-1.35zM337.1 121.0h1.35v1.35h-1.35zM320.2 117.0h1.35v1.35h-1.35zM339.5 144.3h1.35v1.35h-1.35zM337.2 123.6h1.35v1.35h-1.35zM321.6 116.1h1.35v1.35h-1.35zM337.0 122.9h1.35v1.35h-1.35zM349.2 118.9h1.35v1.35h-1.35zM347.5 121.6h1.35v1.35h-1.35zM325.1 127.1h1.35v1.35h-1.35zM325.6 114.0h1.35v1.35h-1.35zM326.3 120.7h1.35v1.35h-1.35zM315.8 120.0h1.35v1.35h-1.35zM339.1 144.5h1.35v1.35h-1.35zM332.6 166.2h1.35v1.35h-1.35zM315.3 157.7h1.35v1.35h-1.35zM317.0 158.0h1.35v1.35h-1.35zM317.9 123.3h1.35v1.35h-1.35zM325.6 112.6h1.35v1.35h-1.35zM321.8 120.9h1.35v1.35h-1.35zM316.8 125.1h1.35v1.35h-1.35zM320.8 149.8h1.35v1.35h-1.35zM334.7 149.6h1.35v1.35h-1.35zM330.7 154.0h1.35v1.35h-1.35zM338.7 122.9h1.35v1.35h-1.35zM327.2 138.2h1.35v1.35h-1.35zM331.8 121.2h1.35v1.35h-1.35zM324.2 125.0h1.35v1.35h-1.35zM343.8 127.7h1.35v1.35h-1.35zM333.9 153.8h1.35v1.35h-1.35zM325.0 161.9h1.35v1.35h-1.35zM313.8 131.2h1.35v1.35h-1.35zM320.8 146.9h1.35v1.35h-1.35zM342.5 129.6h1.35v1.35h-1.35zM318.8 127.3h1.35v1.35h-1.35zM340.5 154.0h1.35v1.35h-1.35zM323.9 112.8h1.35v1.35h-1.35zM341.6 128.6h1.35v1.35h-1.35zM335.9 126.3h1.35v1.35h-1.35zM337.1 132.2h1.35v1.35h-1.35zM321.0 120.9h1.35v1.35h-1.35zM344.7 124.5h1.35v1.35h-1.35zM335.7 113.0h1.35v1.35h-1.35zM329.5 111.9h1.35v1.35h-1.35zM322.3 152.6h1.35v1.35h-1.35zM324.0 145.6h1.35v1.35h-1.35zM338.1 148.7h1.35v1.35h-1.35zM335.8 147.9h1.35v1.35h-1.35zM335.6 117.9h1.35v1.35h-1.35zM330.1 116.8h1.35v1.35h-1.35zM334.5 125.5h1.35v1.35h-1.35zM326.8 124.8h1.35v1.35h-1.35zM327.6 153.3h1.35v1.35h-1.35zM343.6 161.8h1.35v1.35h-1.35zM319.8 164.3h1.35v1.35h-1.35zM321.7 155.9h1.35v1.35h-1.35zM318.9 108.9h1.35v1.35h-1.35zM330.2 114.3h1.35v1.35h-1.35zM329.8 119.2h1.35v1.35h-1.35zM340.9 135.7h1.35v1.35h-1.35zM338.9 140.1h1.35v1.35h-1.35zM341.6 153.8h1.35v1.35h-1.35zM328.6 140.8h1.35v1.35h-1.35zM323.9 127.6h1.35v1.35h-1.35zM330.5 136.8h1.35v1.35h-1.35zM351.1 133.2h1.35v1.35h-1.35zM309.3 121.2h1.35v1.35h-1.35zM312.5 134.8h1.35v1.35h-1.35zM329.2 129.1h1.35v1.35h-1.35zM317.1 123.0h1.35v1.35h-1.35zM333.3 158.1h1.35v1.35h-1.35zM324.6 142.6h1.35v1.35h-1.35zM347.8 137.6h1.35v1.35h-1.35zM321.2 137.2h1.35v1.35h-1.35zM324.2 150.0h1.35v1.35h-1.35zM325.1 162.8h1.35v1.35h-1.35zM340.2 147.1h1.35v1.35h-1.35zM316.6 107.7h1.35v1.35h-1.35zM343.2 136.6h1.35v1.35h-1.35zM323.8 148.2h1.35v1.35h-1.35zM345.6 110.2h1.35v1.35h-1.35zM350.6 151.6h1.35v1.35h-1.35zM316.0 123.8h1.35v1.35h-1.35zM314.1 133.0h1.35v1.35h-1.35zM316.6 119.2h1.35v1.35h-1.35zM340.6 159.0h1.35v1.35h-1.35zM330.6 156.6h1.35v1.35h-1.35zM338.5 133.7h1.35v1.35h-1.35zM325.5 139.1h1.35v1.35h-1.35zM318.9 156.7h1.35v1.35h-1.35zM334.2 127.0h1.35v1.35h-1.35zM326.7 161.7h1.35v1.35h-1.35zM331.0 142.8h1.35v1.35h-1.35zM341.9 151.5h1.35v1.35h-1.35zM342.9 162.7h1.35v1.35h-1.35zM348.9 115.9h1.35v1.35h-1.35zM347.3 147.3h1.35v1.35h-1.35zM338.1 118.1h1.35v1.35h-1.35zM321.6 126.6h1.35v1.35h-1.35zM332.2 153.0h1.35v1.35h-1.35zM316.6 141.3h1.35v1.35h-1.35zM338.9 152.1h1.35v1.35h-1.35zM339.9 119.1h1.35v1.35h-1.35zM311.0 122.2h1.35v1.35h-1.35zM317.0 111.0h1.35v1.35h-1.35zM343.8 129.2h1.35v1.35h-1.35zM344.7 126.6h1.35v1.35h-1.35zM336.3 154.7h1.35v1.35h-1.35zM322.1 136.2h1.35v1.35h-1.35zM323.0 111.0h1.35v1.35h-1.35zM340.1 150.6h1.35v1.35h-1.35zM324.7 155.2h1.35v1.35h-1.35zM334.3 137.1h1.35v1.35h-1.35zM335.7 128.0h1.35v1.35h-1.35zM346.6 130.7h1.35v1.35h-1.35zM335.9 145.0h1.35v1.35h-1.35zM325.2 129.1h1.35v1.35h-1.35zM341.2 142.1h1.35v1.35h-1.35zM339.0 159.0h1.35v1.35h-1.35zM321.9 148.1h1.35v1.35h-1.35zM324.6 165.3h1.35v1.35h-1.35zM332.8 135.1h1.35v1.35h-1.35zM315.8 139.2h1.35v1.35h-1.35zM329.7 155.8h1.35v1.35h-1.35zM331.6 162.7h1.35v1.35h-1.35zM334.7 115.7h1.35v1.35h-1.35zM331.0 147.1h1.35v1.35h-1.35zM325.0 120.6h1.35v1.35h-1.35zM343.6 106.6h1.35v1.35h-1.35zM324.0 150.6h1.35v1.35h-1.35zM320.0 124.0h1.35v1.35h-1.35zM335.5 165.7h1.35v1.35h-1.35zM324.2 155.7h1.35v1.35h-1.35zM339.6 155.6h1.35v1.35h-1.35zM316.5 146.5h1.35v1.35h-1.35zM344.9 138.1h1.35v1.35h-1.35zM324.2 114.7h1.35v1.35h-1.35zM332.1 134.6h1.35v1.35h-1.35zM324.6 133.7h1.35v1.35h-1.35zM338.9 128.8h1.35v1.35h-1.35zM319.8 140.0h1.35v1.35h-1.35zM339.3 126.0h1.35v1.35h-1.35z" fill="#2a2a2a" fill-opacity="0.8"/>
<path d="M328.5 147.8h1.35v1.35h-1.35zM327.6 120.7h1.35v1.35h-1.35zM348.7 136.1h1.35v1.35h-1.35zM326.1 163.6h1.35v1.35h-1.35zM322.1 117.7h1.35v1.35h-1.35zM327.6 123.1h1.35v1.35h-1.35zM332.9 148.6h1.35v1.35h-1.35zM338.9 159.8h1.35v1.35h-1.35zM329.9 147.3h1.35v1.35h-1.35zM331.2 121.8h1.35v1.35h-1.35zM334.2 131.0h1.35v1.35h-1.35zM321.7 128.9h1.35v1.35h-1.35zM340.0 159.0h1.35v1.35h-1.35zM328.9 146.8h1.35v1.35h-1.35zM348.2 118.1h1.35v1.35h-1.35zM328.2 125.2h1.35v1.35h-1.35zM312.9 122.6h1.35v1.35h-1.35zM323.8 154.6h1.35v1.35h-1.35zM326.9 114.2h1.35v1.35h-1.35zM322.6 117.6h1.35v1.35h-1.35zM321.1 136.0h1.35v1.35h-1.35zM340.3 121.6h1.35v1.35h-1.35zM331.6 164.8h1.35v1.35h-1.35zM327.9 162.8h1.35v1.35h-1.35zM338.0 114.2h1.35v1.35h-1.35zM316.6 151.6h1.35v1.35h-1.35zM333.2 128.8h1.35v1.35h-1.35zM331.8 115.9h1.35v1.35h-1.35zM323.6 161.7h1.35v1.35h-1.35zM341.2 116.9h1.35v1.35h-1.35zM321.1 152.5h1.35v1.35h-1.35zM332.2 128.6h1.35v1.35h-1.35zM322.2 145.7h1.35v1.35h-1.35zM324.1 111.9h1.35v1.35h-1.35zM336.8 115.7h1.35v1.35h-1.35zM321.2 161.6h1.35v1.35h-1.35zM332.2 151.8h1.35v1.35h-1.35zM345.3 157.1h1.35v1.35h-1.35zM312.6 127.9h1.35v1.35h-1.35zM333.2 120.3h1.35v1.35h-1.35zM335.3 113.3h1.35v1.35h-1.35zM332.3 119.7h1.35v1.35h-1.35zM330.1 129.7h1.35v1.35h-1.35zM324.7 119.8h1.35v1.35h-1.35zM333.2 121.0h1.35v1.35h-1.35zM334.6 161.5h1.35v1.35h-1.35zM351.1 130.0h1.35v1.35h-1.35zM333.3 109.2h1.35v1.35h-1.35zM335.1 166.7h1.35v1.35h-1.35zM328.3 123.6h1.35v1.35h-1.35zM324.7 130.7h1.35v1.35h-1.35zM320.2 117.8h1.35v1.35h-1.35zM317.7 154.2h1.35v1.35h-1.35zM330.9 156.2h1.35v1.35h-1.35zM313.8 139.6h1.35v1.35h-1.35zM324.8 158.1h1.35v1.35h-1.35zM346.6 113.9h1.35v1.35h-1.35zM331.7 136.2h1.35v1.35h-1.35zM322.0 136.6h1.35v1.35h-1.35zM340.0 116.2h1.35v1.35h-1.35zM322.3 166.7h1.35v1.35h-1.35zM325.7 148.6h1.35v1.35h-1.35zM321.2 126.0h1.35v1.35h-1.35zM320.0 120.1h1.35v1.35h-1.35zM318.2 155.7h1.35v1.35h-1.35zM329.9 152.5h1.35v1.35h-1.35zM319.7 127.7h1.35v1.35h-1.35zM321.8 111.2h1.35v1.35h-1.35zM330.6 133.8h1.35v1.35h-1.35zM343.9 112.7h1.35v1.35h-1.35zM307.0 109.5h1.35v1.35h-1.35zM332.9 131.2h1.35v1.35h-1.35zM346.2 129.8h1.35v1.35h-1.35zM334.2 121.1h1.35v1.35h-1.35zM329.8 125.6h1.35v1.35h-1.35zM326.8 144.3h1.35v1.35h-1.35zM329.2 134.7h1.35v1.35h-1.35zM314.2 127.6h1.35v1.35h-1.35zM341.1 127.8h1.35v1.35h-1.35zM321.1 107.1h1.35v1.35h-1.35zM323.6 121.8h1.35v1.35h-1.35zM341.7 122.6h1.35v1.35h-1.35zM327.0 154.2h1.35v1.35h-1.35zM321.0 119.1h1.35v1.35h-1.35zM314.6 120.9h1.35v1.35h-1.35zM325.9 126.2h1.35v1.35h-1.35zM341.7 110.2h1.35v1.35h-1.35zM333.6 135.2h1.35v1.35h-1.35zM328.6 118.7h1.35v1.35h-1.35zM350.3 149.9h1.35v1.35h-1.35zM310.6 157.0h1.35v1.35h-1.35zM345.2 129.6h1.35v1.35h-1.35zM327.1 119.5h1.35v1.35h-1.35zM335.1 142.8h1.35v1.35h-1.35zM319.7 141.5h1.35v1.35h-1.35zM323.1 123.3h1.35v1.35h-1.35zM330.0 118.0h1.35v1.35h-1.35zM336.1 120.2h1.35v1.35h-1.35zM325.8 129.3h1.35v1.35h-1.35zM316.7 132.3h1.35v1.35h-1.35zM340.6 141.1h1.35v1.35h-1.35zM343.8 151.9h1.35v1.35h-1.35zM314.9 145.5h1.35v1.35h-1.35zM325.7 112.1h1.35v1.35h-1.35zM315.8 133.9h1.35v1.35h-1.35zM337.9 157.7h1.35v1.35h-1.35zM321.9 160.8h1.35v1.35h-1.35zM327.5 119.2h1.35v1.35h-1.35zM325.8 137.6h1.35v1.35h-1.35zM332.3 121.8h1.35v1.35h-1.35zM321.2 142.3h1.35v1.35h-1.35zM332.1 118.9h1.35v1.35h-1.35zM326.2 117.1h1.35v1.35h-1.35zM330.0 164.0h1.35v1.35h-1.35zM324.2 143.0h1.35v1.35h-1.35zM328.2 152.2h1.35v1.35h-1.35zM317.8 147.1h1.35v1.35h-1.35zM323.1 122.2h1.35v1.35h-1.35zM341.7 150.6h1.35v1.35h-1.35zM346.1 119.8h1.35v1.35h-1.35zM340.7 154.8h1.35v1.35h-1.35zM339.3 148.3h1.35v1.35h-1.35zM324.2 122.8h1.35v1.35h-1.35zM333.5 155.9h1.35v1.35h-1.35zM324.1 153.8h1.35v1.35h-1.35zM320.8 115.8h1.35v1.35h-1.35zM326.6 145.2h1.35v1.35h-1.35zM332.0 115.3h1.35v1.35h-1.35zM345.7 130.7h1.35v1.35h-1.35zM317.6 107.8h1.35v1.35h-1.35zM322.1 118.6h1.35v1.35h-1.35zM353.0 132.5h1.35v1.35h-1.35zM350.7 125.8h1.35v1.35h-1.35zM325.8 115.7h1.35v1.35h-1.35zM330.8 113.9h1.35v1.35h-1.35zM334.6 120.3h1.35v1.35h-1.35zM339.1 163.7h1.35v1.35h-1.35zM330.5 113.1h1.35v1.35h-1.35zM316.1 154.3h1.35v1.35h-1.35zM315.2 147.9h1.35v1.35h-1.35zM334.9 131.3h1.35v1.35h-1.35zM327.2 166.6h1.35v1.35h-1.35zM323.7 130.6h1.35v1.35h-1.35zM338.1 125.5h1.35v1.35h-1.35zM328.8 162.8h1.35v1.35h-1.35zM338.7 129.8h1.35v1.35h-1.35zM319.7 126.3h1.35v1.35h-1.35zM345.5 123.0h1.35v1.35h-1.35zM344.2 117.6h1.35v1.35h-1.35zM339.7 125.3h1.35v1.35h-1.35zM321.5 148.7h1.35v1.35h-1.35zM336.6 160.2h1.35v1.35h-1.35zM317.6 117.2h1.35v1.35h-1.35zM326.0 121.9h1.35v1.35h-1.35zM314.6 110.5h1.35v1.35h-1.35zM346.3 147.7h1.35v1.35h-1.35zM328.1 132.1h1.35v1.35h-1.35zM322.7 138.1h1.35v1.35h-1.35zM325.7 149.8h1.35v1.35h-1.35zM347.2 131.5h1.35v1.35h-1.35zM325.1 112.5h1.35v1.35h-1.35zM342.5 165.7h1.35v1.35h-1.35zM338.0 141.5h1.35v1.35h-1.35zM342.8 113.8h1.35v1.35h-1.35zM317.7 127.8h1.35v1.35h-1.35zM330.2 111.0h1.35v1.35h-1.35zM322.6 134.8h1.35v1.35h-1.35zM330.7 158.1h1.35v1.35h-1.35zM327.0 116.8h1.35v1.35h-1.35zM314.5 112.2h1.35v1.35h-1.35zM337.1 129.7h1.35v1.35h-1.35zM324.2 116.1h1.35v1.35h-1.35zM334.9 121.2h1.35v1.35h-1.35zM337.9 108.5h1.35v1.35h-1.35zM318.7 136.1h1.35v1.35h-1.35zM333.0 112.5h1.35v1.35h-1.35zM338.3 116.3h1.35v1.35h-1.35zM317.6 126.2h1.35v1.35h-1.35zM315.9 131.5h1.35v1.35h-1.35zM328.1 127.2h1.35v1.35h-1.35zM326.8 152.6h1.35v1.35h-1.35zM320.3 132.9h1.35v1.35h-1.35zM323.1 161.1h1.35v1.35h-1.35zM324.3 109.8h1.35v1.35h-1.35zM316.7 115.2h1.35v1.35h-1.35zM312.0 141.8h1.35v1.35h-1.35zM346.9 160.3h1.35v1.35h-1.35zM341.7 140.8h1.35v1.35h-1.35zM341.6 114.2h1.35v1.35h-1.35zM319.3 113.8h1.35v1.35h-1.35zM325.5 118.1h1.35v1.35h-1.35zM314.8 122.1h1.35v1.35h-1.35zM331.2 135.1h1.35v1.35h-1.35zM317.8 131.0h1.35v1.35h-1.35zM327.5 115.2h1.35v1.35h-1.35zM335.5 132.1h1.35v1.35h-1.35zM342.9 126.0h1.35v1.35h-1.35zM325.1 140.8h1.35v1.35h-1.35zM349.3 154.3h1.35v1.35h-1.35zM341.2 152.2h1.35v1.35h-1.35zM351.9 121.9h1.35v1.35h-1.35zM340.0 158.0h1.35v1.35h-1.35zM336.0 133.0h1.35v1.35h-1.35zM320.9 113.0h1.35v1.35h-1.35zM323.2 154.6h1.35v1.35h-1.35zM320.9 131.8h1.35v1.35h-1.35zM325.0 116.9h1.35v1.35h-1.35zM318.6 133.9h1.35v1.35h-1.35zM330.2 114.7h1.35v1.35h-1.35zM333.1 152.2h1.35v1.35h-1.35zM337.7 131.8h1.35v1.35h-1.35zM335.2 143.7h1.35v1.35h-1.35zM343.3 120.7h1.35v1.35h-1.35zM343.2 128.1h1.35v1.35h-1.35zM314.0 136.7h1.35v1.35h-1.35zM328.1 120.0h1.35v1.35h-1.35zM332.6 119.0h1.35v1.35h-1.35zM321.0 130.2h1.35v1.35h-1.35zM335.6 114.7h1.35v1.35h-1.35zM328.9 127.7h1.35v1.35h-1.35zM342.1 118.2h1.35v1.35h-1.35zM323.1 118.6h1.35v1.35h-1.35zM319.2 117.8h1.35v1.35h-1.35zM323.1 115.6h1.35v1.35h-1.35zM343.0 126.6h1.35v1.35h-1.35zM339.2 164.5h1.35v1.35h-1.35zM318.2 123.6h1.35v1.35h-1.35zM334.9 114.9h1.35v1.35h-1.35zM338.6 124.6h1.35v1.35h-1.35zM344.6 136.6h1.35v1.35h-1.35zM315.1 123.0h1.35v1.35h-1.35zM346.2 121.7h1.35v1.35h-1.35zM333.5 158.1h1.35v1.35h-1.35zM332.8 110.2h1.35v1.35h-1.35zM321.5 130.7h1.35v1.35h-1.35zM345.3 114.5h1.35v1.35h-1.35zM317.8 165.2h1.35v1.35h-1.35zM333.9 114.2h1.35v1.35h-1.35zM329.7 142.8h1.35v1.35h-1.35zM343.5 160.0h1.35v1.35h-1.35zM329.1 130.3h1.35v1.35h-1.35zM326.8 126.1h1.35v1.35h-1.35zM330.2 122.1h1.35v1.35h-1.35zM323.1 133.2h1.35v1.35h-1.35zM346.3 110.5h1.35v1.35h-1.35zM340.1 164.0h1.35v1.35h-1.35zM307.5 160.5h1.35v1.35h-1.35zM335.3 148.3h1.35v1.35h-1.35zM325.7 157.3h1.35v1.35h-1.35zM348.9 158.0h1.35v1.35h-1.35zM327.1 159.8h1.35v1.35h-1.35zM325.1 151.7h1.35v1.35h-1.35zM341.7 125.9h1.35v1.35h-1.35zM327.6 116.7h1.35v1.35h-1.35zM344.1 119.2h1.35v1.35h-1.35zM341.7 121.6h1.35v1.35h-1.35zM318.1 147.7h1.35v1.35h-1.35zM330.8 148.5h1.35v1.35h-1.35zM323.6 164.9h1.35v1.35h-1.35zM317.6 115.0h1.35v1.35h-1.35zM330.8 120.3h1.35v1.35h-1.35zM320.8 117.9h1.35v1.35h-1.35zM338.0 152.2h1.35v1.35h-1.35zM338.0 108.2h1.35v1.35h-1.35zM342.2 126.9h1.35v1.35h-1.35zM324.1 117.8h1.35v1.35h-1.35zM316.0 128.9h1.35v1.35h-1.35zM338.2 120.7h1.35v1.35h-1.35zM316.5 115.6h1.35v1.35h-1.35zM337.0 119.1h1.35v1.35h-1.35zM328.1 145.8h1.35v1.35h-1.35zM349.7 117.6h1.35v1.35h-1.35zM319.6 160.3h1.35v1.35h-1.35zM327.0 126.6h1.35v1.35h-1.35zM337.5 130.1h1.35v1.35h-1.35zM344.1 122.1h1.35v1.35h-1.35zM334.2 141.8h1.35v1.35h-1.35zM332.9 114.2h1.35v1.35h-1.35zM338.6 121.7h1.35v1.35h-1.35zM320.0 122.8h1.35v1.35h-1.35zM337.1 153.3h1.35v1.35h-1.35zM325.7 131.9h1.35v1.35h-1.35zM327.6 136.0h1.35v1.35h-1.35zM326.9 127.5h1.35v1.35h-1.35zM331.2 132.2h1.35v1.35h-1.35zM345.7 117.2h1.35v1.35h-1.35zM319.8 147.5h1.35v1.35h-1.35zM333.0 118.0h1.35v1.35h-1.35zM334.0 166.3h1.35v1.35h-1.35zM345.8 149.9h1.35v1.35h-1.35zM324.6 109.0h1.35v1.35h-1.35zM330.8 125.8h1.35v1.35h-1.35zM334.6 134.8h1.35v1.35h-1.35zM312.5 116.6h1.35v1.35h-1.35z" fill="#454545" fill-opacity="0.8"/>
</g>
</g>
<rect x="304.4" y="103.4" width="64.60000000000002" height="64.9" fill="none" stroke="#8a8a8a" stroke-width="1"/>
<line x1="330.20" y1="103.40" x2="330.20" y2="168.30" stroke="#707070" stroke-width="1.0" />
<line x1="304.40" y1="139.10" x2="369.00" y2="139.10" stroke="#707070" stroke-width="1.0" />
<text x="307.80" y="109.80" font-size="5.0" stroke="#222" stroke-width="0.08" font-weight="bold" fill="#222" >26</text>
<text x="366.60" y="109.80" font-size="5.0" stroke="#222" stroke-width="0.08" text-anchor="end" font-weight="bold" fill="#222" >33</text>
<text x="366.60" y="165.00" font-size="5.0" stroke="#222" stroke-width="0.08" text-anchor="end" font-weight="bold" fill="#222" >18</text>
<text x="350.70" y="133.60" font-size="7.8" stroke="#a0204a" stroke-width="0.08" fill="#a0204a" textLength="16.6" lengthAdjust="spacingAndGlyphs" >DAC</text>
<line x1="296.40" y1="85.10" x2="296.40" y2="56.20" stroke="#111" stroke-width="1.8" />
<polygon points="296.40,50.20 299.80,57.70 293.00,57.70" fill="#111" stroke="none" stroke-width="1" />
<line x1="295.70" y1="84.40" x2="324.50" y2="84.40" stroke="#111" stroke-width="1.8" />
<polygon points="330.50,84.40 323.00,81.30 323.00,87.50" fill="#111" stroke="none" stroke-width="1" />
<text x="301.00" y="94.60" font-size="9.0" stroke="#231f20" stroke-width="0.3" textLength="19.1" lengthAdjust="spacingAndGlyphs" >CD16</text>
<text x="291.20" y="77.90" font-size="9.0" stroke="#231f20" stroke-width="0.3" transform="rotate(-90 291.20 77.90)" textLength="15.6" lengthAdjust="spacingAndGlyphs" >KIRs</text>
<line x1="296.40" y1="176.10" x2="296.40" y2="147.40" stroke="#111" stroke-width="1.8" />
<polygon points="296.40,141.40 299.80,148.90 293.00,148.90" fill="#111" stroke="none" stroke-width="1" />
<line x1="295.70" y1="175.40" x2="324.50" y2="175.40" stroke="#111" stroke-width="1.8" />
<polygon points="330.50,175.40 323.00,172.30 323.00,178.50" fill="#111" stroke="none" stroke-width="1" />
<text x="301.00" y="185.60" font-size="9.0" stroke="#231f20" stroke-width="0.3" textLength="19.1" lengthAdjust="spacingAndGlyphs" >CD16</text>
<text x="291.20" y="168.50" font-size="9.0" stroke="#231f20" stroke-width="0.3" transform="rotate(-90 291.20 168.50)" textLength="15.6" lengthAdjust="spacingAndGlyphs" >KIRs</text>
<rect x="376.6" y="12.4" width="64.19999999999999" height="65.19999999999999" fill="#fff" stroke="#3a3a3a" stroke-width="1.2"/>
<clipPath id="hc37612"><polygon points="383.00,76.60 383.00,76.60 386.00,75.80 389.00,74.00 391.00,71.00 393.00,66.10 394.50,60.60 395.70,52.60 396.80,43.60 397.80,32.60 398.80,22.60 399.60,16.80 400.50,22.60 401.50,32.60 402.50,43.60 403.50,54.60 404.50,63.60 405.50,69.60 406.50,74.10 408.00,76.10 410.00,76.60 410.00,76.60"/></clipPath>
<polygon points="383.00,76.60 383.00,76.60 386.00,75.80 389.00,74.00 391.00,71.00 393.00,66.10 394.50,60.60 395.70,52.60 396.80,43.60 397.80,32.60 398.80,22.60 399.60,16.80 400.50,22.60 401.50,32.60 402.50,43.60 403.50,54.60 404.50,63.60 405.50,69.60 406.50,74.10 408.00,76.10 410.00,76.60 410.00,76.60" fill="#f6c9cc" stroke="none" stroke-width="1" />
<polygon points="383.10,76.60 383.10,76.90 386.10,76.10 389.10,74.30 391.10,71.30 393.10,66.40 394.60,60.90 395.80,52.90 396.90,43.90 397.90,32.90 398.90,22.90 399.70,17.10 400.60,22.90 401.60,32.90 402.60,43.90 403.60,54.90 404.60,63.90 405.60,69.90 406.60,74.40 408.10,76.40 410.10,76.90 410.10,76.60" fill="#6db64d" stroke="none" stroke-width="1" />
<polygon points="383.10,76.60 383.10,76.90 386.10,76.10 389.10,74.30 391.10,71.30 393.10,66.40 394.60,60.90 395.80,52.90 396.90,43.90 397.90,32.90 398.90,22.90 399.70,17.10 400.60,22.90 401.60,32.90 402.60,43.90 403.60,54.90 404.60,63.90 405.60,69.90 406.60,74.40 408.10,76.40 410.10,76.90 410.10,76.60" fill="#749236" stroke="none" stroke-width="1" clip-path="url(#hc37612)"/>
<polyline points="383.00,76.60 383.00,76.60 386.00,75.80 389.00,74.00 391.00,71.00 393.00,66.10 394.50,60.60 395.70,52.60 396.80,43.60 397.80,32.60 398.80,22.60 399.60,16.80 400.50,22.60 401.50,32.60 402.50,43.60 403.50,54.60 404.50,63.60 405.50,69.60 406.50,74.10 408.00,76.10 410.00,76.60 410.00,76.60" fill="none" stroke="#9b1030" stroke-width="1.3" stroke-linejoin="round"/>
<line x1="376.60" y1="76.60" x2="440.80" y2="76.60" stroke="#9b1030" stroke-width="1.0" />
<line x1="374.00" y1="16.40" x2="376.60" y2="16.40" stroke="#222" stroke-width="1.0" />
<line x1="374.00" y1="31.80" x2="376.60" y2="31.80" stroke="#222" stroke-width="1.0" />
<line x1="374.00" y1="47.20" x2="376.60" y2="47.20" stroke="#222" stroke-width="1.0" />
<line x1="374.00" y1="62.60" x2="376.60" y2="62.60" stroke="#222" stroke-width="1.0" />
<line x1="378.60" y1="77.60" x2="378.60" y2="78.60" stroke="#333" stroke-width="0.7" />
<line x1="381.22" y1="77.60" x2="381.22" y2="78.60" stroke="#333" stroke-width="0.7" />
<line x1="383.83" y1="77.60" x2="383.83" y2="78.60" stroke="#333" stroke-width="0.7" />
<line x1="386.45" y1="77.60" x2="386.45" y2="79.40" stroke="#333" stroke-width="0.7" />
<line x1="389.07" y1="77.60" x2="389.07" y2="78.60" stroke="#333" stroke-width="0.7" />
<line x1="391.69" y1="77.60" x2="391.69" y2="78.60" stroke="#333" stroke-width="0.7" />
<line x1="394.30" y1="77.60" x2="394.30" y2="78.60" stroke="#333" stroke-width="0.7" />
<line x1="396.92" y1="77.60" x2="396.92" y2="78.60" stroke="#333" stroke-width="0.7" />
<line x1="399.54" y1="77.60" x2="399.54" y2="78.60" stroke="#333" stroke-width="0.7" />
<line x1="402.16" y1="77.60" x2="402.16" y2="79.40" stroke="#333" stroke-width="0.7" />
<line x1="404.77" y1="77.60" x2="404.77" y2="78.60" stroke="#333" stroke-width="0.7" />
<line x1="407.39" y1="77.60" x2="407.39" y2="78.60" stroke="#333" stroke-width="0.7" />
<line x1="410.01" y1="77.60" x2="410.01" y2="78.60" stroke="#333" stroke-width="0.7" />
<line x1="412.63" y1="77.60" x2="412.63" y2="78.60" stroke="#333" stroke-width="0.7" />
<line x1="415.24" y1="77.60" x2="415.24" y2="78.60" stroke="#333" stroke-width="0.7" />
<line x1="417.86" y1="77.60" x2="417.86" y2="79.40" stroke="#333" stroke-width="0.7" />
<line x1="420.48" y1="77.60" x2="420.48" y2="78.60" stroke="#333" stroke-width="0.7" />
<line x1="423.10" y1="77.60" x2="423.10" y2="78.60" stroke="#333" stroke-width="0.7" />
<line x1="425.71" y1="77.60" x2="425.71" y2="78.60" stroke="#333" stroke-width="0.7" />
<line x1="428.33" y1="77.60" x2="428.33" y2="78.60" stroke="#333" stroke-width="0.7" />
<line x1="430.95" y1="77.60" x2="430.95" y2="78.60" stroke="#333" stroke-width="0.7" />
<line x1="433.57" y1="77.60" x2="433.57" y2="79.40" stroke="#333" stroke-width="0.7" />
<line x1="436.18" y1="77.60" x2="436.18" y2="78.60" stroke="#333" stroke-width="0.7" />
<line x1="438.80" y1="77.60" x2="438.80" y2="78.60" stroke="#333" stroke-width="0.7" />
<text x="434.30" y="25.40" font-size="8.3" stroke="#84a872" stroke-width="0.08" text-anchor="end" fill="#84a872" >2.2</text>
<text x="434.30" y="34.80" font-size="8.3" stroke="#6a3656" stroke-width="0.08" text-anchor="end" fill="#6a3656" >2.2</text>
<line x1="379.10" y1="85.10" x2="431.70" y2="85.10" stroke="#111" stroke-width="1.8" />
<polygon points="437.70,85.10 430.20,82.00 430.20,88.20" fill="#111" stroke="none" stroke-width="1" />
<text x="382.60" y="94.60" font-size="9.2" stroke="#231f20" stroke-width="0.3" textLength="28.3" lengthAdjust="spacingAndGlyphs" >DNAM-1</text>
<rect x="448.2" y="12.4" width="64.19999999999999" height="65.19999999999999" fill="#fff" stroke="#3a3a3a" stroke-width="1.2"/>
<clipPath id="hc44812"><polygon points="463.80,76.60 463.80,76.30 465.50,74.00 467.60,68.00 469.90,58.00 471.40,45.40 472.70,32.70 473.70,22.60 474.60,17.00 475.50,18.50 476.50,18.80 478.40,18.60 479.60,22.00 480.90,31.50 482.80,42.80 484.70,51.70 487.20,59.20 488.50,63.00 490.40,71.90 492.90,76.30 492.90,76.60"/></clipPath>
<polygon points="463.80,76.60 463.80,76.30 465.50,74.00 467.60,68.00 469.90,58.00 471.40,45.40 472.70,32.70 473.70,22.60 474.60,17.00 475.50,18.50 476.50,18.80 478.40,18.60 479.60,22.00 480.90,31.50 482.80,42.80 484.70,51.70 487.20,59.20 488.50,63.00 490.40,71.90 492.90,76.30 492.90,76.60" fill="#f6c9cc" stroke="none" stroke-width="1" />
<polygon points="465.50,76.60 465.50,76.30 466.40,75.50 468.50,68.00 471.40,54.20 473.90,37.80 476.50,25.20 478.50,19.50 479.60,18.20 481.50,22.60 483.40,31.50 485.90,42.80 488.50,52.90 491.00,61.80 493.50,68.00 496.70,73.80 498.60,76.30 498.60,76.60" fill="#6db64d" stroke="none" stroke-width="1" />
<polygon points="465.50,76.60 465.50,76.30 466.40,75.50 468.50,68.00 471.40,54.20 473.90,37.80 476.50,25.20 478.50,19.50 479.60,18.20 481.50,22.60 483.40,31.50 485.90,42.80 488.50,52.90 491.00,61.80 493.50,68.00 496.70,73.80 498.60,76.30 498.60,76.60" fill="#749236" stroke="none" stroke-width="1" clip-path="url(#hc44812)"/>
<polyline points="463.80,76.60 463.80,76.30 465.50,74.00 467.60,68.00 469.90,58.00 471.40,45.40 472.70,32.70 473.70,22.60 474.60,17.00 475.50,18.50 476.50,18.80 478.40,18.60 479.60,22.00 480.90,31.50 482.80,42.80 484.70,51.70 487.20,59.20 488.50,63.00 490.40,71.90 492.90,76.30 492.90,76.60" fill="none" stroke="#9b1030" stroke-width="1.3" stroke-linejoin="round"/>
<line x1="448.20" y1="76.60" x2="512.40" y2="76.60" stroke="#9b1030" stroke-width="1.0" />
<line x1="445.60" y1="16.40" x2="448.20" y2="16.40" stroke="#222" stroke-width="1.0" />
<line x1="445.60" y1="31.80" x2="448.20" y2="31.80" stroke="#222" stroke-width="1.0" />
<line x1="445.60" y1="47.20" x2="448.20" y2="47.20" stroke="#222" stroke-width="1.0" />
<line x1="445.60" y1="62.60" x2="448.20" y2="62.60" stroke="#222" stroke-width="1.0" />
<line x1="446.60" y1="15.40" x2="448.20" y2="15.40" stroke="#333" stroke-width="0.7" />
<line x1="446.60" y1="18.18" x2="448.20" y2="18.18" stroke="#333" stroke-width="0.7" />
<line x1="446.60" y1="20.96" x2="448.20" y2="20.96" stroke="#333" stroke-width="0.7" />
<line x1="446.60" y1="23.75" x2="448.20" y2="23.75" stroke="#333" stroke-width="0.7" />
<line x1="446.60" y1="26.53" x2="448.20" y2="26.53" stroke="#333" stroke-width="0.7" />
<line x1="446.60" y1="29.31" x2="448.20" y2="29.31" stroke="#333" stroke-width="0.7" />
<line x1="446.60" y1="32.09" x2="448.20" y2="32.09" stroke="#333" stroke-width="0.7" />
<line x1="446.60" y1="34.87" x2="448.20" y2="34.87" stroke="#333" stroke-width="0.7" />
<line x1="446.60" y1="37.65" x2="448.20" y2="37.65" stroke="#333" stroke-width="0.7" />
<line x1="446.60" y1="40.44" x2="448.20" y2="40.44" stroke="#333" stroke-width="0.7" />
<line x1="446.60" y1="43.22" x2="448.20" y2="43.22" stroke="#333" stroke-width="0.7" />
<line x1="446.60" y1="46.00" x2="448.20" y2="46.00" stroke="#333" stroke-width="0.7" />
<line x1="446.60" y1="48.78" x2="448.20" y2="48.78" stroke="#333" stroke-width="0.7" />
<line x1="446.60" y1="51.56" x2="448.20" y2="51.56" stroke="#333" stroke-width="0.7" />
<line x1="446.60" y1="54.35" x2="448.20" y2="54.35" stroke="#333" stroke-width="0.7" />
<line x1="446.60" y1="57.13" x2="448.20" y2="57.13" stroke="#333" stroke-width="0.7" />
<line x1="446.60" y1="59.91" x2="448.20" y2="59.91" stroke="#333" stroke-width="0.7" />
<line x1="446.60" y1="62.69" x2="448.20" y2="62.69" stroke="#333" stroke-width="0.7" />
<line x1="446.60" y1="65.47" x2="448.20" y2="65.47" stroke="#333" stroke-width="0.7" />
<line x1="446.60" y1="68.25" x2="448.20" y2="68.25" stroke="#333" stroke-width="0.7" />
<line x1="446.60" y1="71.04" x2="448.20" y2="71.04" stroke="#333" stroke-width="0.7" />
<line x1="446.60" y1="73.82" x2="448.20" y2="73.82" stroke="#333" stroke-width="0.7" />
<line x1="450.20" y1="77.60" x2="450.20" y2="78.60" stroke="#333" stroke-width="0.7" />
<line x1="452.82" y1="77.60" x2="452.82" y2="78.60" stroke="#333" stroke-width="0.7" />
<line x1="455.43" y1="77.60" x2="455.43" y2="78.60" stroke="#333" stroke-width="0.7" />
<line x1="458.05" y1="77.60" x2="458.05" y2="79.40" stroke="#333" stroke-width="0.7" />
<line x1="460.67" y1="77.60" x2="460.67" y2="78.60" stroke="#333" stroke-width="0.7" />
<line x1="463.29" y1="77.60" x2="463.29" y2="78.60" stroke="#333" stroke-width="0.7" />
<line x1="465.90" y1="77.60" x2="465.90" y2="78.60" stroke="#333" stroke-width="0.7" />
<line x1="468.52" y1="77.60" x2="468.52" y2="78.60" stroke="#333" stroke-width="0.7" />
<line x1="471.14" y1="77.60" x2="471.14" y2="78.60" stroke="#333" stroke-width="0.7" />
<line x1="473.76" y1="77.60" x2="473.76" y2="79.40" stroke="#333" stroke-width="0.7" />
<line x1="476.37" y1="77.60" x2="476.37" y2="78.60" stroke="#333" stroke-width="0.7" />
<line x1="478.99" y1="77.60" x2="478.99" y2="78.60" stroke="#333" stroke-width="0.7" />
<line x1="481.61" y1="77.60" x2="481.61" y2="78.60" stroke="#333" stroke-width="0.7" />
<line x1="484.23" y1="77.60" x2="484.23" y2="78.60" stroke="#333" stroke-width="0.7" />
<line x1="486.84" y1="77.60" x2="486.84" y2="78.60" stroke="#333" stroke-width="0.7" />
<line x1="489.46" y1="77.60" x2="489.46" y2="79.40" stroke="#333" stroke-width="0.7" />
<line x1="492.08" y1="77.60" x2="492.08" y2="78.60" stroke="#333" stroke-width="0.7" />
<line x1="494.70" y1="77.60" x2="494.70" y2="78.60" stroke="#333" stroke-width="0.7" />
<line x1="497.31" y1="77.60" x2="497.31" y2="78.60" stroke="#333" stroke-width="0.7" />
<line x1="499.93" y1="77.60" x2="499.93" y2="78.60" stroke="#333" stroke-width="0.7" />
<line x1="502.55" y1="77.60" x2="502.55" y2="78.60" stroke="#333" stroke-width="0.7" />
<line x1="505.17" y1="77.60" x2="505.17" y2="79.40" stroke="#333" stroke-width="0.7" />
<line x1="507.78" y1="77.60" x2="507.78" y2="78.60" stroke="#333" stroke-width="0.7" />
<line x1="510.40" y1="77.60" x2="510.40" y2="78.60" stroke="#333" stroke-width="0.7" />
<text x="508.30" y="25.40" font-size="8.3" stroke="#84a872" stroke-width="0.08" text-anchor="end" fill="#84a872" >12.8</text>
<text x="506.70" y="34.80" font-size="8.3" stroke="#6a3656" stroke-width="0.08" text-anchor="end" fill="#6a3656" >7.6</text>
<line x1="450.40" y1="85.10" x2="501.30" y2="85.10" stroke="#111" stroke-width="1.8" />
<polygon points="507.30,85.10 499.80,82.00 499.80,88.20" fill="#111" stroke="none" stroke-width="1" />
<text x="452.20" y="94.60" font-size="9.2" stroke="#231f20" stroke-width="0.3" textLength="25.4" lengthAdjust="spacingAndGlyphs" >NKG2D</text>
<rect x="376.8" y="102.4" width="64.39999999999998" height="65.79999999999998" fill="#fff" stroke="#3a3a3a" stroke-width="1.2"/>
<clipPath id="hc376102"><polygon points="377.50,167.20 377.50,165.60 381.00,165.20 384.00,165.80 387.00,165.00 390.00,165.60 392.60,165.00 395.00,162.50 397.00,160.60 400.20,153.00 402.70,144.20 405.00,132.80 407.10,122.70 409.00,117.00 410.90,117.70 412.10,125.30 413.40,137.90 414.70,150.50 416.60,160.60 418.50,166.30 418.50,167.20"/></clipPath>
<polygon points="377.50,167.20 377.50,165.60 381.00,165.20 384.00,165.80 387.00,165.00 390.00,165.60 392.60,165.00 395.00,162.50 397.00,160.60 400.20,153.00 402.70,144.20 405.00,132.80 407.10,122.70 409.00,117.00 410.90,117.70 412.10,125.30 413.40,137.90 414.70,150.50 416.60,160.60 418.50,166.30 418.50,167.20" fill="#f6c9cc" stroke="none" stroke-width="1" />
<polygon points="391.50,167.20 391.50,166.30 395.00,162.50 397.00,160.60 400.20,153.00 402.70,144.20 405.00,132.80 407.10,123.50 408.40,115.20 410.60,105.70 412.10,114.50 412.80,125.30 413.80,137.90 415.00,150.50 416.60,160.60 418.20,166.30 418.20,167.20" fill="#6db64d" stroke="none" stroke-width="1" />
<polygon points="391.50,167.20 391.50,166.30 395.00,162.50 397.00,160.60 400.20,153.00 402.70,144.20 405.00,132.80 407.10,123.50 408.40,115.20 410.60,105.70 412.10,114.50 412.80,125.30 413.80,137.90 415.00,150.50 416.60,160.60 418.20,166.30 418.20,167.20" fill="#749236" stroke="none" stroke-width="1" clip-path="url(#hc376102)"/>
<polyline points="377.50,167.20 377.50,165.60 381.00,165.20 384.00,165.80 387.00,165.00 390.00,165.60 392.60,165.00 395.00,162.50 397.00,160.60 400.20,153.00 402.70,144.20 405.00,132.80 407.10,122.70 409.00,117.00 410.90,117.70 412.10,125.30 413.40,137.90 414.70,150.50 416.60,160.60 418.50,166.30 418.50,167.20" fill="none" stroke="#9b1030" stroke-width="1.3" stroke-linejoin="round"/>
<line x1="376.80" y1="167.20" x2="441.20" y2="167.20" stroke="#9b1030" stroke-width="1.0" />
<line x1="374.20" y1="106.40" x2="376.80" y2="106.40" stroke="#222" stroke-width="1.0" />
<line x1="374.20" y1="121.80" x2="376.80" y2="121.80" stroke="#222" stroke-width="1.0" />
<line x1="374.20" y1="137.20" x2="376.80" y2="137.20" stroke="#222" stroke-width="1.0" />
<line x1="374.20" y1="152.60" x2="376.80" y2="152.60" stroke="#222" stroke-width="1.0" />
<line x1="378.80" y1="168.20" x2="378.80" y2="169.20" stroke="#333" stroke-width="0.7" />
<line x1="381.43" y1="168.20" x2="381.43" y2="169.20" stroke="#333" stroke-width="0.7" />
<line x1="384.05" y1="168.20" x2="384.05" y2="169.20" stroke="#333" stroke-width="0.7" />
<line x1="386.68" y1="168.20" x2="386.68" y2="170.00" stroke="#333" stroke-width="0.7" />
<line x1="389.30" y1="168.20" x2="389.30" y2="169.20" stroke="#333" stroke-width="0.7" />
<line x1="391.93" y1="168.20" x2="391.93" y2="169.20" stroke="#333" stroke-width="0.7" />
<line x1="394.56" y1="168.20" x2="394.56" y2="169.20" stroke="#333" stroke-width="0.7" />
<line x1="397.18" y1="168.20" x2="397.18" y2="169.20" stroke="#333" stroke-width="0.7" />
<line x1="399.81" y1="168.20" x2="399.81" y2="169.20" stroke="#333" stroke-width="0.7" />
<line x1="402.43" y1="168.20" x2="402.43" y2="170.00" stroke="#333" stroke-width="0.7" />
<line x1="405.06" y1="168.20" x2="405.06" y2="169.20" stroke="#333" stroke-width="0.7" />
<line x1="407.69" y1="168.20" x2="407.69" y2="169.20" stroke="#333" stroke-width="0.7" />
<line x1="410.31" y1="168.20" x2="410.31" y2="169.20" stroke="#333" stroke-width="0.7" />
<line x1="412.94" y1="168.20" x2="412.94" y2="169.20" stroke="#333" stroke-width="0.7" />
<line x1="415.57" y1="168.20" x2="415.57" y2="169.20" stroke="#333" stroke-width="0.7" />
<line x1="418.19" y1="168.20" x2="418.19" y2="170.00" stroke="#333" stroke-width="0.7" />
<line x1="420.82" y1="168.20" x2="420.82" y2="169.20" stroke="#333" stroke-width="0.7" />
<line x1="423.44" y1="168.20" x2="423.44" y2="169.20" stroke="#333" stroke-width="0.7" />
<line x1="426.07" y1="168.20" x2="426.07" y2="169.20" stroke="#333" stroke-width="0.7" />
<line x1="428.70" y1="168.20" x2="428.70" y2="169.20" stroke="#333" stroke-width="0.7" />
<line x1="431.32" y1="168.20" x2="431.32" y2="169.20" stroke="#333" stroke-width="0.7" />
<line x1="433.95" y1="168.20" x2="433.95" y2="170.00" stroke="#333" stroke-width="0.7" />
<line x1="436.57" y1="168.20" x2="436.57" y2="169.20" stroke="#333" stroke-width="0.7" />
<line x1="439.20" y1="168.20" x2="439.20" y2="169.20" stroke="#333" stroke-width="0.7" />
<text x="433.80" y="116.20" font-size="8.3" stroke="#84a872" stroke-width="0.08" text-anchor="end" fill="#84a872" >8.4</text>
<text x="433.30" y="125.60" font-size="8.3" stroke="#6a3656" stroke-width="0.08" text-anchor="end" fill="#6a3656" >7.1</text>
<line x1="379.30" y1="175.70" x2="431.90" y2="175.70" stroke="#111" stroke-width="1.8" />
<polygon points="437.90,175.70 430.40,172.60 430.40,178.80" fill="#111" stroke="none" stroke-width="1" />
<text x="381.50" y="185.40" font-size="9.2" stroke="#231f20" stroke-width="0.3" textLength="23.7" lengthAdjust="spacingAndGlyphs" >NKp46</text>
<rect x="448.2" y="102.6" width="64.19999999999999" height="65.4" fill="#fff" stroke="#3a3a3a" stroke-width="1.2"/>
<clipPath id="hc448102"><polygon points="448.60,167.00 448.60,159.30 450.00,153.00 451.00,148.00 453.00,142.00 454.80,136.60 455.70,139.50 456.70,140.40 457.60,135.50 458.60,132.80 460.00,130.50 461.20,127.80 462.10,125.50 463.00,122.70 464.00,121.50 464.90,118.90 466.20,117.50 467.50,115.20 468.50,116.50 469.30,113.00 470.00,111.40 471.30,108.80 472.00,107.60 472.80,110.50 473.60,114.50 474.50,116.40 475.50,114.00 476.50,113.50 477.70,112.60 478.80,116.00 479.80,120.50 480.80,125.30 481.80,131.50 482.70,137.90 484.00,144.50 485.30,150.50 486.50,155.50 487.80,160.60 489.50,164.50 491.60,166.30 491.60,167.00"/></clipPath>
<polygon points="448.60,167.00 448.60,159.30 450.00,153.00 451.00,148.00 453.00,142.00 454.80,136.60 455.70,139.50 456.70,140.40 457.60,135.50 458.60,132.80 460.00,130.50 461.20,127.80 462.10,125.50 463.00,122.70 464.00,121.50 464.90,118.90 466.20,117.50 467.50,115.20 468.50,116.50 469.30,113.00 470.00,111.40 471.30,108.80 472.00,107.60 472.80,110.50 473.60,114.50 474.50,116.40 475.50,114.00 476.50,113.50 477.70,112.60 478.80,116.00 479.80,120.50 480.80,125.30 481.80,131.50 482.70,137.90 484.00,144.50 485.30,150.50 486.50,155.50 487.80,160.60 489.50,164.50 491.60,166.30 491.60,167.00" fill="#f6c9cc" stroke="none" stroke-width="1" />
<polygon points="448.60,167.00 448.60,153.00 450.50,144.00 452.30,137.90 454.00,131.00 455.50,125.30 457.40,118.90 459.30,117.70 461.80,118.90 463.70,121.50 466.20,121.50 468.10,122.10 470.70,125.30 473.00,131.00 475.20,137.90 477.70,144.00 480.20,150.50 482.20,156.00 484.00,160.60 485.80,164.00 487.50,166.30 487.50,167.00" fill="#6db64d" stroke="none" stroke-width="1" />
<polygon points="448.60,167.00 448.60,153.00 450.50,144.00 452.30,137.90 454.00,131.00 455.50,125.30 457.40,118.90 459.30,117.70 461.80,118.90 463.70,121.50 466.20,121.50 468.10,122.10 470.70,125.30 473.00,131.00 475.20,137.90 477.70,144.00 480.20,150.50 482.20,156.00 484.00,160.60 485.80,164.00 487.50,166.30 487.50,167.00" fill="#749236" stroke="none" stroke-width="1" clip-path="url(#hc448102)"/>
<polyline points="448.60,167.00 448.60,159.30 450.00,153.00 451.00,148.00 453.00,142.00 454.80,136.60 455.70,139.50 456.70,140.40 457.60,135.50 458.60,132.80 460.00,130.50 461.20,127.80 462.10,125.50 463.00,122.70 464.00,121.50 464.90,118.90 466.20,117.50 467.50,115.20 468.50,116.50 469.30,113.00 470.00,111.40 471.30,108.80 472.00,107.60 472.80,110.50 473.60,114.50 474.50,116.40 475.50,114.00 476.50,113.50 477.70,112.60 478.80,116.00 479.80,120.50 480.80,125.30 481.80,131.50 482.70,137.90 484.00,144.50 485.30,150.50 486.50,155.50 487.80,160.60 489.50,164.50 491.60,166.30 491.60,167.00" fill="none" stroke="#9b1030" stroke-width="1.3" stroke-linejoin="round"/>
<line x1="448.20" y1="167.00" x2="512.40" y2="167.00" stroke="#9b1030" stroke-width="1.0" />
<line x1="445.60" y1="106.60" x2="448.20" y2="106.60" stroke="#222" stroke-width="1.0" />
<line x1="445.60" y1="122.00" x2="448.20" y2="122.00" stroke="#222" stroke-width="1.0" />
<line x1="445.60" y1="137.40" x2="448.20" y2="137.40" stroke="#222" stroke-width="1.0" />
<line x1="445.60" y1="152.80" x2="448.20" y2="152.80" stroke="#222" stroke-width="1.0" />
<line x1="446.60" y1="105.60" x2="448.20" y2="105.60" stroke="#333" stroke-width="0.7" />
<line x1="446.60" y1="108.39" x2="448.20" y2="108.39" stroke="#333" stroke-width="0.7" />
<line x1="446.60" y1="111.18" x2="448.20" y2="111.18" stroke="#333" stroke-width="0.7" />
<line x1="446.60" y1="113.97" x2="448.20" y2="113.97" stroke="#333" stroke-width="0.7" />
<line x1="446.60" y1="116.76" x2="448.20" y2="116.76" stroke="#333" stroke-width="0.7" />
<line x1="446.60" y1="119.55" x2="448.20" y2="119.55" stroke="#333" stroke-width="0.7" />
<line x1="446.60" y1="122.35" x2="448.20" y2="122.35" stroke="#333" stroke-width="0.7" />
<line x1="446.60" y1="125.14" x2="448.20" y2="125.14" stroke="#333" stroke-width="0.7" />
<line x1="446.60" y1="127.93" x2="448.20" y2="127.93" stroke="#333" stroke-width="0.7" />
<line x1="446.60" y1="130.72" x2="448.20" y2="130.72" stroke="#333" stroke-width="0.7" />
<line x1="446.60" y1="133.51" x2="448.20" y2="133.51" stroke="#333" stroke-width="0.7" />
<line x1="446.60" y1="136.30" x2="448.20" y2="136.30" stroke="#333" stroke-width="0.7" />
<line x1="446.60" y1="139.09" x2="448.20" y2="139.09" stroke="#333" stroke-width="0.7" />
<line x1="446.60" y1="141.88" x2="448.20" y2="141.88" stroke="#333" stroke-width="0.7" />
<line x1="446.60" y1="144.67" x2="448.20" y2="144.67" stroke="#333" stroke-width="0.7" />
<line x1="446.60" y1="147.46" x2="448.20" y2="147.46" stroke="#333" stroke-width="0.7" />
<line x1="446.60" y1="150.25" x2="448.20" y2="150.25" stroke="#333" stroke-width="0.7" />
<line x1="446.60" y1="153.05" x2="448.20" y2="153.05" stroke="#333" stroke-width="0.7" />
<line x1="446.60" y1="155.84" x2="448.20" y2="155.84" stroke="#333" stroke-width="0.7" />
<line x1="446.60" y1="158.63" x2="448.20" y2="158.63" stroke="#333" stroke-width="0.7" />
<line x1="446.60" y1="161.42" x2="448.20" y2="161.42" stroke="#333" stroke-width="0.7" />
<line x1="446.60" y1="164.21" x2="448.20" y2="164.21" stroke="#333" stroke-width="0.7" />
<line x1="450.20" y1="168.00" x2="450.20" y2="169.00" stroke="#333" stroke-width="0.7" />
<line x1="452.82" y1="168.00" x2="452.82" y2="169.00" stroke="#333" stroke-width="0.7" />
<line x1="455.43" y1="168.00" x2="455.43" y2="169.00" stroke="#333" stroke-width="0.7" />
<line x1="458.05" y1="168.00" x2="458.05" y2="169.80" stroke="#333" stroke-width="0.7" />
<line x1="460.67" y1="168.00" x2="460.67" y2="169.00" stroke="#333" stroke-width="0.7" />
<line x1="463.29" y1="168.00" x2="463.29" y2="169.00" stroke="#333" stroke-width="0.7" />
<line x1="465.90" y1="168.00" x2="465.90" y2="169.00" stroke="#333" stroke-width="0.7" />
<line x1="468.52" y1="168.00" x2="468.52" y2="169.00" stroke="#333" stroke-width="0.7" />
<line x1="471.14" y1="168.00" x2="471.14" y2="169.00" stroke="#333" stroke-width="0.7" />
<line x1="473.76" y1="168.00" x2="473.76" y2="169.80" stroke="#333" stroke-width="0.7" />
<line x1="476.37" y1="168.00" x2="476.37" y2="169.00" stroke="#333" stroke-width="0.7" />
<line x1="478.99" y1="168.00" x2="478.99" y2="169.00" stroke="#333" stroke-width="0.7" />
<line x1="481.61" y1="168.00" x2="481.61" y2="169.00" stroke="#333" stroke-width="0.7" />
<line x1="484.23" y1="168.00" x2="484.23" y2="169.00" stroke="#333" stroke-width="0.7" />
<line x1="486.84" y1="168.00" x2="486.84" y2="169.00" stroke="#333" stroke-width="0.7" />
<line x1="489.46" y1="168.00" x2="489.46" y2="169.80" stroke="#333" stroke-width="0.7" />
<line x1="492.08" y1="168.00" x2="492.08" y2="169.00" stroke="#333" stroke-width="0.7" />
<line x1="494.70" y1="168.00" x2="494.70" y2="169.00" stroke="#333" stroke-width="0.7" />
<line x1="497.31" y1="168.00" x2="497.31" y2="169.00" stroke="#333" stroke-width="0.7" />
<line x1="499.93" y1="168.00" x2="499.93" y2="169.00" stroke="#333" stroke-width="0.7" />
<line x1="502.55" y1="168.00" x2="502.55" y2="169.00" stroke="#333" stroke-width="0.7" />
<line x1="505.17" y1="168.00" x2="505.17" y2="169.80" stroke="#333" stroke-width="0.7" />
<line x1="507.78" y1="168.00" x2="507.78" y2="169.00" stroke="#333" stroke-width="0.7" />
<line x1="510.40" y1="168.00" x2="510.40" y2="169.00" stroke="#333" stroke-width="0.7" />
<text x="506.70" y="116.40" font-size="8.3" stroke="#84a872" stroke-width="0.08" text-anchor="end" fill="#84a872" >0.5</text>
<text x="506.70" y="125.80" font-size="8.3" stroke="#6a3656" stroke-width="0.08" text-anchor="end" fill="#6a3656" >1.1</text>
<line x1="450.40" y1="175.50" x2="501.30" y2="175.50" stroke="#111" stroke-width="1.8" />
<polygon points="507.30,175.50 499.80,172.40 499.80,178.60" fill="#111" stroke="none" stroke-width="1" />
<text x="452.00" y="185.40" font-size="9.2" stroke="#231f20" stroke-width="0.3" textLength="23.9" lengthAdjust="spacingAndGlyphs" >NKp44</text>
<line x1="51.70" y1="243.50" x2="51.70" y2="352.60" stroke="#231f20" stroke-width="1.4" />
<line x1="51.00" y1="351.90" x2="105.70" y2="351.90" stroke="#231f20" stroke-width="1.4" />
<line x1="48.30" y1="351.90" x2="51.70" y2="351.90" stroke="#231f20" stroke-width="1.1" />
<text x="45.10" y="354.90" font-size="8.6" stroke="#231f20" stroke-width="0.08" text-anchor="end" >0.00</text>
<line x1="48.30" y1="325.50" x2="51.70" y2="325.50" stroke="#231f20" stroke-width="1.1" />
<text x="45.10" y="328.50" font-size="8.6" stroke="#231f20" stroke-width="0.08" text-anchor="end" >0.01</text>
<line x1="48.30" y1="299.10" x2="51.70" y2="299.10" stroke="#231f20" stroke-width="1.1" />
<text x="45.10" y="302.10" font-size="8.6" stroke="#231f20" stroke-width="0.08" text-anchor="end" >0.02</text>
<line x1="48.30" y1="272.70" x2="51.70" y2="272.70" stroke="#231f20" stroke-width="1.1" />
<text x="45.10" y="275.70" font-size="8.6" stroke="#231f20" stroke-width="0.08" text-anchor="end" >0.03</text>
<line x1="48.30" y1="246.30" x2="51.70" y2="246.30" stroke="#231f20" stroke-width="1.1" />
<text x="45.10" y="249.30" font-size="8.6" stroke="#231f20" stroke-width="0.08" text-anchor="end" >0.04</text>
<line x1="65.30" y1="351.90" x2="65.30" y2="355.20" stroke="#231f20" stroke-width="1.1" />
<line x1="92.10" y1="351.90" x2="92.10" y2="355.20" stroke="#231f20" stroke-width="1.1" />
<text x="69.80" y="363.20" font-size="9.8" stroke="#231f20" stroke-width="0.08" text-anchor="end" transform="rotate(-45 69.80 363.20)" textLength="10.6" lengthAdjust="spacingAndGlyphs" >ND</text>
<text x="96.60" y="363.20" font-size="9.8" stroke="#231f20" stroke-width="0.08" text-anchor="end" transform="rotate(-45 96.60 363.20)" textLength="16.0" lengthAdjust="spacingAndGlyphs" >DAC</text>
<text x="69.00" y="237.50" font-size="9.4" stroke="#231f20" stroke-width="0.08" textLength="19.3" lengthAdjust="spacingAndGlyphs" >IFN&#947;</text>
<circle cx="57.30" cy="296.30" r="3.0" fill="#6aab45" stroke="#5d9a3c" stroke-width="0.6"/>
<circle cx="65.10" cy="296.30" r="3.0" fill="#6aab45" stroke="#5d9a3c" stroke-width="0.6"/>
<circle cx="65.40" cy="305.20" r="3.0" fill="#6aab45" stroke="#5d9a3c" stroke-width="0.6"/>
<circle cx="69.20" cy="307.30" r="3.0" fill="#6aab45" stroke="#5d9a3c" stroke-width="0.6"/>
<circle cx="61.00" cy="315.00" r="3.0" fill="#6aab45" stroke="#5d9a3c" stroke-width="0.6"/>
<polygon points="92.50,269.78 95.90,275.98 89.10,275.98" fill="#a6002a" stroke="#8a0f27" stroke-width="0.5" />
<polygon points="83.80,295.78 87.20,301.98 80.40,301.98" fill="#a6002a" stroke="#8a0f27" stroke-width="0.5" />
<polygon points="87.40,298.28 90.80,304.48 84.00,304.48" fill="#a6002a" stroke="#8a0f27" stroke-width="0.5" />
<polygon points="92.00,293.28 95.40,299.48 88.60,299.48" fill="#a6002a" stroke="#8a0f27" stroke-width="0.5" />
<polygon points="95.90,295.78 99.30,301.98 92.50,301.98" fill="#a6002a" stroke="#8a0f27" stroke-width="0.5" />
<line x1="56.20" y1="303.60" x2="74.70" y2="303.60" stroke="#111" stroke-width="1.4" />
<line x1="83.30" y1="293.80" x2="101.70" y2="293.80" stroke="#111" stroke-width="1.4" />
<line x1="130.00" y1="243.20" x2="130.00" y2="352.60" stroke="#231f20" stroke-width="1.4" />
<line x1="129.30" y1="351.90" x2="184.00" y2="351.90" stroke="#231f20" stroke-width="1.4" />
<line x1="126.60" y1="351.90" x2="130.00" y2="351.90" stroke="#231f20" stroke-width="1.1" />
<text x="123.40" y="354.90" font-size="8.6" stroke="#231f20" stroke-width="0.08" text-anchor="end" >0.0</text>
<line x1="126.60" y1="316.60" x2="130.00" y2="316.60" stroke="#231f20" stroke-width="1.1" />
<text x="123.40" y="319.60" font-size="8.6" stroke="#231f20" stroke-width="0.08" text-anchor="end" >0.5</text>
<line x1="126.60" y1="281.30" x2="130.00" y2="281.30" stroke="#231f20" stroke-width="1.1" />
<text x="123.40" y="284.30" font-size="8.6" stroke="#231f20" stroke-width="0.08" text-anchor="end" >1.0</text>
<line x1="126.60" y1="246.00" x2="130.00" y2="246.00" stroke="#231f20" stroke-width="1.1" />
<text x="123.40" y="249.00" font-size="8.6" stroke="#231f20" stroke-width="0.08" text-anchor="end" >1.5</text>
<line x1="143.60" y1="351.90" x2="143.60" y2="355.20" stroke="#231f20" stroke-width="1.1" />
<line x1="170.40" y1="351.90" x2="170.40" y2="355.20" stroke="#231f20" stroke-width="1.1" />
<text x="148.10" y="363.20" font-size="9.8" stroke="#231f20" stroke-width="0.08" text-anchor="end" transform="rotate(-45 148.10 363.20)" textLength="10.6" lengthAdjust="spacingAndGlyphs" >ND</text>
<text x="174.90" y="363.20" font-size="9.8" stroke="#231f20" stroke-width="0.08" text-anchor="end" transform="rotate(-45 174.90 363.20)" textLength="16.0" lengthAdjust="spacingAndGlyphs" >DAC</text>
<text x="139.30" y="237.20" font-size="9.4" stroke="#231f20" stroke-width="0.08" textLength="35.2" lengthAdjust="spacingAndGlyphs" >Perforin</text>
<circle cx="139.10" cy="298.90" r="3.0" fill="#6aab45" stroke="#5d9a3c" stroke-width="0.6"/>
<circle cx="146.90" cy="300.60" r="3.0" fill="#6aab45" stroke="#5d9a3c" stroke-width="0.6"/>
<circle cx="138.70" cy="307.10" r="3.0" fill="#6aab45" stroke="#5d9a3c" stroke-width="0.6"/>
<circle cx="143.80" cy="310.40" r="3.0" fill="#6aab45" stroke="#5d9a3c" stroke-width="0.6"/>
<circle cx="146.60" cy="306.40" r="3.0" fill="#6aab45" stroke="#5d9a3c" stroke-width="0.6"/>
<polygon points="174.00,265.88 177.40,272.08 170.60,272.08" fill="#a6002a" stroke="#8a0f27" stroke-width="0.5" />
<polygon points="166.10,272.28 169.50,278.48 162.70,278.48" fill="#a6002a" stroke="#8a0f27" stroke-width="0.5" />
<polygon points="170.50,285.28 173.90,291.48 167.10,291.48" fill="#a6002a" stroke="#8a0f27" stroke-width="0.5" />
<polygon points="174.00,288.98 177.40,295.18 170.60,295.18" fill="#a6002a" stroke="#8a0f27" stroke-width="0.5" />
<polygon points="166.10,296.18 169.50,302.38 162.70,302.38" fill="#a6002a" stroke="#8a0f27" stroke-width="0.5" />
<line x1="134.40" y1="304.60" x2="152.70" y2="304.60" stroke="#111" stroke-width="1.4" />
<line x1="161.00" y1="284.70" x2="179.80" y2="284.70" stroke="#111" stroke-width="1.4" />
<text x="143.00" y="255.20" font-size="6.9" stroke="#231f20" stroke-width="0.08" textLength="24.9" lengthAdjust="spacingAndGlyphs"><tspan font-style="italic">p</tspan>=0.01</text>
<polyline points="143.80,287.60 143.80,259.50 167.30,259.50" fill="none" stroke="#333" stroke-width="1.0" />
<line x1="213.00" y1="242.75" x2="213.00" y2="352.60" stroke="#231f20" stroke-width="1.4" />
<line x1="212.30" y1="351.90" x2="267.00" y2="351.90" stroke="#231f20" stroke-width="1.4" />
<line x1="209.60" y1="351.90" x2="213.00" y2="351.90" stroke="#231f20" stroke-width="1.1" />
<text x="206.40" y="354.90" font-size="8.6" stroke="#231f20" stroke-width="0.08" text-anchor="end" >0.00</text>
<line x1="209.60" y1="330.63" x2="213.00" y2="330.63" stroke="#231f20" stroke-width="1.1" />
<text x="206.40" y="333.63" font-size="8.6" stroke="#231f20" stroke-width="0.08" text-anchor="end" >0.02</text>
<line x1="209.60" y1="309.36" x2="213.00" y2="309.36" stroke="#231f20" stroke-width="1.1" />
<text x="206.40" y="312.36" font-size="8.6" stroke="#231f20" stroke-width="0.08" text-anchor="end" >0.04</text>
<line x1="209.60" y1="288.09" x2="213.00" y2="288.09" stroke="#231f20" stroke-width="1.1" />
<text x="206.40" y="291.09" font-size="8.6" stroke="#231f20" stroke-width="0.08" text-anchor="end" >0.06</text>
<line x1="209.60" y1="266.82" x2="213.00" y2="266.82" stroke="#231f20" stroke-width="1.1" />
<text x="206.40" y="269.82" font-size="8.6" stroke="#231f20" stroke-width="0.08" text-anchor="end" >0.08</text>
<line x1="209.60" y1="245.55" x2="213.00" y2="245.55" stroke="#231f20" stroke-width="1.1" />
<text x="206.40" y="248.55" font-size="8.6" stroke="#231f20" stroke-width="0.08" text-anchor="end" >0.10</text>
<line x1="226.60" y1="351.90" x2="226.60" y2="355.20" stroke="#231f20" stroke-width="1.1" />
<line x1="253.40" y1="351.90" x2="253.40" y2="355.20" stroke="#231f20" stroke-width="1.1" />
<text x="231.10" y="363.20" font-size="9.8" stroke="#231f20" stroke-width="0.08" text-anchor="end" transform="rotate(-45 231.10 363.20)" textLength="10.6" lengthAdjust="spacingAndGlyphs" >ND</text>
<text x="257.90" y="363.20" font-size="9.8" stroke="#231f20" stroke-width="0.08" text-anchor="end" transform="rotate(-45 257.90 363.20)" textLength="16.0" lengthAdjust="spacingAndGlyphs" >DAC</text>
<text x="227.40" y="236.75" font-size="9.4" stroke="#231f20" stroke-width="0.08" textLength="25.8" lengthAdjust="spacingAndGlyphs" >TRAIL</text>
<circle cx="223.00" cy="320.80" r="3.0" fill="#6aab45" stroke="#5d9a3c" stroke-width="0.6"/>
<circle cx="226.50" cy="319.50" r="3.0" fill="#6aab45" stroke="#5d9a3c" stroke-width="0.6"/>
<circle cx="229.50" cy="320.80" r="3.0" fill="#6aab45" stroke="#5d9a3c" stroke-width="0.6"/>
<circle cx="224.80" cy="322.00" r="3.0" fill="#6aab45" stroke="#5d9a3c" stroke-width="0.6"/>
<circle cx="228.00" cy="322.30" r="3.0" fill="#6aab45" stroke="#5d9a3c" stroke-width="0.6"/>
<polygon points="253.10,268.78 256.50,274.98 249.70,274.98" fill="#a6002a" stroke="#8a0f27" stroke-width="0.5" />
<polygon points="253.10,290.78 256.50,296.98 249.70,296.98" fill="#a6002a" stroke="#8a0f27" stroke-width="0.5" />
<polygon points="252.60,302.98 256.00,309.18 249.20,309.18" fill="#a6002a" stroke="#8a0f27" stroke-width="0.5" />
<polygon points="256.80,308.68 260.20,314.88 253.40,314.88" fill="#a6002a" stroke="#8a0f27" stroke-width="0.5" />
<polygon points="249.00,313.98 252.40,320.18 245.60,320.18" fill="#a6002a" stroke="#8a0f27" stroke-width="0.5" />
<line x1="217.30" y1="320.30" x2="235.70" y2="320.30" stroke="#111" stroke-width="1.4" />
<line x1="244.10" y1="300.20" x2="262.80" y2="300.20" stroke="#111" stroke-width="1.4" />
<text x="225.90" y="255.80" font-size="6.9" stroke="#231f20" stroke-width="0.08" textLength="24.8" lengthAdjust="spacingAndGlyphs"><tspan font-style="italic">p</tspan>=0.03</text>
<polyline points="227.10,287.50 227.10,259.50 249.80,259.50" fill="none" stroke="#333" stroke-width="1.0" />
<line x1="51.30" y1="397.92" x2="51.30" y2="508.10" stroke="#231f20" stroke-width="1.4" />
<line x1="50.60" y1="507.40" x2="105.30" y2="507.40" stroke="#231f20" stroke-width="1.4" />
<line x1="47.90" y1="507.40" x2="51.30" y2="507.40" stroke="#231f20" stroke-width="1.1" />
<text x="44.70" y="510.40" font-size="8.6" stroke="#231f20" stroke-width="0.08" text-anchor="end" >0.00</text>
<line x1="47.90" y1="480.73" x2="51.30" y2="480.73" stroke="#231f20" stroke-width="1.1" />
<text x="44.70" y="483.73" font-size="8.6" stroke="#231f20" stroke-width="0.08" text-anchor="end" >0.02</text>
<line x1="47.90" y1="454.06" x2="51.30" y2="454.06" stroke="#231f20" stroke-width="1.1" />
<text x="44.70" y="457.06" font-size="8.6" stroke="#231f20" stroke-width="0.08" text-anchor="end" >0.04</text>
<line x1="47.90" y1="427.39" x2="51.30" y2="427.39" stroke="#231f20" stroke-width="1.1" />
<text x="44.70" y="430.39" font-size="8.6" stroke="#231f20" stroke-width="0.08" text-anchor="end" >0.06</text>
<line x1="47.90" y1="400.72" x2="51.30" y2="400.72" stroke="#231f20" stroke-width="1.1" />
<text x="44.70" y="403.72" font-size="8.6" stroke="#231f20" stroke-width="0.08" text-anchor="end" >0.08</text>
<line x1="64.90" y1="507.40" x2="64.90" y2="510.70" stroke="#231f20" stroke-width="1.1" />
<line x1="91.70" y1="507.40" x2="91.70" y2="510.70" stroke="#231f20" stroke-width="1.1" />
<text x="69.40" y="518.70" font-size="9.8" stroke="#231f20" stroke-width="0.08" text-anchor="end" transform="rotate(-45 69.40 518.70)" textLength="10.6" lengthAdjust="spacingAndGlyphs" >ND</text>
<text x="96.20" y="518.70" font-size="9.8" stroke="#231f20" stroke-width="0.08" text-anchor="end" transform="rotate(-45 96.20 518.70)" textLength="16.0" lengthAdjust="spacingAndGlyphs" >DAC</text>
<text x="66.20" y="391.92" font-size="9.4" stroke="#231f20" stroke-width="0.08" textLength="25.3" lengthAdjust="spacingAndGlyphs" >TNF&#945;</text>
<circle cx="65.80" cy="473.30" r="3.0" fill="#6aab45" stroke="#5d9a3c" stroke-width="0.6"/>
<circle cx="60.70" cy="488.10" r="3.0" fill="#6aab45" stroke="#5d9a3c" stroke-width="0.6"/>
<circle cx="65.40" cy="486.20" r="3.0" fill="#6aab45" stroke="#5d9a3c" stroke-width="0.6"/>
<circle cx="65.80" cy="495.60" r="3.0" fill="#6aab45" stroke="#5d9a3c" stroke-width="0.6"/>
<circle cx="69.30" cy="496.10" r="3.0" fill="#6aab45" stroke="#5d9a3c" stroke-width="0.6"/>
<polygon points="92.10,424.98 95.50,431.18 88.70,431.18" fill="#a6002a" stroke="#8a0f27" stroke-width="0.5" />
<polygon points="88.10,459.08 91.50,465.28 84.70,465.28" fill="#a6002a" stroke="#8a0f27" stroke-width="0.5" />
<polygon points="95.60,462.58 99.00,468.78 92.20,468.78" fill="#a6002a" stroke="#8a0f27" stroke-width="0.5" />
<polygon points="95.60,468.48 99.00,474.68 92.20,474.68" fill="#a6002a" stroke="#8a0f27" stroke-width="0.5" />
<polygon points="88.10,473.58 91.50,479.78 84.70,479.78" fill="#a6002a" stroke="#8a0f27" stroke-width="0.5" />
<line x1="56.00" y1="487.40" x2="74.70" y2="487.40" stroke="#111" stroke-width="1.4" />
<line x1="82.70" y1="460.40" x2="101.50" y2="460.40" stroke="#111" stroke-width="1.4" />
<text x="64.60" y="411.00" font-size="6.9" stroke="#231f20" stroke-width="0.08" textLength="25.2" lengthAdjust="spacingAndGlyphs"><tspan font-style="italic">p</tspan>=0.02</text>
<polyline points="65.80,442.80 65.80,414.60 88.80,414.60" fill="none" stroke="#333" stroke-width="1.0" />
<line x1="128.60" y1="398.20" x2="128.60" y2="508.10" stroke="#231f20" stroke-width="1.4" />
<line x1="127.90" y1="507.40" x2="182.60" y2="507.40" stroke="#231f20" stroke-width="1.4" />
<line x1="125.20" y1="507.40" x2="128.60" y2="507.40" stroke="#231f20" stroke-width="1.1" />
<text x="122.00" y="510.40" font-size="8.6" stroke="#231f20" stroke-width="0.08" text-anchor="end" >0.0</text>
<line x1="125.20" y1="480.80" x2="128.60" y2="480.80" stroke="#231f20" stroke-width="1.1" />
<text x="122.00" y="483.80" font-size="8.6" stroke="#231f20" stroke-width="0.08" text-anchor="end" >0.5</text>
<line x1="125.20" y1="454.20" x2="128.60" y2="454.20" stroke="#231f20" stroke-width="1.1" />
<text x="122.00" y="457.20" font-size="8.6" stroke="#231f20" stroke-width="0.08" text-anchor="end" >1.0</text>
<line x1="125.20" y1="427.60" x2="128.60" y2="427.60" stroke="#231f20" stroke-width="1.1" />
<text x="122.00" y="430.60" font-size="8.6" stroke="#231f20" stroke-width="0.08" text-anchor="end" >1.5</text>
<line x1="125.20" y1="401.00" x2="128.60" y2="401.00" stroke="#231f20" stroke-width="1.1" />
<text x="122.00" y="404.00" font-size="8.6" stroke="#231f20" stroke-width="0.08" text-anchor="end" >2.0</text>
<line x1="142.20" y1="507.40" x2="142.20" y2="510.70" stroke="#231f20" stroke-width="1.1" />
<line x1="169.00" y1="507.40" x2="169.00" y2="510.70" stroke="#231f20" stroke-width="1.1" />
<text x="146.70" y="518.70" font-size="9.8" stroke="#231f20" stroke-width="0.08" text-anchor="end" transform="rotate(-45 146.70 518.70)" textLength="10.6" lengthAdjust="spacingAndGlyphs" >ND</text>
<text x="173.50" y="518.70" font-size="9.8" stroke="#231f20" stroke-width="0.08" text-anchor="end" transform="rotate(-45 173.50 518.70)" textLength="16.0" lengthAdjust="spacingAndGlyphs" >DAC</text>
<text x="131.20" y="392.20" font-size="9.4" stroke="#231f20" stroke-width="0.08" textLength="51.5" lengthAdjust="spacingAndGlyphs" >GranzymeB</text>
<circle cx="143.40" cy="447.80" r="3.0" fill="#6aab45" stroke="#5d9a3c" stroke-width="0.6"/>
<circle cx="136.60" cy="462.70" r="3.0" fill="#6aab45" stroke="#5d9a3c" stroke-width="0.6"/>
<circle cx="142.00" cy="461.30" r="3.0" fill="#6aab45" stroke="#5d9a3c" stroke-width="0.6"/>
<circle cx="147.40" cy="462.70" r="3.0" fill="#6aab45" stroke="#5d9a3c" stroke-width="0.6"/>
<circle cx="139.30" cy="466.70" r="3.0" fill="#6aab45" stroke="#5d9a3c" stroke-width="0.6"/>
<polygon points="170.50,417.48 173.90,423.68 167.10,423.68" fill="#a6002a" stroke="#8a0f27" stroke-width="0.5" />
<polygon points="170.50,436.48 173.90,442.68 167.10,442.68" fill="#a6002a" stroke="#8a0f27" stroke-width="0.5" />
<polygon points="165.60,457.08 169.00,463.28 162.20,463.28" fill="#a6002a" stroke="#8a0f27" stroke-width="0.5" />
<polygon points="169.90,461.68 173.30,467.88 166.50,467.88" fill="#a6002a" stroke="#8a0f27" stroke-width="0.5" />
<polygon points="174.50,461.68 177.90,467.88 171.10,467.88" fill="#a6002a" stroke="#8a0f27" stroke-width="0.5" />
<line x1="135.20" y1="460.50" x2="152.80" y2="460.50" stroke="#111" stroke-width="1.4" />
<line x1="161.00" y1="449.60" x2="180.00" y2="449.60" stroke="#111" stroke-width="1.4" />
<line x1="213.10" y1="397.50" x2="213.10" y2="508.10" stroke="#231f20" stroke-width="1.4" />
<line x1="212.40" y1="507.40" x2="267.10" y2="507.40" stroke="#231f20" stroke-width="1.4" />
<line x1="209.70" y1="501.10" x2="213.10" y2="501.10" stroke="#231f20" stroke-width="1.1" />
<text x="206.50" y="504.10" font-size="8.6" stroke="#231f20" stroke-width="0.08" text-anchor="end" >0.02</text>
<line x1="209.70" y1="475.90" x2="213.10" y2="475.90" stroke="#231f20" stroke-width="1.1" />
<text x="206.50" y="478.90" font-size="8.6" stroke="#231f20" stroke-width="0.08" text-anchor="end" >0.04</text>
<line x1="209.70" y1="450.70" x2="213.10" y2="450.70" stroke="#231f20" stroke-width="1.1" />
<text x="206.50" y="453.70" font-size="8.6" stroke="#231f20" stroke-width="0.08" text-anchor="end" >0.06</text>
<line x1="209.70" y1="425.50" x2="213.10" y2="425.50" stroke="#231f20" stroke-width="1.1" />
<text x="206.50" y="428.50" font-size="8.6" stroke="#231f20" stroke-width="0.08" text-anchor="end" >0.08</text>
<line x1="209.70" y1="400.30" x2="213.10" y2="400.30" stroke="#231f20" stroke-width="1.1" />
<text x="206.50" y="403.30" font-size="8.6" stroke="#231f20" stroke-width="0.08" text-anchor="end" >0.10</text>
<line x1="226.70" y1="507.40" x2="226.70" y2="510.70" stroke="#231f20" stroke-width="1.1" />
<line x1="253.50" y1="507.40" x2="253.50" y2="510.70" stroke="#231f20" stroke-width="1.1" />
<text x="231.20" y="518.70" font-size="9.8" stroke="#231f20" stroke-width="0.08" text-anchor="end" transform="rotate(-45 231.20 518.70)" textLength="10.6" lengthAdjust="spacingAndGlyphs" >ND</text>
<text x="258.00" y="518.70" font-size="9.8" stroke="#231f20" stroke-width="0.08" text-anchor="end" transform="rotate(-45 258.00 518.70)" textLength="16.0" lengthAdjust="spacingAndGlyphs" >DAC</text>
<text x="230.10" y="391.50" font-size="9.4" stroke="#231f20" stroke-width="0.08" textLength="19.8" lengthAdjust="spacingAndGlyphs" >FasL</text>
<circle cx="226.60" cy="483.50" r="3.0" fill="#6aab45" stroke="#5d9a3c" stroke-width="0.6"/>
<circle cx="218.50" cy="496.00" r="3.0" fill="#6aab45" stroke="#5d9a3c" stroke-width="0.6"/>
<circle cx="226.60" cy="495.20" r="3.0" fill="#6aab45" stroke="#5d9a3c" stroke-width="0.6"/>
<circle cx="222.00" cy="502.50" r="3.0" fill="#6aab45" stroke="#5d9a3c" stroke-width="0.6"/>
<circle cx="230.10" cy="502.00" r="3.0" fill="#6aab45" stroke="#5d9a3c" stroke-width="0.6"/>
<polygon points="249.10,484.18 252.50,490.38 245.70,490.38" fill="#a6002a" stroke="#8a0f27" stroke-width="0.5" />
<polygon points="257.20,487.98 260.60,494.18 253.80,494.18" fill="#a6002a" stroke="#8a0f27" stroke-width="0.5" />
<polygon points="249.10,495.48 252.50,501.68 245.70,501.68" fill="#a6002a" stroke="#8a0f27" stroke-width="0.5" />
<polygon points="253.20,499.58 256.60,505.78 249.80,505.78" fill="#a6002a" stroke="#8a0f27" stroke-width="0.5" />
<polygon points="258.00,499.58 261.40,505.78 254.60,505.78" fill="#a6002a" stroke="#8a0f27" stroke-width="0.5" />
<line x1="215.20" y1="495.70" x2="235.60" y2="495.70" stroke="#111" stroke-width="1.4" />
<line x1="244.50" y1="497.10" x2="262.70" y2="497.10" stroke="#111" stroke-width="1.4" />
<text x="23.00" y="297.40" font-size="8.5" stroke="#231f20" stroke-width="0.08" text-anchor="middle" transform="rotate(-90 23.00 297.40)" textLength="67" lengthAdjust="spacingAndGlyphs" >Relative expression</text>
<text x="23.00" y="453.50" font-size="8.5" stroke="#231f20" stroke-width="0.08" text-anchor="middle" transform="rotate(-90 23.00 453.50)" textLength="67" lengthAdjust="spacingAndGlyphs" >Relative expression</text>
<line x1="338.60" y1="239.90" x2="338.60" y2="352.70" stroke="#231f20" stroke-width="1.7" />
<line x1="337.90" y1="352.00" x2="427.30" y2="352.00" stroke="#231f20" stroke-width="1.4" />
<line x1="335.20" y1="352.00" x2="338.60" y2="352.00" stroke="#231f20" stroke-width="1.1" />
<text x="317.70" y="356.00" font-size="7.7" stroke="#231f20" stroke-width="0.08" textLength="8.0" lengthAdjust="spacingAndGlyphs" >10</text>
<text x="326.00" y="352.70" font-size="5.2" stroke="#231f20" stroke-width="0.08" textLength="6.1" lengthAdjust="spacingAndGlyphs" >03</text>
<line x1="337.00" y1="341.07" x2="339.70" y2="341.07" stroke="#231f20" stroke-width="0.7" />
<line x1="337.00" y1="334.68" x2="339.70" y2="334.68" stroke="#231f20" stroke-width="0.7" />
<line x1="337.00" y1="330.15" x2="339.70" y2="330.15" stroke="#231f20" stroke-width="0.7" />
<line x1="337.00" y1="326.63" x2="339.70" y2="326.63" stroke="#231f20" stroke-width="0.7" />
<line x1="337.00" y1="323.75" x2="339.70" y2="323.75" stroke="#231f20" stroke-width="0.7" />
<line x1="337.00" y1="321.32" x2="339.70" y2="321.32" stroke="#231f20" stroke-width="0.7" />
<line x1="337.00" y1="319.22" x2="339.70" y2="319.22" stroke="#231f20" stroke-width="0.7" />
<line x1="337.00" y1="317.36" x2="339.70" y2="317.36" stroke="#231f20" stroke-width="0.7" />
<line x1="335.20" y1="315.70" x2="338.60" y2="315.70" stroke="#231f20" stroke-width="1.1" />
<text x="317.70" y="319.70" font-size="7.7" stroke="#231f20" stroke-width="0.08" textLength="8.0" lengthAdjust="spacingAndGlyphs" >10</text>
<text x="326.00" y="316.40" font-size="5.2" stroke="#231f20" stroke-width="0.08" textLength="6.1" lengthAdjust="spacingAndGlyphs" >04</text>
<line x1="337.00" y1="304.77" x2="339.70" y2="304.77" stroke="#231f20" stroke-width="0.7" />
<line x1="337.00" y1="298.38" x2="339.70" y2="298.38" stroke="#231f20" stroke-width="0.7" />
<line x1="337.00" y1="293.85" x2="339.70" y2="293.85" stroke="#231f20" stroke-width="0.7" />
<line x1="337.00" y1="290.33" x2="339.70" y2="290.33" stroke="#231f20" stroke-width="0.7" />
<line x1="337.00" y1="287.45" x2="339.70" y2="287.45" stroke="#231f20" stroke-width="0.7" />
<line x1="337.00" y1="285.02" x2="339.70" y2="285.02" stroke="#231f20" stroke-width="0.7" />
<line x1="337.00" y1="282.92" x2="339.70" y2="282.92" stroke="#231f20" stroke-width="0.7" />
<line x1="337.00" y1="281.06" x2="339.70" y2="281.06" stroke="#231f20" stroke-width="0.7" />
<line x1="335.20" y1="279.40" x2="338.60" y2="279.40" stroke="#231f20" stroke-width="1.1" />
<text x="317.70" y="283.40" font-size="7.7" stroke="#231f20" stroke-width="0.08" textLength="8.0" lengthAdjust="spacingAndGlyphs" >10</text>
<text x="326.00" y="280.10" font-size="5.2" stroke="#231f20" stroke-width="0.08" textLength="6.1" lengthAdjust="spacingAndGlyphs" >05</text>
<line x1="337.00" y1="268.47" x2="339.70" y2="268.47" stroke="#231f20" stroke-width="0.7" />
<line x1="337.00" y1="262.08" x2="339.70" y2="262.08" stroke="#231f20" stroke-width="0.7" />
<line x1="337.00" y1="257.55" x2="339.70" y2="257.55" stroke="#231f20" stroke-width="0.7" />
<line x1="337.00" y1="254.03" x2="339.70" y2="254.03" stroke="#231f20" stroke-width="0.7" />
<line x1="337.00" y1="251.15" x2="339.70" y2="251.15" stroke="#231f20" stroke-width="0.7" />
<line x1="337.00" y1="248.72" x2="339.70" y2="248.72" stroke="#231f20" stroke-width="0.7" />
<line x1="337.00" y1="246.62" x2="339.70" y2="246.62" stroke="#231f20" stroke-width="0.7" />
<line x1="337.00" y1="244.76" x2="339.70" y2="244.76" stroke="#231f20" stroke-width="0.7" />
<line x1="335.20" y1="243.10" x2="338.60" y2="243.10" stroke="#231f20" stroke-width="1.1" />
<text x="317.70" y="247.10" font-size="7.7" stroke="#231f20" stroke-width="0.08" textLength="8.0" lengthAdjust="spacingAndGlyphs" >10</text>
<text x="326.00" y="243.80" font-size="5.2" stroke="#231f20" stroke-width="0.08" textLength="6.1" lengthAdjust="spacingAndGlyphs" >06</text>
<line x1="360.70" y1="352.00" x2="360.70" y2="355.00" stroke="#231f20" stroke-width="1.1" />
<text x="365.70" y="362.20" font-size="8.4" stroke="#231f20" stroke-width="0.08" text-anchor="end" transform="rotate(-45 365.70 362.20)" textLength="11.2" lengthAdjust="spacingAndGlyphs" >PB</text>
<line x1="404.50" y1="352.00" x2="404.50" y2="355.00" stroke="#231f20" stroke-width="1.1" />
<text x="409.50" y="362.20" font-size="8.4" stroke="#231f20" stroke-width="0.08" text-anchor="end" transform="rotate(-45 409.50 362.20)" textLength="12.8" lengthAdjust="spacingAndGlyphs" >BM</text>
<text x="352.90" y="234.90" font-size="10.4" stroke="#231f20" stroke-width="0.08" textLength="58.2" lengthAdjust="spacingAndGlyphs" >Experiment 1</text>
<circle cx="349.10" cy="312.30" r="3.0" fill="#6aab45" stroke="#5d9a3c" stroke-width="0.6"/>
<circle cx="356.90" cy="316.00" r="3.0" fill="#6aab45" stroke="#5d9a3c" stroke-width="0.6"/>
<circle cx="349.10" cy="326.70" r="3.0" fill="#6aab45" stroke="#5d9a3c" stroke-width="0.6"/>
<circle cx="352.90" cy="329.00" r="3.0" fill="#6aab45" stroke="#5d9a3c" stroke-width="0.6"/>
<circle cx="356.90" cy="329.00" r="3.0" fill="#6aab45" stroke="#5d9a3c" stroke-width="0.6"/>
<polygon points="368.50,315.78 371.90,321.98 365.10,321.98" fill="#a6002a" stroke="#8a0f27" stroke-width="0.5" />
<polygon points="373.60,321.58 377.00,327.78 370.20,327.78" fill="#a6002a" stroke="#8a0f27" stroke-width="0.5" />
<polygon points="365.60,326.48 369.00,332.68 362.20,332.68" fill="#a6002a" stroke="#8a0f27" stroke-width="0.5" />
<polygon points="367.90,337.38 371.30,343.58 364.50,343.58" fill="#a6002a" stroke="#8a0f27" stroke-width="0.5" />
<polygon points="367.90,347.28 371.30,353.48 364.50,353.48" fill="#a6002a" stroke="#8a0f27" stroke-width="0.5" />
<circle cx="396.90" cy="310.00" r="3.0" fill="#6aab45" stroke="#5d9a3c" stroke-width="0.6"/>
<circle cx="396.00" cy="313.20" r="3.0" fill="#6aab45" stroke="#5d9a3c" stroke-width="0.6"/>
<circle cx="388.20" cy="317.50" r="3.0" fill="#6aab45" stroke="#5d9a3c" stroke-width="0.6"/>
<circle cx="391.70" cy="321.00" r="3.0" fill="#6aab45" stroke="#5d9a3c" stroke-width="0.6"/>
<circle cx="396.40" cy="319.80" r="3.0" fill="#6aab45" stroke="#5d9a3c" stroke-width="0.6"/>
<polygon points="408.20,273.38 411.60,279.58 404.80,279.58" fill="#a6002a" stroke="#8a0f27" stroke-width="0.5" />
<polygon points="417.10,273.88 420.50,280.08 413.70,280.08" fill="#a6002a" stroke="#8a0f27" stroke-width="0.5" />
<polygon points="410.00,279.68 413.40,285.88 406.60,285.88" fill="#a6002a" stroke="#8a0f27" stroke-width="0.5" />
<polygon points="412.90,282.08 416.30,288.28 409.50,288.28" fill="#a6002a" stroke="#8a0f27" stroke-width="0.5" />
<polygon points="416.40,279.68 419.80,285.88 413.00,285.88" fill="#a6002a" stroke="#8a0f27" stroke-width="0.5" />
<line x1="346.20" y1="321.00" x2="359.20" y2="321.00" stroke="#111" stroke-width="1.4" />
<line x1="364.40" y1="329.60" x2="376.00" y2="329.60" stroke="#111" stroke-width="1.4" />
<line x1="387.00" y1="316.30" x2="402.30" y2="316.30" stroke="#111" stroke-width="1.4" />
<line x1="407.70" y1="280.40" x2="418.70" y2="280.40" stroke="#111" stroke-width="1.4" />
<text x="391.30" y="258.10" font-size="7.0" stroke="#231f20" stroke-width="0.08" textLength="28.6" lengthAdjust="spacingAndGlyphs"><tspan font-style="italic">p</tspan>&lt;0.001</text>
<polyline points="394.60,297.50 394.60,261.80 416.40,261.80" fill="none" stroke="#333" stroke-width="1.0" />
<text x="417.10" y="331.70" font-size="10.5" stroke="#231f20" stroke-width="0.08" textLength="29.3" lengthAdjust="spacingAndGlyphs" >Day+7</text>
<text x="417.10" y="343.70" font-size="10.5" stroke="#231f20" stroke-width="0.08" textLength="43.2" lengthAdjust="spacingAndGlyphs" >No tumor</text>
<line x1="338.60" y1="395.70" x2="338.60" y2="508.20" stroke="#231f20" stroke-width="1.7" />
<line x1="337.90" y1="507.50" x2="470.00" y2="507.50" stroke="#231f20" stroke-width="1.4" />
<line x1="335.20" y1="507.50" x2="338.60" y2="507.50" stroke="#231f20" stroke-width="1.1" />
<text x="317.70" y="511.50" font-size="7.7" stroke="#231f20" stroke-width="0.08" textLength="8.0" lengthAdjust="spacingAndGlyphs" >10</text>
<text x="326.00" y="508.20" font-size="5.2" stroke="#231f20" stroke-width="0.08" textLength="6.1" lengthAdjust="spacingAndGlyphs" >03</text>
<line x1="337.00" y1="496.60" x2="339.70" y2="496.60" stroke="#231f20" stroke-width="0.7" />
<line x1="337.00" y1="490.23" x2="339.70" y2="490.23" stroke="#231f20" stroke-width="0.7" />
<line x1="337.00" y1="485.71" x2="339.70" y2="485.71" stroke="#231f20" stroke-width="0.7" />
<line x1="337.00" y1="482.20" x2="339.70" y2="482.20" stroke="#231f20" stroke-width="0.7" />
<line x1="337.00" y1="479.33" x2="339.70" y2="479.33" stroke="#231f20" stroke-width="0.7" />
<line x1="337.00" y1="476.91" x2="339.70" y2="476.91" stroke="#231f20" stroke-width="0.7" />
<line x1="337.00" y1="474.81" x2="339.70" y2="474.81" stroke="#231f20" stroke-width="0.7" />
<line x1="337.00" y1="472.96" x2="339.70" y2="472.96" stroke="#231f20" stroke-width="0.7" />
<line x1="335.20" y1="471.30" x2="338.60" y2="471.30" stroke="#231f20" stroke-width="1.1" />
<text x="317.70" y="475.30" font-size="7.7" stroke="#231f20" stroke-width="0.08" textLength="8.0" lengthAdjust="spacingAndGlyphs" >10</text>
<text x="326.00" y="472.00" font-size="5.2" stroke="#231f20" stroke-width="0.08" textLength="6.1" lengthAdjust="spacingAndGlyphs" >04</text>
<line x1="337.00" y1="460.40" x2="339.70" y2="460.40" stroke="#231f20" stroke-width="0.7" />
<line x1="337.00" y1="454.03" x2="339.70" y2="454.03" stroke="#231f20" stroke-width="0.7" />
<line x1="337.00" y1="449.51" x2="339.70" y2="449.51" stroke="#231f20" stroke-width="0.7" />
<line x1="337.00" y1="446.00" x2="339.70" y2="446.00" stroke="#231f20" stroke-width="0.7" />
<line x1="337.00" y1="443.13" x2="339.70" y2="443.13" stroke="#231f20" stroke-width="0.7" />
<line x1="337.00" y1="440.71" x2="339.70" y2="440.71" stroke="#231f20" stroke-width="0.7" />
<line x1="337.00" y1="438.61" x2="339.70" y2="438.61" stroke="#231f20" stroke-width="0.7" />
<line x1="337.00" y1="436.76" x2="339.70" y2="436.76" stroke="#231f20" stroke-width="0.7" />
<line x1="335.20" y1="435.10" x2="338.60" y2="435.10" stroke="#231f20" stroke-width="1.1" />
<text x="317.70" y="439.10" font-size="7.7" stroke="#231f20" stroke-width="0.08" textLength="8.0" lengthAdjust="spacingAndGlyphs" >10</text>
<text x="326.00" y="435.80" font-size="5.2" stroke="#231f20" stroke-width="0.08" textLength="6.1" lengthAdjust="spacingAndGlyphs" >05</text>
<line x1="337.00" y1="424.20" x2="339.70" y2="424.20" stroke="#231f20" stroke-width="0.7" />
<line x1="337.00" y1="417.83" x2="339.70" y2="417.83" stroke="#231f20" stroke-width="0.7" />
<line x1="337.00" y1="413.31" x2="339.70" y2="413.31" stroke="#231f20" stroke-width="0.7" />
<line x1="337.00" y1="409.80" x2="339.70" y2="409.80" stroke="#231f20" stroke-width="0.7" />
<line x1="337.00" y1="406.93" x2="339.70" y2="406.93" stroke="#231f20" stroke-width="0.7" />
<line x1="337.00" y1="404.51" x2="339.70" y2="404.51" stroke="#231f20" stroke-width="0.7" />
<line x1="337.00" y1="402.41" x2="339.70" y2="402.41" stroke="#231f20" stroke-width="0.7" />
<line x1="337.00" y1="400.56" x2="339.70" y2="400.56" stroke="#231f20" stroke-width="0.7" />
<line x1="335.20" y1="398.90" x2="338.60" y2="398.90" stroke="#231f20" stroke-width="1.1" />
<text x="317.70" y="402.90" font-size="7.7" stroke="#231f20" stroke-width="0.08" textLength="8.0" lengthAdjust="spacingAndGlyphs" >10</text>
<text x="326.00" y="399.60" font-size="5.2" stroke="#231f20" stroke-width="0.08" textLength="6.1" lengthAdjust="spacingAndGlyphs" >06</text>
<line x1="360.20" y1="507.50" x2="360.20" y2="510.50" stroke="#231f20" stroke-width="1.1" />
<text x="365.20" y="517.70" font-size="8.4" stroke="#231f20" stroke-width="0.08" text-anchor="end" transform="rotate(-45 365.20 517.70)" textLength="11.2" lengthAdjust="spacingAndGlyphs" >PB</text>
<line x1="404.00" y1="507.50" x2="404.00" y2="510.50" stroke="#231f20" stroke-width="1.1" />
<text x="409.00" y="517.70" font-size="8.4" stroke="#231f20" stroke-width="0.08" text-anchor="end" transform="rotate(-45 409.00 517.70)" textLength="17.6" lengthAdjust="spacingAndGlyphs" >NBM</text>
<line x1="447.90" y1="507.50" x2="447.90" y2="510.50" stroke="#231f20" stroke-width="1.1" />
<text x="452.90" y="517.70" font-size="8.4" stroke="#231f20" stroke-width="0.08" text-anchor="end" transform="rotate(-45 452.90 517.70)" textLength="37.4" lengthAdjust="spacingAndGlyphs" >Tumor BM</text>
<text x="374.60" y="390.70" font-size="10.4" stroke="#231f20" stroke-width="0.08" textLength="60.0" lengthAdjust="spacingAndGlyphs" >Experiment 2</text>
<circle cx="352.90" cy="426.30" r="3.0" fill="#6aab45" stroke="#5d9a3c" stroke-width="0.6"/>
<circle cx="348.60" cy="436.20" r="3.0" fill="#6aab45" stroke="#5d9a3c" stroke-width="0.6"/>
<circle cx="356.90" cy="434.80" r="3.0" fill="#6aab45" stroke="#5d9a3c" stroke-width="0.6"/>
<circle cx="352.90" cy="439.60" r="3.0" fill="#6aab45" stroke="#5d9a3c" stroke-width="0.6"/>
<circle cx="352.90" cy="454.00" r="3.0" fill="#6aab45" stroke="#5d9a3c" stroke-width="0.6"/>
<polygon points="368.70,442.28 372.10,448.48 365.30,448.48" fill="#a6002a" stroke="#8a0f27" stroke-width="0.5" />
<polygon points="360.60,447.18 364.00,453.38 357.20,453.38" fill="#a6002a" stroke="#8a0f27" stroke-width="0.5" />
<polygon points="369.00,452.28 372.40,458.48 365.60,458.48" fill="#a6002a" stroke="#8a0f27" stroke-width="0.5" />
<polygon points="373.70,451.48 377.10,457.68 370.30,457.68" fill="#a6002a" stroke="#8a0f27" stroke-width="0.5" />
<polygon points="365.20,459.58 368.60,465.78 361.80,465.78" fill="#a6002a" stroke="#8a0f27" stroke-width="0.5" />
<circle cx="393.00" cy="465.60" r="3.0" fill="#6aab45" stroke="#5d9a3c" stroke-width="0.6"/>
<circle cx="396.00" cy="466.20" r="3.0" fill="#6aab45" stroke="#5d9a3c" stroke-width="0.6"/>
<circle cx="399.00" cy="465.60" r="3.0" fill="#6aab45" stroke="#5d9a3c" stroke-width="0.6"/>
<circle cx="394.50" cy="466.50" r="3.0" fill="#6aab45" stroke="#5d9a3c" stroke-width="0.6"/>
<circle cx="397.50" cy="466.00" r="3.0" fill="#6aab45" stroke="#5d9a3c" stroke-width="0.6"/>
<polygon points="408.30,442.48 411.70,448.68 404.90,448.68" fill="#a6002a" stroke="#8a0f27" stroke-width="0.5" />
<polygon points="416.60,443.18 420.00,449.38 413.20,449.38" fill="#a6002a" stroke="#8a0f27" stroke-width="0.5" />
<polygon points="408.30,456.58 411.70,462.78 404.90,462.78" fill="#a6002a" stroke="#8a0f27" stroke-width="0.5" />
<polygon points="416.60,459.58 420.00,465.78 413.20,465.78" fill="#a6002a" stroke="#8a0f27" stroke-width="0.5" />
<polygon points="411.60,465.18 415.00,471.38 408.20,471.38" fill="#a6002a" stroke="#8a0f27" stroke-width="0.5" />
<circle cx="432.50" cy="465.50" r="3.0" fill="#6aab45" stroke="#5d9a3c" stroke-width="0.6"/>
<circle cx="439.50" cy="464.00" r="3.0" fill="#6aab45" stroke="#5d9a3c" stroke-width="0.6"/>
<circle cx="431.80" cy="464.00" r="3.0" fill="#6aab45" stroke="#5d9a3c" stroke-width="0.6"/>
<circle cx="440.10" cy="462.30" r="3.0" fill="#6aab45" stroke="#5d9a3c" stroke-width="0.6"/>
<circle cx="436.10" cy="473.40" r="3.0" fill="#6aab45" stroke="#5d9a3c" stroke-width="0.6"/>
<polygon points="452.00,438.18 455.40,444.38 448.60,444.38" fill="#a6002a" stroke="#8a0f27" stroke-width="0.5" />
<polygon points="460.30,441.48 463.70,447.68 456.90,447.68" fill="#a6002a" stroke="#8a0f27" stroke-width="0.5" />
<polygon points="452.00,445.68 455.40,451.88 448.60,451.88" fill="#a6002a" stroke="#8a0f27" stroke-width="0.5" />
<polygon points="455.30,452.58 458.70,458.78 451.90,458.78" fill="#a6002a" stroke="#8a0f27" stroke-width="0.5" />
<polygon points="460.30,452.58 463.70,458.78 456.90,458.78" fill="#a6002a" stroke="#8a0f27" stroke-width="0.5" />
<line x1="345.70" y1="436.40" x2="359.30" y2="436.40" stroke="#111" stroke-width="1.4" />
<line x1="363.30" y1="452.50" x2="374.80" y2="452.50" stroke="#111" stroke-width="1.4" />
<line x1="389.60" y1="465.90" x2="403.20" y2="465.90" stroke="#111" stroke-width="1.4" />
<line x1="407.30" y1="453.70" x2="418.40" y2="453.70" stroke="#111" stroke-width="1.4" />
<line x1="433.50" y1="464.80" x2="445.70" y2="464.80" stroke="#111" stroke-width="1.4" />
<line x1="451.20" y1="448.20" x2="462.80" y2="448.20" stroke="#111" stroke-width="1.4" />
<text x="345.10" y="402.50" font-size="7.0" stroke="#231f20" stroke-width="0.08" textLength="25.0" lengthAdjust="spacingAndGlyphs"><tspan font-style="italic">p</tspan>&lt;0.05</text>
<polyline points="346.60,406.70 368.80,406.70 368.80,437.30" fill="none" stroke="#333" stroke-width="1.0" />
<text x="435.00" y="413.50" font-size="7.0" stroke="#231f20" stroke-width="0.08" textLength="23.8" lengthAdjust="spacingAndGlyphs"><tspan font-style="italic">p</tspan>&lt;0.01</text>
<polyline points="436.10,453.20 436.10,417.40 457.80,417.40" fill="none" stroke="#333" stroke-width="1.0" />
<text x="456.90" y="485.10" font-size="10.5" stroke="#231f20" stroke-width="0.08" textLength="35.0" lengthAdjust="spacingAndGlyphs" >Day+14</text>
<text x="456.90" y="496.60" font-size="10.5" stroke="#231f20" stroke-width="0.08" textLength="37.5" lengthAdjust="spacingAndGlyphs" >IF tumor</text>
<text x="299.40" y="295.00" font-size="9.0" stroke="#231f20" stroke-width="0.08" text-anchor="middle" transform="rotate(-90 299.40 295.00)" textLength="72.3" lengthAdjust="spacingAndGlyphs" >Absolute number of</text>
<text x="311.00" y="295.80" font-size="9.0" stroke="#231f20" stroke-width="0.08" text-anchor="middle" transform="rotate(-90 311.00 295.80)" textLength="59.3" lengthAdjust="spacingAndGlyphs" >HSPC-NK cells</text>
<text x="299.40" y="450.40" font-size="9.0" stroke="#231f20" stroke-width="0.08" text-anchor="middle" transform="rotate(-90 299.40 450.40)" textLength="72.3" lengthAdjust="spacingAndGlyphs" >Absolute number of</text>
<text x="311.00" y="451.20" font-size="9.0" stroke="#231f20" stroke-width="0.08" text-anchor="middle" transform="rotate(-90 311.00 451.20)" textLength="59.3" lengthAdjust="spacingAndGlyphs" >HSPC-NK cells</text>
<circle cx="433.40" cy="221.10" r="3.0" fill="#6aab45" stroke="#5d9a3c" stroke-width="0.6"/>
<polygon points="433.40,229.68 436.80,235.88 430.00,235.88" fill="#a6002a" stroke="#8a0f27" stroke-width="0.5" />
<text x="439.70" y="223.80" font-size="7.8" stroke="#231f20" stroke-width="0.08" textLength="47.2" lengthAdjust="spacingAndGlyphs" >No treatment</text>
<text x="439.70" y="235.40" font-size="7.8" stroke="#231f20" stroke-width="0.08" textLength="38.5" lengthAdjust="spacingAndGlyphs" >Decitabine</text>
</svg>
<div id="frame"></div>
</div>
</body></html>
